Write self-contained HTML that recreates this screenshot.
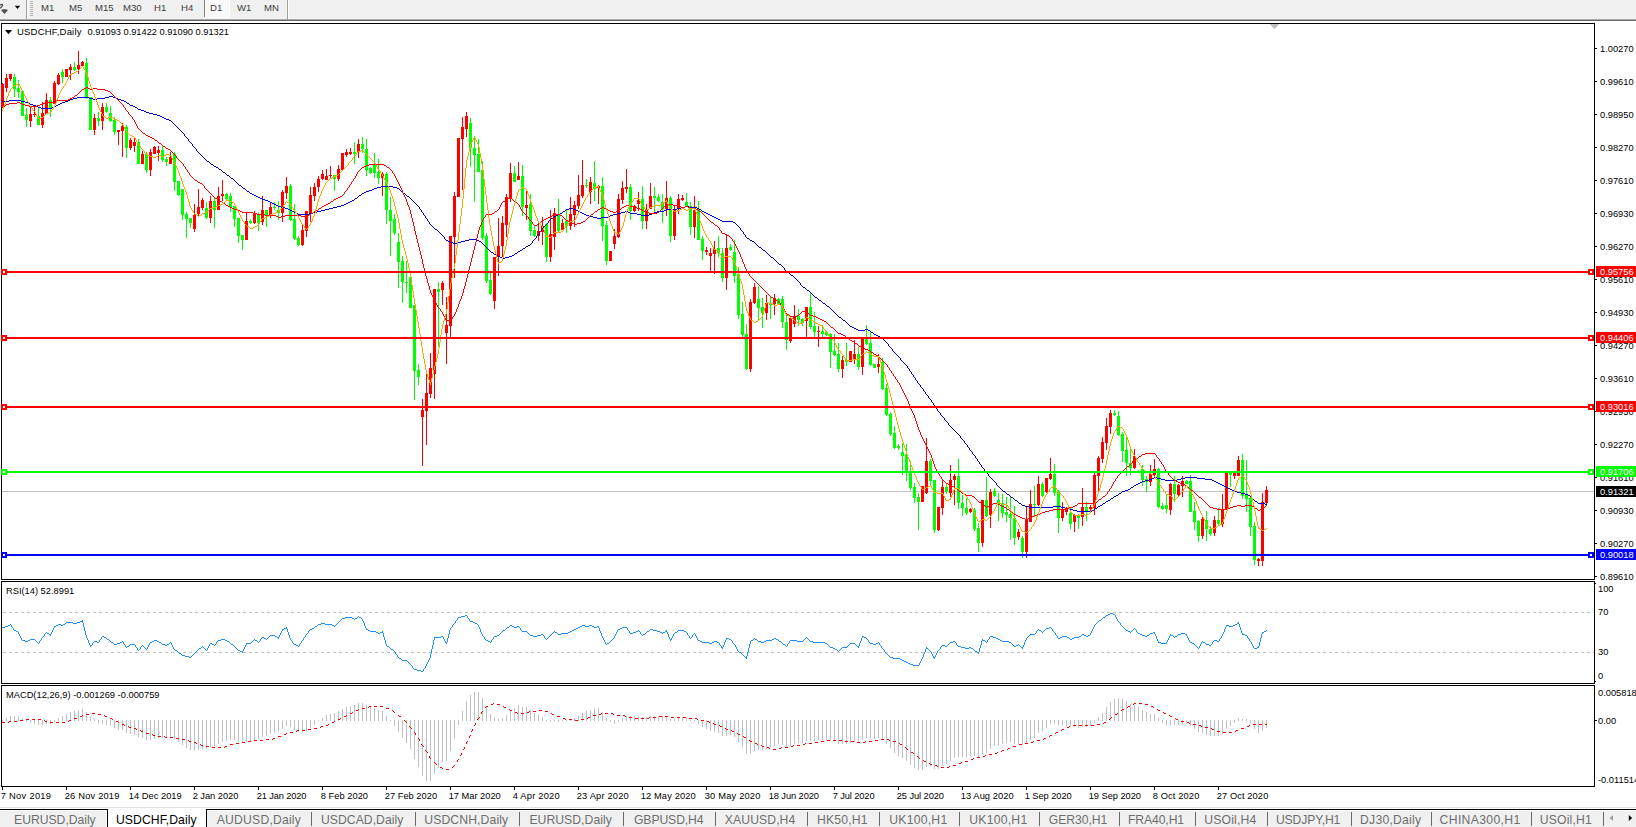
<!DOCTYPE html>
<html><head><meta charset="utf-8"><title>USDCHF,Daily</title>
<style>html,body{margin:0;padding:0;background:#fff;overflow:hidden}body{width:1636px;height:827px;font-family:"Liberation Sans", sans-serif}svg text{font-family:"Liberation Sans", sans-serif;white-space:pre}</style>
</head><body>
<svg width="1636" height="827" viewBox="0 0 1636 827" style="display:block;font-family:'Liberation Sans', sans-serif"><rect x="0" y="0" width="1636" height="18" fill="#f0f0f0" />
<rect x="0" y="18" width="1636" height="1" fill="#f4f4f4" />
<rect x="0" y="19" width="1636" height="1" fill="#a8a8a8" />
<rect x="0" y="20" width="1636" height="1" fill="#6a6a6a" />
<rect x="205" y="0" width="24" height="17" fill="#f8f8f8" />
<rect x="204" y="0" width="1" height="17" fill="#808080" />
<rect x="204" y="17" width="26" height="1" fill="#ffffff" />
<rect x="229" y="0" width="1" height="17" fill="#ffffff" />
<rect x="26" y="0" width="1" height="19" fill="#a0a0a0" />
<rect x="27" y="0" width="1" height="19" fill="#ffffff" />
<rect x="287" y="0" width="1" height="19" fill="#a0a0a0" />
<rect x="288" y="0" width="1" height="19" fill="#ffffff" />
<rect x="30" y="1" width="3" height="1" fill="#b4b4b4" />
<rect x="30" y="3" width="3" height="1" fill="#b4b4b4" />
<rect x="30" y="5" width="3" height="1" fill="#b4b4b4" />
<rect x="30" y="7" width="3" height="1" fill="#b4b4b4" />
<rect x="30" y="9" width="3" height="1" fill="#b4b4b4" />
<rect x="30" y="11" width="3" height="1" fill="#b4b4b4" />
<rect x="30" y="13" width="3" height="1" fill="#b4b4b4" />
<rect x="30" y="15" width="3" height="1" fill="#b4b4b4" />
<path d="M14.8 5.8 h5.4 l-2.7 3.3 z" fill="#000"/>
<path d="M0 5.2 q2 -1.4 2.6 -0.2 q0.3 1 -2.6 3.2" stroke="#4a4a4a" stroke-width="1.3" fill="none"/>
<path d="M1 10 l2.2 -0.8 h2.6 l2.2 0.8 l-3.5 3.9 z" fill="#505050"/>
<text x="41" y="10.8" font-size="9.6" fill="#3c3c3c" text-anchor="start" >M1</text>
<text x="69" y="10.8" font-size="9.6" fill="#3c3c3c" text-anchor="start" >M5</text>
<text x="95" y="10.8" font-size="9.6" fill="#3c3c3c" text-anchor="start" >M15</text>
<text x="123" y="10.8" font-size="9.6" fill="#3c3c3c" text-anchor="start" >M30</text>
<text x="154" y="10.8" font-size="9.6" fill="#3c3c3c" text-anchor="start" >H1</text>
<text x="181" y="10.8" font-size="9.6" fill="#3c3c3c" text-anchor="start" >H4</text>
<text x="210" y="10.8" font-size="9.6" fill="#3c3c3c" text-anchor="start" >D1</text>
<text x="237" y="10.8" font-size="9.6" fill="#3c3c3c" text-anchor="start" >W1</text>
<text x="264" y="10.8" font-size="9.6" fill="#3c3c3c" text-anchor="start" >MN</text>
<rect x="1" y="23" width="1594" height="1" fill="#000" />
<rect x="1" y="579" width="1594" height="1" fill="#000" />
<rect x="1" y="23" width="1" height="557" fill="#000" />
<rect x="1594" y="23" width="1" height="557" fill="#000" />
<rect x="1" y="581" width="1594" height="1" fill="#000" />
<rect x="1" y="683" width="1594" height="1" fill="#000" />
<rect x="1" y="581" width="1" height="103" fill="#000" />
<rect x="1594" y="581" width="1" height="103" fill="#000" />
<rect x="1" y="685" width="1594" height="1" fill="#000" />
<rect x="1" y="786" width="1594" height="1" fill="#000" />
<rect x="1" y="685" width="1" height="102" fill="#000" />
<rect x="1594" y="685" width="1" height="102" fill="#000" />
<path d="M1269.7 24 h9.6 l-4.8 5.2 z" fill="#c0c0c0"/>
<g shape-rendering="crispEdges">
<rect x="2" y="491" width="1592" height="1" fill="#c0c0c0" />
<rect x="2" y="83" width="1" height="24" fill="#ff0000" />
<rect x="1" y="84" width="3" height="23" fill="#ff0000" />
<rect x="6" y="74" width="1" height="18" fill="#ff0000" />
<rect x="5" y="78" width="3" height="10" fill="#ff0000" />
<rect x="10" y="74" width="1" height="7" fill="#ff0000" />
<rect x="9" y="74" width="3" height="5" fill="#ff0000" />
<rect x="14" y="74" width="1" height="23" fill="#00ff00" />
<rect x="13" y="77" width="3" height="12" fill="#00ff00" />
<rect x="18" y="80" width="1" height="18" fill="#00ff00" />
<rect x="17" y="88" width="3" height="4" fill="#00ff00" />
<rect x="22" y="91" width="1" height="25" fill="#00ff00" />
<rect x="21" y="91" width="3" height="25" fill="#00ff00" />
<rect x="26" y="108" width="1" height="19" fill="#00ff00" />
<rect x="25" y="115" width="3" height="5" fill="#00ff00" />
<rect x="30" y="107" width="1" height="20" fill="#ff0000" />
<rect x="29" y="114" width="3" height="7" fill="#ff0000" />
<rect x="34" y="106" width="1" height="11" fill="#ff0000" />
<rect x="33" y="114" width="3" height="1" fill="#ff0000" />
<rect x="38" y="107" width="1" height="18" fill="#00ff00" />
<rect x="37" y="116" width="3" height="9" fill="#00ff00" />
<rect x="42" y="102" width="1" height="26" fill="#ff0000" />
<rect x="41" y="113" width="3" height="12" fill="#ff0000" />
<rect x="46" y="93" width="1" height="21" fill="#ff0000" />
<rect x="45" y="100" width="3" height="14" fill="#ff0000" />
<rect x="50" y="97" width="1" height="20" fill="#00ff00" />
<rect x="49" y="100" width="3" height="8" fill="#00ff00" />
<rect x="54" y="81" width="1" height="23" fill="#ff0000" />
<rect x="53" y="83" width="3" height="21" fill="#ff0000" />
<rect x="58" y="73" width="1" height="12" fill="#ff0000" />
<rect x="57" y="75" width="3" height="9" fill="#ff0000" />
<rect x="62" y="69" width="1" height="14" fill="#00ff00" />
<rect x="61" y="72" width="3" height="5" fill="#00ff00" />
<rect x="66" y="69" width="1" height="8" fill="#ff0000" />
<rect x="65" y="69" width="3" height="8" fill="#ff0000" />
<rect x="70" y="64" width="1" height="16" fill="#ff0000" />
<rect x="69" y="67" width="3" height="3" fill="#ff0000" />
<rect x="74" y="62" width="1" height="9" fill="#00ff00" />
<rect x="73" y="67" width="3" height="3" fill="#00ff00" />
<rect x="78" y="51" width="1" height="23" fill="#ff0000" />
<rect x="77" y="65" width="3" height="4" fill="#ff0000" />
<rect x="82" y="61" width="1" height="5" fill="#ff0000" />
<rect x="81" y="62" width="3" height="4" fill="#ff0000" />
<rect x="86" y="58" width="1" height="41" fill="#00ff00" />
<rect x="85" y="63" width="3" height="35" fill="#00ff00" />
<rect x="90" y="97" width="1" height="33" fill="#00ff00" />
<rect x="89" y="97" width="3" height="33" fill="#00ff00" />
<rect x="94" y="114" width="1" height="21" fill="#ff0000" />
<rect x="93" y="118" width="3" height="12" fill="#ff0000" />
<rect x="98" y="112" width="1" height="14" fill="#00ff00" />
<rect x="97" y="118" width="3" height="3" fill="#00ff00" />
<rect x="102" y="103" width="1" height="27" fill="#ff0000" />
<rect x="101" y="107" width="3" height="14" fill="#ff0000" />
<rect x="106" y="103" width="1" height="10" fill="#00ff00" />
<rect x="105" y="107" width="3" height="5" fill="#00ff00" />
<rect x="110" y="106" width="1" height="16" fill="#00ff00" />
<rect x="109" y="113" width="3" height="8" fill="#00ff00" />
<rect x="114" y="117" width="1" height="18" fill="#00ff00" />
<rect x="113" y="120" width="3" height="12" fill="#00ff00" />
<rect x="118" y="130" width="1" height="15" fill="#ff0000" />
<rect x="117" y="130" width="3" height="2" fill="#ff0000" />
<rect x="122" y="123" width="1" height="34" fill="#ff0000" />
<rect x="121" y="126" width="3" height="5" fill="#ff0000" />
<rect x="126" y="125" width="1" height="33" fill="#00ff00" />
<rect x="125" y="127" width="3" height="21" fill="#00ff00" />
<rect x="130" y="138" width="1" height="12" fill="#ff0000" />
<rect x="129" y="140" width="3" height="8" fill="#ff0000" />
<rect x="134" y="138" width="1" height="14" fill="#ff0000" />
<rect x="133" y="142" width="3" height="4" fill="#ff0000" />
<rect x="138" y="139" width="1" height="25" fill="#00ff00" />
<rect x="137" y="142" width="3" height="22" fill="#00ff00" />
<rect x="142" y="151" width="1" height="13" fill="#ff0000" />
<rect x="141" y="154" width="3" height="10" fill="#ff0000" />
<rect x="146" y="152" width="1" height="21" fill="#00ff00" />
<rect x="145" y="154" width="3" height="16" fill="#00ff00" />
<rect x="150" y="149" width="1" height="27" fill="#ff0000" />
<rect x="149" y="152" width="3" height="18" fill="#ff0000" />
<rect x="154" y="146" width="1" height="8" fill="#ff0000" />
<rect x="153" y="147" width="3" height="7" fill="#ff0000" />
<rect x="158" y="146" width="1" height="15" fill="#ff0000" />
<rect x="157" y="150" width="3" height="3" fill="#ff0000" />
<rect x="162" y="146" width="1" height="16" fill="#00ff00" />
<rect x="161" y="150" width="3" height="10" fill="#00ff00" />
<rect x="166" y="157" width="1" height="9" fill="#00ff00" />
<rect x="165" y="159" width="3" height="3" fill="#00ff00" />
<rect x="170" y="152" width="1" height="12" fill="#ff0000" />
<rect x="169" y="157" width="3" height="7" fill="#ff0000" />
<rect x="174" y="152" width="1" height="39" fill="#00ff00" />
<rect x="173" y="154" width="3" height="28" fill="#00ff00" />
<rect x="178" y="181" width="1" height="15" fill="#00ff00" />
<rect x="177" y="181" width="3" height="14" fill="#00ff00" />
<rect x="182" y="189" width="1" height="31" fill="#00ff00" />
<rect x="181" y="189" width="3" height="26" fill="#00ff00" />
<rect x="186" y="212" width="1" height="26" fill="#00ff00" />
<rect x="185" y="214" width="3" height="5" fill="#00ff00" />
<rect x="190" y="218" width="1" height="10" fill="#00ff00" />
<rect x="189" y="218" width="3" height="5" fill="#00ff00" />
<rect x="194" y="204" width="1" height="28" fill="#ff0000" />
<rect x="193" y="215" width="3" height="14" fill="#ff0000" />
<rect x="198" y="189" width="1" height="28" fill="#ff0000" />
<rect x="197" y="207" width="3" height="7" fill="#ff0000" />
<rect x="202" y="198" width="1" height="12" fill="#ff0000" />
<rect x="201" y="200" width="3" height="8" fill="#ff0000" />
<rect x="206" y="202" width="1" height="17" fill="#00ff00" />
<rect x="205" y="208" width="3" height="10" fill="#00ff00" />
<rect x="210" y="196" width="1" height="27" fill="#ff0000" />
<rect x="209" y="201" width="3" height="17" fill="#ff0000" />
<rect x="214" y="198" width="1" height="30" fill="#00ff00" />
<rect x="213" y="201" width="3" height="9" fill="#00ff00" />
<rect x="218" y="187" width="1" height="23" fill="#ff0000" />
<rect x="217" y="196" width="3" height="14" fill="#ff0000" />
<rect x="222" y="180" width="1" height="21" fill="#ff0000" />
<rect x="221" y="194" width="3" height="2" fill="#ff0000" />
<rect x="226" y="193" width="1" height="8" fill="#00ff00" />
<rect x="225" y="194" width="3" height="5" fill="#00ff00" />
<rect x="230" y="193" width="1" height="19" fill="#00ff00" />
<rect x="229" y="196" width="3" height="11" fill="#00ff00" />
<rect x="234" y="206" width="1" height="21" fill="#00ff00" />
<rect x="233" y="206" width="3" height="13" fill="#00ff00" />
<rect x="238" y="218" width="1" height="25" fill="#00ff00" />
<rect x="237" y="218" width="3" height="18" fill="#00ff00" />
<rect x="242" y="235" width="1" height="15" fill="#00ff00" />
<rect x="241" y="235" width="3" height="5" fill="#00ff00" />
<rect x="246" y="213" width="1" height="27" fill="#ff0000" />
<rect x="245" y="221" width="3" height="19" fill="#ff0000" />
<rect x="250" y="219" width="1" height="5" fill="#00ff00" />
<rect x="249" y="221" width="3" height="2" fill="#00ff00" />
<rect x="254" y="211" width="1" height="13" fill="#ff0000" />
<rect x="253" y="214" width="3" height="9" fill="#ff0000" />
<rect x="258" y="212" width="1" height="19" fill="#00ff00" />
<rect x="257" y="214" width="3" height="9" fill="#00ff00" />
<rect x="262" y="196" width="1" height="29" fill="#ff0000" />
<rect x="261" y="210" width="3" height="12" fill="#ff0000" />
<rect x="266" y="210" width="1" height="17" fill="#00ff00" />
<rect x="265" y="210" width="3" height="5" fill="#00ff00" />
<rect x="270" y="203" width="1" height="15" fill="#ff0000" />
<rect x="269" y="207" width="3" height="8" fill="#ff0000" />
<rect x="274" y="202" width="1" height="8" fill="#00ff00" />
<rect x="273" y="207" width="3" height="1" fill="#00ff00" />
<rect x="278" y="201" width="1" height="19" fill="#00ff00" />
<rect x="277" y="210" width="3" height="3" fill="#00ff00" />
<rect x="282" y="190" width="1" height="32" fill="#ff0000" />
<rect x="281" y="192" width="3" height="21" fill="#ff0000" />
<rect x="286" y="177" width="1" height="22" fill="#ff0000" />
<rect x="285" y="186" width="3" height="7" fill="#ff0000" />
<rect x="290" y="184" width="1" height="37" fill="#00ff00" />
<rect x="289" y="186" width="3" height="34" fill="#00ff00" />
<rect x="294" y="204" width="1" height="36" fill="#00ff00" />
<rect x="293" y="219" width="3" height="20" fill="#00ff00" />
<rect x="298" y="236" width="1" height="10" fill="#00ff00" />
<rect x="297" y="238" width="3" height="7" fill="#00ff00" />
<rect x="302" y="225" width="1" height="21" fill="#ff0000" />
<rect x="301" y="230" width="3" height="15" fill="#ff0000" />
<rect x="306" y="211" width="1" height="26" fill="#ff0000" />
<rect x="305" y="211" width="3" height="20" fill="#ff0000" />
<rect x="310" y="187" width="1" height="35" fill="#ff0000" />
<rect x="309" y="195" width="3" height="18" fill="#ff0000" />
<rect x="314" y="183" width="1" height="18" fill="#ff0000" />
<rect x="313" y="187" width="3" height="9" fill="#ff0000" />
<rect x="318" y="176" width="1" height="16" fill="#ff0000" />
<rect x="317" y="179" width="3" height="8" fill="#ff0000" />
<rect x="322" y="170" width="1" height="10" fill="#ff0000" />
<rect x="321" y="174" width="3" height="5" fill="#ff0000" />
<rect x="326" y="169" width="1" height="11" fill="#ff0000" />
<rect x="325" y="176" width="3" height="4" fill="#ff0000" />
<rect x="330" y="166" width="1" height="12" fill="#ff0000" />
<rect x="329" y="175" width="3" height="1" fill="#ff0000" />
<rect x="334" y="175" width="1" height="16" fill="#00ff00" />
<rect x="333" y="175" width="3" height="4" fill="#00ff00" />
<rect x="338" y="165" width="1" height="16" fill="#ff0000" />
<rect x="337" y="169" width="3" height="10" fill="#ff0000" />
<rect x="342" y="153" width="1" height="17" fill="#ff0000" />
<rect x="341" y="153" width="3" height="17" fill="#ff0000" />
<rect x="346" y="149" width="1" height="8" fill="#ff0000" />
<rect x="345" y="152" width="3" height="3" fill="#ff0000" />
<rect x="350" y="148" width="1" height="7" fill="#ff0000" />
<rect x="349" y="152" width="3" height="2" fill="#ff0000" />
<rect x="354" y="142" width="1" height="22" fill="#00ff00" />
<rect x="353" y="152" width="3" height="2" fill="#00ff00" />
<rect x="358" y="139" width="1" height="19" fill="#ff0000" />
<rect x="357" y="144" width="3" height="8" fill="#ff0000" />
<rect x="362" y="137" width="1" height="16" fill="#00ff00" />
<rect x="361" y="144" width="3" height="5" fill="#00ff00" />
<rect x="366" y="139" width="1" height="37" fill="#00ff00" />
<rect x="365" y="149" width="3" height="21" fill="#00ff00" />
<rect x="370" y="167" width="1" height="7" fill="#00ff00" />
<rect x="369" y="168" width="3" height="5" fill="#00ff00" />
<rect x="374" y="153" width="1" height="25" fill="#00ff00" />
<rect x="373" y="165" width="3" height="8" fill="#00ff00" />
<rect x="378" y="159" width="1" height="25" fill="#00ff00" />
<rect x="377" y="172" width="3" height="6" fill="#00ff00" />
<rect x="382" y="172" width="1" height="24" fill="#ff0000" />
<rect x="381" y="174" width="3" height="4" fill="#ff0000" />
<rect x="386" y="172" width="1" height="52" fill="#00ff00" />
<rect x="385" y="174" width="3" height="36" fill="#00ff00" />
<rect x="390" y="197" width="1" height="59" fill="#00ff00" />
<rect x="389" y="210" width="3" height="11" fill="#00ff00" />
<rect x="394" y="214" width="1" height="21" fill="#00ff00" />
<rect x="393" y="219" width="3" height="14" fill="#00ff00" />
<rect x="398" y="233" width="1" height="55" fill="#00ff00" />
<rect x="397" y="242" width="3" height="20" fill="#00ff00" />
<rect x="402" y="256" width="1" height="47" fill="#00ff00" />
<rect x="401" y="261" width="3" height="21" fill="#00ff00" />
<rect x="406" y="261" width="1" height="32" fill="#00ff00" />
<rect x="405" y="282" width="3" height="1" fill="#00ff00" />
<rect x="410" y="277" width="1" height="31" fill="#00ff00" />
<rect x="409" y="277" width="3" height="31" fill="#00ff00" />
<rect x="414" y="305" width="1" height="95" fill="#00ff00" />
<rect x="413" y="305" width="3" height="66" fill="#00ff00" />
<rect x="418" y="364" width="1" height="21" fill="#00ff00" />
<rect x="417" y="370" width="3" height="7" fill="#00ff00" />
<rect x="422" y="399" width="1" height="67" fill="#ff0000" />
<rect x="421" y="410" width="3" height="7" fill="#ff0000" />
<rect x="426" y="373" width="1" height="72" fill="#ff0000" />
<rect x="425" y="393" width="3" height="18" fill="#ff0000" />
<rect x="430" y="353" width="1" height="45" fill="#ff0000" />
<rect x="429" y="368" width="3" height="26" fill="#ff0000" />
<rect x="434" y="289" width="1" height="110" fill="#ff0000" />
<rect x="433" y="289" width="3" height="85" fill="#ff0000" />
<rect x="438" y="282" width="1" height="65" fill="#00ff00" />
<rect x="437" y="289" width="3" height="3" fill="#00ff00" />
<rect x="442" y="281" width="1" height="24" fill="#ff0000" />
<rect x="441" y="283" width="3" height="7" fill="#ff0000" />
<rect x="446" y="297" width="1" height="67" fill="#ff0000" />
<rect x="445" y="325" width="3" height="8" fill="#ff0000" />
<rect x="450" y="236" width="1" height="101" fill="#ff0000" />
<rect x="449" y="236" width="3" height="90" fill="#ff0000" />
<rect x="454" y="192" width="1" height="86" fill="#ff0000" />
<rect x="453" y="196" width="3" height="41" fill="#ff0000" />
<rect x="458" y="138" width="1" height="59" fill="#ff0000" />
<rect x="457" y="138" width="3" height="59" fill="#ff0000" />
<rect x="462" y="117" width="1" height="73" fill="#ff0000" />
<rect x="461" y="127" width="3" height="12" fill="#ff0000" />
<rect x="466" y="112" width="1" height="25" fill="#ff0000" />
<rect x="465" y="116" width="3" height="13" fill="#ff0000" />
<rect x="470" y="118" width="1" height="49" fill="#00ff00" />
<rect x="469" y="123" width="3" height="25" fill="#00ff00" />
<rect x="474" y="136" width="1" height="66" fill="#00ff00" />
<rect x="473" y="148" width="3" height="7" fill="#00ff00" />
<rect x="478" y="139" width="1" height="33" fill="#00ff00" />
<rect x="477" y="154" width="3" height="18" fill="#00ff00" />
<rect x="482" y="161" width="1" height="79" fill="#00ff00" />
<rect x="481" y="170" width="3" height="68" fill="#00ff00" />
<rect x="486" y="233" width="1" height="50" fill="#00ff00" />
<rect x="485" y="236" width="3" height="45" fill="#00ff00" />
<rect x="490" y="273" width="1" height="22" fill="#00ff00" />
<rect x="489" y="280" width="3" height="14" fill="#00ff00" />
<rect x="494" y="257" width="1" height="52" fill="#ff0000" />
<rect x="493" y="257" width="3" height="44" fill="#ff0000" />
<rect x="498" y="218" width="1" height="58" fill="#ff0000" />
<rect x="497" y="246" width="3" height="11" fill="#ff0000" />
<rect x="502" y="216" width="1" height="41" fill="#ff0000" />
<rect x="501" y="223" width="3" height="23" fill="#ff0000" />
<rect x="506" y="194" width="1" height="43" fill="#ff0000" />
<rect x="505" y="197" width="3" height="28" fill="#ff0000" />
<rect x="510" y="163" width="1" height="39" fill="#ff0000" />
<rect x="509" y="173" width="3" height="25" fill="#ff0000" />
<rect x="514" y="166" width="1" height="16" fill="#00ff00" />
<rect x="513" y="173" width="3" height="9" fill="#00ff00" />
<rect x="518" y="162" width="1" height="18" fill="#ff0000" />
<rect x="517" y="176" width="3" height="4" fill="#ff0000" />
<rect x="522" y="165" width="1" height="51" fill="#00ff00" />
<rect x="521" y="176" width="3" height="31" fill="#00ff00" />
<rect x="526" y="191" width="1" height="29" fill="#ff0000" />
<rect x="525" y="205" width="3" height="3" fill="#ff0000" />
<rect x="530" y="194" width="1" height="42" fill="#00ff00" />
<rect x="529" y="204" width="3" height="27" fill="#00ff00" />
<rect x="534" y="226" width="1" height="11" fill="#00ff00" />
<rect x="533" y="230" width="3" height="6" fill="#00ff00" />
<rect x="538" y="223" width="1" height="18" fill="#ff0000" />
<rect x="537" y="231" width="3" height="5" fill="#ff0000" />
<rect x="542" y="217" width="1" height="28" fill="#ff0000" />
<rect x="541" y="226" width="3" height="6" fill="#ff0000" />
<rect x="546" y="223" width="1" height="39" fill="#00ff00" />
<rect x="545" y="224" width="3" height="33" fill="#00ff00" />
<rect x="550" y="210" width="1" height="52" fill="#ff0000" />
<rect x="549" y="234" width="3" height="23" fill="#ff0000" />
<rect x="554" y="208" width="1" height="42" fill="#ff0000" />
<rect x="553" y="213" width="3" height="24" fill="#ff0000" />
<rect x="558" y="199" width="1" height="34" fill="#00ff00" />
<rect x="557" y="214" width="3" height="17" fill="#00ff00" />
<rect x="562" y="219" width="1" height="11" fill="#ff0000" />
<rect x="561" y="223" width="3" height="7" fill="#ff0000" />
<rect x="566" y="210" width="1" height="23" fill="#00ff00" />
<rect x="565" y="221" width="3" height="5" fill="#00ff00" />
<rect x="570" y="197" width="1" height="33" fill="#ff0000" />
<rect x="569" y="214" width="3" height="12" fill="#ff0000" />
<rect x="574" y="201" width="1" height="26" fill="#ff0000" />
<rect x="573" y="205" width="3" height="10" fill="#ff0000" />
<rect x="578" y="175" width="1" height="34" fill="#ff0000" />
<rect x="577" y="195" width="3" height="11" fill="#ff0000" />
<rect x="582" y="160" width="1" height="38" fill="#ff0000" />
<rect x="581" y="185" width="3" height="11" fill="#ff0000" />
<rect x="586" y="179" width="1" height="9" fill="#00ff00" />
<rect x="585" y="185" width="3" height="1" fill="#00ff00" />
<rect x="590" y="177" width="1" height="27" fill="#ff0000" />
<rect x="589" y="182" width="3" height="10" fill="#ff0000" />
<rect x="594" y="161" width="1" height="40" fill="#00ff00" />
<rect x="593" y="183" width="3" height="6" fill="#00ff00" />
<rect x="598" y="185" width="1" height="19" fill="#ff0000" />
<rect x="597" y="186" width="3" height="2" fill="#ff0000" />
<rect x="602" y="177" width="1" height="64" fill="#00ff00" />
<rect x="601" y="186" width="3" height="40" fill="#00ff00" />
<rect x="606" y="221" width="1" height="44" fill="#00ff00" />
<rect x="605" y="225" width="3" height="36" fill="#00ff00" />
<rect x="610" y="251" width="1" height="10" fill="#ff0000" />
<rect x="609" y="251" width="3" height="10" fill="#ff0000" />
<rect x="614" y="229" width="1" height="20" fill="#ff0000" />
<rect x="613" y="236" width="3" height="8" fill="#ff0000" />
<rect x="618" y="194" width="1" height="44" fill="#ff0000" />
<rect x="617" y="199" width="3" height="38" fill="#ff0000" />
<rect x="622" y="181" width="1" height="23" fill="#ff0000" />
<rect x="621" y="188" width="3" height="12" fill="#ff0000" />
<rect x="626" y="169" width="1" height="24" fill="#ff0000" />
<rect x="625" y="187" width="3" height="2" fill="#ff0000" />
<rect x="630" y="184" width="1" height="36" fill="#00ff00" />
<rect x="629" y="187" width="3" height="24" fill="#00ff00" />
<rect x="634" y="205" width="1" height="7" fill="#ff0000" />
<rect x="633" y="206" width="3" height="5" fill="#ff0000" />
<rect x="638" y="192" width="1" height="19" fill="#ff0000" />
<rect x="637" y="200" width="3" height="4" fill="#ff0000" />
<rect x="642" y="186" width="1" height="43" fill="#00ff00" />
<rect x="641" y="199" width="3" height="22" fill="#00ff00" />
<rect x="646" y="204" width="1" height="25" fill="#ff0000" />
<rect x="645" y="209" width="3" height="12" fill="#ff0000" />
<rect x="650" y="183" width="1" height="26" fill="#ff0000" />
<rect x="649" y="196" width="3" height="13" fill="#ff0000" />
<rect x="654" y="187" width="1" height="27" fill="#00ff00" />
<rect x="653" y="196" width="3" height="2" fill="#00ff00" />
<rect x="658" y="194" width="1" height="8" fill="#00ff00" />
<rect x="657" y="197" width="3" height="4" fill="#00ff00" />
<rect x="662" y="194" width="1" height="29" fill="#00ff00" />
<rect x="661" y="202" width="3" height="7" fill="#00ff00" />
<rect x="666" y="181" width="1" height="35" fill="#ff0000" />
<rect x="665" y="198" width="3" height="11" fill="#ff0000" />
<rect x="670" y="196" width="1" height="46" fill="#00ff00" />
<rect x="669" y="198" width="3" height="38" fill="#00ff00" />
<rect x="674" y="205" width="1" height="35" fill="#ff0000" />
<rect x="673" y="209" width="3" height="27" fill="#ff0000" />
<rect x="678" y="194" width="1" height="20" fill="#ff0000" />
<rect x="677" y="199" width="3" height="10" fill="#ff0000" />
<rect x="682" y="195" width="1" height="6" fill="#ff0000" />
<rect x="681" y="198" width="3" height="2" fill="#ff0000" />
<rect x="686" y="193" width="1" height="14" fill="#00ff00" />
<rect x="685" y="202" width="3" height="4" fill="#00ff00" />
<rect x="690" y="202" width="1" height="33" fill="#00ff00" />
<rect x="689" y="206" width="3" height="21" fill="#00ff00" />
<rect x="694" y="196" width="1" height="42" fill="#ff0000" />
<rect x="693" y="210" width="3" height="17" fill="#ff0000" />
<rect x="698" y="201" width="1" height="39" fill="#00ff00" />
<rect x="697" y="209" width="3" height="31" fill="#00ff00" />
<rect x="702" y="236" width="1" height="24" fill="#00ff00" />
<rect x="701" y="239" width="3" height="12" fill="#00ff00" />
<rect x="706" y="247" width="1" height="8" fill="#ff0000" />
<rect x="705" y="250" width="3" height="2" fill="#ff0000" />
<rect x="710" y="248" width="1" height="24" fill="#ff0000" />
<rect x="709" y="253" width="3" height="3" fill="#ff0000" />
<rect x="714" y="241" width="1" height="33" fill="#ff0000" />
<rect x="713" y="249" width="3" height="5" fill="#ff0000" />
<rect x="718" y="236" width="1" height="21" fill="#00ff00" />
<rect x="717" y="248" width="3" height="5" fill="#00ff00" />
<rect x="722" y="248" width="1" height="34" fill="#00ff00" />
<rect x="721" y="253" width="3" height="25" fill="#00ff00" />
<rect x="726" y="234" width="1" height="56" fill="#ff0000" />
<rect x="725" y="248" width="3" height="30" fill="#ff0000" />
<rect x="730" y="244" width="1" height="7" fill="#00ff00" />
<rect x="729" y="247" width="3" height="3" fill="#00ff00" />
<rect x="734" y="240" width="1" height="43" fill="#00ff00" />
<rect x="733" y="252" width="3" height="24" fill="#00ff00" />
<rect x="738" y="267" width="1" height="52" fill="#00ff00" />
<rect x="737" y="274" width="3" height="41" fill="#00ff00" />
<rect x="742" y="302" width="1" height="35" fill="#00ff00" />
<rect x="741" y="314" width="3" height="21" fill="#00ff00" />
<rect x="746" y="324" width="1" height="46" fill="#00ff00" />
<rect x="745" y="334" width="3" height="35" fill="#00ff00" />
<rect x="750" y="299" width="1" height="73" fill="#ff0000" />
<rect x="749" y="302" width="3" height="67" fill="#ff0000" />
<rect x="754" y="283" width="1" height="21" fill="#ff0000" />
<rect x="753" y="287" width="3" height="16" fill="#ff0000" />
<rect x="758" y="286" width="1" height="34" fill="#00ff00" />
<rect x="757" y="299" width="3" height="9" fill="#00ff00" />
<rect x="762" y="298" width="1" height="30" fill="#00ff00" />
<rect x="761" y="307" width="3" height="6" fill="#00ff00" />
<rect x="766" y="295" width="1" height="25" fill="#ff0000" />
<rect x="765" y="303" width="3" height="10" fill="#ff0000" />
<rect x="770" y="296" width="1" height="23" fill="#00ff00" />
<rect x="769" y="303" width="3" height="2" fill="#00ff00" />
<rect x="774" y="294" width="1" height="21" fill="#ff0000" />
<rect x="773" y="298" width="3" height="6" fill="#ff0000" />
<rect x="778" y="298" width="1" height="7" fill="#00ff00" />
<rect x="777" y="299" width="3" height="5" fill="#00ff00" />
<rect x="782" y="296" width="1" height="32" fill="#00ff00" />
<rect x="781" y="299" width="3" height="23" fill="#00ff00" />
<rect x="786" y="315" width="1" height="35" fill="#00ff00" />
<rect x="785" y="322" width="3" height="18" fill="#00ff00" />
<rect x="790" y="317" width="1" height="26" fill="#ff0000" />
<rect x="789" y="318" width="3" height="23" fill="#ff0000" />
<rect x="794" y="305" width="1" height="22" fill="#ff0000" />
<rect x="793" y="316" width="3" height="8" fill="#ff0000" />
<rect x="798" y="309" width="1" height="17" fill="#00ff00" />
<rect x="797" y="316" width="3" height="4" fill="#00ff00" />
<rect x="802" y="318" width="1" height="8" fill="#00ff00" />
<rect x="801" y="319" width="3" height="4" fill="#00ff00" />
<rect x="806" y="307" width="1" height="31" fill="#ff0000" />
<rect x="805" y="307" width="3" height="14" fill="#ff0000" />
<rect x="810" y="292" width="1" height="37" fill="#00ff00" />
<rect x="809" y="307" width="3" height="20" fill="#00ff00" />
<rect x="814" y="312" width="1" height="25" fill="#00ff00" />
<rect x="813" y="326" width="3" height="6" fill="#00ff00" />
<rect x="818" y="326" width="1" height="21" fill="#ff0000" />
<rect x="817" y="331" width="3" height="1" fill="#ff0000" />
<rect x="822" y="325" width="1" height="12" fill="#00ff00" />
<rect x="821" y="331" width="3" height="3" fill="#00ff00" />
<rect x="826" y="331" width="1" height="5" fill="#00ff00" />
<rect x="825" y="332" width="3" height="3" fill="#00ff00" />
<rect x="830" y="333" width="1" height="35" fill="#00ff00" />
<rect x="829" y="334" width="3" height="18" fill="#00ff00" />
<rect x="834" y="334" width="1" height="22" fill="#00ff00" />
<rect x="833" y="351" width="3" height="4" fill="#00ff00" />
<rect x="838" y="343" width="1" height="29" fill="#00ff00" />
<rect x="837" y="354" width="3" height="15" fill="#00ff00" />
<rect x="842" y="356" width="1" height="22" fill="#ff0000" />
<rect x="841" y="360" width="3" height="9" fill="#ff0000" />
<rect x="846" y="343" width="1" height="23" fill="#00ff00" />
<rect x="845" y="360" width="3" height="2" fill="#00ff00" />
<rect x="850" y="351" width="1" height="11" fill="#ff0000" />
<rect x="849" y="351" width="3" height="11" fill="#ff0000" />
<rect x="854" y="340" width="1" height="24" fill="#ff0000" />
<rect x="853" y="354" width="3" height="5" fill="#ff0000" />
<rect x="858" y="347" width="1" height="23" fill="#00ff00" />
<rect x="857" y="354" width="3" height="13" fill="#00ff00" />
<rect x="862" y="337" width="1" height="38" fill="#ff0000" />
<rect x="861" y="338" width="3" height="29" fill="#ff0000" />
<rect x="866" y="325" width="1" height="20" fill="#00ff00" />
<rect x="865" y="339" width="3" height="5" fill="#00ff00" />
<rect x="870" y="332" width="1" height="34" fill="#00ff00" />
<rect x="869" y="343" width="3" height="22" fill="#00ff00" />
<rect x="874" y="364" width="1" height="4" fill="#00ff00" />
<rect x="873" y="364" width="3" height="4" fill="#00ff00" />
<rect x="878" y="354" width="1" height="19" fill="#ff0000" />
<rect x="877" y="364" width="3" height="3" fill="#ff0000" />
<rect x="882" y="358" width="1" height="32" fill="#00ff00" />
<rect x="881" y="362" width="3" height="27" fill="#00ff00" />
<rect x="886" y="384" width="1" height="32" fill="#00ff00" />
<rect x="885" y="388" width="3" height="27" fill="#00ff00" />
<rect x="890" y="412" width="1" height="24" fill="#00ff00" />
<rect x="889" y="414" width="3" height="20" fill="#00ff00" />
<rect x="894" y="426" width="1" height="23" fill="#00ff00" />
<rect x="893" y="433" width="3" height="15" fill="#00ff00" />
<rect x="898" y="444" width="1" height="6" fill="#00ff00" />
<rect x="897" y="446" width="3" height="2" fill="#00ff00" />
<rect x="902" y="443" width="1" height="32" fill="#00ff00" />
<rect x="901" y="452" width="3" height="4" fill="#00ff00" />
<rect x="906" y="444" width="1" height="37" fill="#00ff00" />
<rect x="905" y="454" width="3" height="19" fill="#00ff00" />
<rect x="910" y="461" width="1" height="29" fill="#00ff00" />
<rect x="909" y="472" width="3" height="16" fill="#00ff00" />
<rect x="914" y="483" width="1" height="20" fill="#00ff00" />
<rect x="913" y="487" width="3" height="11" fill="#00ff00" />
<rect x="918" y="493" width="1" height="37" fill="#00ff00" />
<rect x="917" y="497" width="3" height="5" fill="#00ff00" />
<rect x="922" y="486" width="1" height="16" fill="#ff0000" />
<rect x="921" y="486" width="3" height="16" fill="#ff0000" />
<rect x="926" y="438" width="1" height="56" fill="#ff0000" />
<rect x="925" y="461" width="3" height="32" fill="#ff0000" />
<rect x="930" y="459" width="1" height="26" fill="#00ff00" />
<rect x="929" y="461" width="3" height="20" fill="#00ff00" />
<rect x="934" y="480" width="1" height="53" fill="#00ff00" />
<rect x="933" y="480" width="3" height="50" fill="#00ff00" />
<rect x="938" y="507" width="1" height="24" fill="#ff0000" />
<rect x="937" y="507" width="3" height="23" fill="#ff0000" />
<rect x="942" y="479" width="1" height="36" fill="#ff0000" />
<rect x="941" y="487" width="3" height="21" fill="#ff0000" />
<rect x="946" y="483" width="1" height="11" fill="#00ff00" />
<rect x="945" y="487" width="3" height="5" fill="#00ff00" />
<rect x="950" y="465" width="1" height="32" fill="#ff0000" />
<rect x="949" y="480" width="3" height="13" fill="#ff0000" />
<rect x="954" y="474" width="1" height="31" fill="#ff0000" />
<rect x="953" y="476" width="3" height="4" fill="#ff0000" />
<rect x="958" y="459" width="1" height="50" fill="#00ff00" />
<rect x="957" y="476" width="3" height="27" fill="#00ff00" />
<rect x="962" y="495" width="1" height="21" fill="#00ff00" />
<rect x="961" y="503" width="3" height="5" fill="#00ff00" />
<rect x="966" y="498" width="1" height="17" fill="#00ff00" />
<rect x="965" y="508" width="3" height="5" fill="#00ff00" />
<rect x="970" y="508" width="1" height="5" fill="#ff0000" />
<rect x="969" y="509" width="3" height="3" fill="#ff0000" />
<rect x="974" y="508" width="1" height="23" fill="#00ff00" />
<rect x="973" y="510" width="3" height="19" fill="#00ff00" />
<rect x="978" y="523" width="1" height="29" fill="#00ff00" />
<rect x="977" y="528" width="3" height="15" fill="#00ff00" />
<rect x="982" y="500" width="1" height="47" fill="#ff0000" />
<rect x="981" y="500" width="3" height="43" fill="#ff0000" />
<rect x="986" y="477" width="1" height="40" fill="#00ff00" />
<rect x="985" y="500" width="3" height="16" fill="#00ff00" />
<rect x="990" y="489" width="1" height="39" fill="#ff0000" />
<rect x="989" y="492" width="3" height="23" fill="#ff0000" />
<rect x="994" y="488" width="1" height="9" fill="#00ff00" />
<rect x="993" y="491" width="3" height="5" fill="#00ff00" />
<rect x="998" y="493" width="1" height="28" fill="#00ff00" />
<rect x="997" y="500" width="3" height="4" fill="#00ff00" />
<rect x="1002" y="494" width="1" height="24" fill="#00ff00" />
<rect x="1001" y="503" width="3" height="10" fill="#00ff00" />
<rect x="1006" y="497" width="1" height="25" fill="#00ff00" />
<rect x="1005" y="512" width="3" height="3" fill="#00ff00" />
<rect x="1010" y="496" width="1" height="44" fill="#00ff00" />
<rect x="1009" y="514" width="3" height="4" fill="#00ff00" />
<rect x="1014" y="506" width="1" height="39" fill="#00ff00" />
<rect x="1013" y="518" width="3" height="20" fill="#00ff00" />
<rect x="1018" y="529" width="1" height="11" fill="#ff0000" />
<rect x="1017" y="532" width="3" height="5" fill="#ff0000" />
<rect x="1022" y="536" width="1" height="22" fill="#00ff00" />
<rect x="1021" y="538" width="3" height="14" fill="#00ff00" />
<rect x="1026" y="506" width="1" height="52" fill="#ff0000" />
<rect x="1025" y="520" width="3" height="32" fill="#ff0000" />
<rect x="1030" y="490" width="1" height="32" fill="#ff0000" />
<rect x="1029" y="504" width="3" height="18" fill="#ff0000" />
<rect x="1034" y="486" width="1" height="31" fill="#00ff00" />
<rect x="1033" y="504" width="3" height="1" fill="#00ff00" />
<rect x="1038" y="476" width="1" height="30" fill="#ff0000" />
<rect x="1037" y="484" width="3" height="21" fill="#ff0000" />
<rect x="1042" y="482" width="1" height="15" fill="#00ff00" />
<rect x="1041" y="484" width="3" height="12" fill="#00ff00" />
<rect x="1046" y="478" width="1" height="15" fill="#ff0000" />
<rect x="1045" y="478" width="3" height="14" fill="#ff0000" />
<rect x="1050" y="458" width="1" height="22" fill="#ff0000" />
<rect x="1049" y="474" width="3" height="5" fill="#ff0000" />
<rect x="1054" y="464" width="1" height="32" fill="#00ff00" />
<rect x="1053" y="474" width="3" height="19" fill="#00ff00" />
<rect x="1058" y="490" width="1" height="43" fill="#00ff00" />
<rect x="1057" y="491" width="3" height="27" fill="#00ff00" />
<rect x="1062" y="502" width="1" height="19" fill="#ff0000" />
<rect x="1061" y="510" width="3" height="8" fill="#ff0000" />
<rect x="1066" y="507" width="1" height="8" fill="#ff0000" />
<rect x="1065" y="508" width="3" height="4" fill="#ff0000" />
<rect x="1070" y="508" width="1" height="21" fill="#00ff00" />
<rect x="1069" y="513" width="3" height="11" fill="#00ff00" />
<rect x="1074" y="514" width="1" height="18" fill="#ff0000" />
<rect x="1073" y="515" width="3" height="7" fill="#ff0000" />
<rect x="1078" y="514" width="1" height="15" fill="#00ff00" />
<rect x="1077" y="515" width="3" height="3" fill="#00ff00" />
<rect x="1082" y="488" width="1" height="38" fill="#ff0000" />
<rect x="1081" y="507" width="3" height="10" fill="#ff0000" />
<rect x="1086" y="502" width="1" height="19" fill="#00ff00" />
<rect x="1085" y="507" width="3" height="5" fill="#00ff00" />
<rect x="1090" y="505" width="1" height="8" fill="#ff0000" />
<rect x="1089" y="507" width="3" height="2" fill="#ff0000" />
<rect x="1094" y="473" width="1" height="42" fill="#ff0000" />
<rect x="1093" y="475" width="3" height="33" fill="#ff0000" />
<rect x="1098" y="456" width="1" height="35" fill="#ff0000" />
<rect x="1097" y="458" width="3" height="18" fill="#ff0000" />
<rect x="1102" y="437" width="1" height="26" fill="#ff0000" />
<rect x="1101" y="442" width="3" height="17" fill="#ff0000" />
<rect x="1106" y="418" width="1" height="32" fill="#ff0000" />
<rect x="1105" y="426" width="3" height="17" fill="#ff0000" />
<rect x="1110" y="410" width="1" height="24" fill="#ff0000" />
<rect x="1109" y="413" width="3" height="14" fill="#ff0000" />
<rect x="1114" y="410" width="1" height="6" fill="#00ff00" />
<rect x="1113" y="413" width="3" height="2" fill="#00ff00" />
<rect x="1118" y="411" width="1" height="25" fill="#00ff00" />
<rect x="1117" y="416" width="3" height="19" fill="#00ff00" />
<rect x="1122" y="432" width="1" height="30" fill="#00ff00" />
<rect x="1121" y="434" width="3" height="17" fill="#00ff00" />
<rect x="1126" y="436" width="1" height="40" fill="#00ff00" />
<rect x="1125" y="450" width="3" height="13" fill="#00ff00" />
<rect x="1130" y="449" width="1" height="26" fill="#00ff00" />
<rect x="1129" y="463" width="3" height="5" fill="#00ff00" />
<rect x="1134" y="449" width="1" height="20" fill="#ff0000" />
<rect x="1133" y="456" width="3" height="12" fill="#ff0000" />
<rect x="1138" y="470" width="1" height="3" fill="#00ff00" />
<rect x="1137" y="471" width="3" height="1" fill="#00ff00" />
<rect x="1142" y="465" width="1" height="21" fill="#00ff00" />
<rect x="1141" y="469" width="3" height="11" fill="#00ff00" />
<rect x="1146" y="476" width="1" height="16" fill="#00ff00" />
<rect x="1145" y="479" width="3" height="3" fill="#00ff00" />
<rect x="1150" y="465" width="1" height="21" fill="#ff0000" />
<rect x="1149" y="474" width="3" height="8" fill="#ff0000" />
<rect x="1154" y="459" width="1" height="19" fill="#ff0000" />
<rect x="1153" y="469" width="3" height="6" fill="#ff0000" />
<rect x="1158" y="468" width="1" height="40" fill="#00ff00" />
<rect x="1157" y="469" width="3" height="38" fill="#00ff00" />
<rect x="1162" y="503" width="1" height="7" fill="#00ff00" />
<rect x="1161" y="506" width="3" height="3" fill="#00ff00" />
<rect x="1166" y="495" width="1" height="18" fill="#00ff00" />
<rect x="1165" y="505" width="3" height="4" fill="#00ff00" />
<rect x="1170" y="483" width="1" height="32" fill="#ff0000" />
<rect x="1169" y="484" width="3" height="26" fill="#ff0000" />
<rect x="1174" y="476" width="1" height="26" fill="#00ff00" />
<rect x="1173" y="484" width="3" height="10" fill="#00ff00" />
<rect x="1178" y="484" width="1" height="12" fill="#ff0000" />
<rect x="1177" y="485" width="3" height="10" fill="#ff0000" />
<rect x="1182" y="476" width="1" height="21" fill="#ff0000" />
<rect x="1181" y="481" width="3" height="5" fill="#ff0000" />
<rect x="1186" y="480" width="1" height="4" fill="#00ff00" />
<rect x="1185" y="481" width="3" height="3" fill="#00ff00" />
<rect x="1190" y="475" width="1" height="37" fill="#00ff00" />
<rect x="1189" y="481" width="3" height="31" fill="#00ff00" />
<rect x="1194" y="502" width="1" height="28" fill="#00ff00" />
<rect x="1193" y="511" width="3" height="11" fill="#00ff00" />
<rect x="1198" y="520" width="1" height="22" fill="#00ff00" />
<rect x="1197" y="521" width="3" height="15" fill="#00ff00" />
<rect x="1202" y="517" width="1" height="22" fill="#ff0000" />
<rect x="1201" y="519" width="3" height="17" fill="#ff0000" />
<rect x="1206" y="511" width="1" height="30" fill="#00ff00" />
<rect x="1205" y="520" width="3" height="9" fill="#00ff00" />
<rect x="1210" y="526" width="1" height="10" fill="#00ff00" />
<rect x="1209" y="529" width="3" height="5" fill="#00ff00" />
<rect x="1214" y="516" width="1" height="20" fill="#ff0000" />
<rect x="1213" y="520" width="3" height="13" fill="#ff0000" />
<rect x="1218" y="508" width="1" height="17" fill="#00ff00" />
<rect x="1217" y="520" width="3" height="4" fill="#00ff00" />
<rect x="1222" y="494" width="1" height="33" fill="#ff0000" />
<rect x="1221" y="509" width="3" height="15" fill="#ff0000" />
<rect x="1226" y="472" width="1" height="38" fill="#ff0000" />
<rect x="1225" y="472" width="3" height="37" fill="#ff0000" />
<rect x="1230" y="472" width="1" height="15" fill="#00ff00" />
<rect x="1229" y="472" width="3" height="3" fill="#00ff00" />
<rect x="1234" y="472" width="1" height="7" fill="#ff0000" />
<rect x="1233" y="472" width="3" height="4" fill="#ff0000" />
<rect x="1238" y="456" width="1" height="20" fill="#ff0000" />
<rect x="1237" y="460" width="3" height="16" fill="#ff0000" />
<rect x="1242" y="454" width="1" height="45" fill="#00ff00" />
<rect x="1241" y="460" width="3" height="36" fill="#00ff00" />
<rect x="1246" y="460" width="1" height="52" fill="#00ff00" />
<rect x="1245" y="494" width="3" height="5" fill="#00ff00" />
<rect x="1250" y="497" width="1" height="39" fill="#00ff00" />
<rect x="1249" y="498" width="3" height="29" fill="#00ff00" />
<rect x="1254" y="522" width="1" height="43" fill="#00ff00" />
<rect x="1253" y="526" width="3" height="34" fill="#00ff00" />
<rect x="1258" y="558" width="1" height="8" fill="#ff0000" />
<rect x="1257" y="559" width="3" height="2" fill="#ff0000" />
<rect x="1262" y="493" width="1" height="73" fill="#ff0000" />
<rect x="1261" y="502" width="3" height="59" fill="#ff0000" />
<rect x="1266" y="486" width="1" height="18" fill="#ff0000" />
<rect x="1265" y="490" width="3" height="13" fill="#ff0000" />
</g>
<path d="M109 96h4v1h-4zM77 97h12v1h-12zM105 97h4v1h-4zM113 97h3v1h-3zM73 98h4v1h-4zM89 98h4v1h-4zM97 98h8v1h-8zM116 98h2v1h-2zM70 99h3v1h-3zM93 99h4v1h-4zM118 99h3v1h-3zM9 100h12v1h-12zM68 100h2v1h-2zM121 100h3v1h-3zM2 101h7v1h-7zM21 101h4v1h-4zM65 101h3v1h-3zM124 101h2v1h-2zM25 102h3v1h-3zM62 102h3v1h-3zM126 102h1v1h-1zM28 103h2v1h-2zM60 103h2v1h-2zM127 103h2v1h-2zM30 104h3v1h-3zM58 104h2v1h-2zM129 104h1v1h-1zM33 105h3v1h-3zM56 105h2v1h-2zM130 105h3v1h-3zM36 106h2v1h-2zM54 106h2v1h-2zM133 106h2v1h-2zM38 107h3v1h-3zM52 107h2v1h-2zM135 107h2v1h-2zM41 108h11v1h-11zM137 108h1v1h-1zM138 109h3v1h-3zM141 110h3v1h-3zM144 111h2v1h-2zM146 112h3v1h-3zM149 113h4v1h-4zM153 114h4v1h-4zM157 115h3v1h-3zM160 116h2v1h-2zM162 117h2v1h-2zM164 118h2v1h-2zM166 119h3v1h-3zM169 120h2v1h-2zM171 121h1v1h-1zM172 122h1v1h-1zM173 123h1v1h-1zM174 124h1v1h-1zM175 125h1v1h-1zM176 126h1v1h-1zM177 127h1v1h-1zM178 128h1v1h-1zM179 129h1v1h-1zM180 130h1v1h-1zM181 131h1v1h-1zM182 132h1v1h-1zM183 133h1v1h-1zM184 134h1v1h-1zM184 135h1v1h-1zM185 136h1v1h-1zM186 137h1v1h-1zM187 138h1v1h-1zM188 139h1v1h-1zM188 140h1v1h-1zM189 141h1v1h-1zM190 142h1v1h-1zM191 143h1v1h-1zM192 144h1v1h-1zM192 145h1v1h-1zM193 146h1v1h-1zM194 147h1v1h-1zM195 148h1v1h-1zM196 149h1v1h-1zM196 150h1v1h-1zM197 151h1v1h-1zM198 152h1v1h-1zM199 153h1v1h-1zM200 154h1v1h-1zM201 155h1v1h-1zM202 156h1v1h-1zM203 157h1v1h-1zM204 158h1v1h-1zM205 159h1v1h-1zM206 160h1v1h-1zM207 161h2v1h-2zM209 162h1v1h-1zM210 163h1v1h-1zM211 164h2v1h-2zM213 165h1v1h-1zM214 166h2v1h-2zM216 167h2v1h-2zM218 168h1v1h-1zM219 169h2v1h-2zM221 170h1v1h-1zM222 171h1v1h-1zM223 172h2v1h-2zM225 173h1v1h-1zM226 174h1v1h-1zM227 175h2v1h-2zM229 176h1v1h-1zM230 177h1v1h-1zM231 178h2v1h-2zM233 179h1v1h-1zM234 180h1v1h-1zM235 181h1v1h-1zM236 182h1v1h-1zM237 183h1v1h-1zM238 184h1v1h-1zM239 185h2v1h-2zM241 186h1v1h-1zM381 186h12v1h-12zM242 187h1v1h-1zM377 187h4v1h-4zM393 187h4v1h-4zM243 188h2v1h-2zM374 188h3v1h-3zM397 188h2v1h-2zM245 189h1v1h-1zM372 189h2v1h-2zM399 189h1v1h-1zM246 190h1v1h-1zM369 190h3v1h-3zM400 190h1v1h-1zM247 191h2v1h-2zM366 191h3v1h-3zM401 191h1v1h-1zM249 192h1v1h-1zM364 192h2v1h-2zM402 192h1v1h-1zM250 193h2v1h-2zM362 193h2v1h-2zM403 193h2v1h-2zM252 194h2v1h-2zM361 194h1v1h-1zM405 194h1v1h-1zM254 195h2v1h-2zM359 195h2v1h-2zM406 195h1v1h-1zM256 196h2v1h-2zM358 196h1v1h-1zM407 196h2v1h-2zM258 197h2v1h-2zM357 197h1v1h-1zM409 197h1v1h-1zM260 198h2v1h-2zM355 198h2v1h-2zM410 198h1v1h-1zM262 199h3v1h-3zM354 199h1v1h-1zM411 199h1v1h-1zM265 200h3v1h-3zM352 200h2v1h-2zM412 200h1v1h-1zM268 201h2v1h-2zM350 201h2v1h-2zM413 201h1v1h-1zM270 202h2v1h-2zM348 202h2v1h-2zM414 202h1v1h-1zM272 203h2v1h-2zM346 203h2v1h-2zM415 203h1v1h-1zM274 204h2v1h-2zM344 204h2v1h-2zM416 204h1v1h-1zM276 205h2v1h-2zM341 205h3v1h-3zM417 205h1v1h-1zM278 206h3v1h-3zM337 206h4v1h-4zM418 206h1v1h-1zM685 206h4v1h-4zM281 207h4v1h-4zM333 207h4v1h-4zM419 207h1v1h-1zM681 207h4v1h-4zM689 207h8v1h-8zM285 208h3v1h-3zM329 208h4v1h-4zM419 208h1v1h-1zM569 208h4v1h-4zM677 208h4v1h-4zM697 208h2v1h-2zM288 209h2v1h-2zM325 209h4v1h-4zM420 209h1v1h-1zM566 209h3v1h-3zM573 209h3v1h-3zM666 209h11v1h-11zM699 209h2v1h-2zM290 210h2v1h-2zM321 210h4v1h-4zM421 210h1v1h-1zM565 210h1v1h-1zM576 210h2v1h-2zM664 210h2v1h-2zM701 210h1v1h-1zM292 211h2v1h-2zM317 211h4v1h-4zM421 211h1v1h-1zM563 211h2v1h-2zM578 211h2v1h-2zM625 211h3v1h-3zM657 211h7v1h-7zM702 211h2v1h-2zM294 212h2v1h-2zM313 212h4v1h-4zM422 212h1v1h-1zM562 212h1v1h-1zM580 212h2v1h-2zM621 212h4v1h-4zM628 212h2v1h-2zM654 212h3v1h-3zM704 212h2v1h-2zM296 213h2v1h-2zM309 213h4v1h-4zM423 213h1v1h-1zM560 213h2v1h-2zM582 213h2v1h-2zM617 213h4v1h-4zM630 213h7v1h-7zM652 213h2v1h-2zM706 213h2v1h-2zM298 214h11v1h-11zM423 214h1v1h-1zM558 214h2v1h-2zM584 214h2v1h-2zM613 214h4v1h-4zM637 214h4v1h-4zM649 214h3v1h-3zM708 214h2v1h-2zM424 215h1v1h-1zM556 215h2v1h-2zM586 215h3v1h-3zM610 215h3v1h-3zM641 215h8v1h-8zM710 215h2v1h-2zM425 216h1v1h-1zM554 216h2v1h-2zM589 216h4v1h-4zM608 216h2v1h-2zM712 216h2v1h-2zM425 217h1v1h-1zM553 217h1v1h-1zM593 217h4v1h-4zM601 217h7v1h-7zM714 217h2v1h-2zM426 218h1v1h-1zM551 218h2v1h-2zM597 218h4v1h-4zM716 218h2v1h-2zM427 219h1v1h-1zM550 219h1v1h-1zM718 219h2v1h-2zM427 220h1v1h-1zM549 220h1v1h-1zM720 220h2v1h-2zM428 221h1v1h-1zM548 221h1v1h-1zM722 221h11v1h-11zM429 222h1v1h-1zM548 222h1v1h-1zM733 222h2v1h-2zM429 223h1v1h-1zM547 223h1v1h-1zM735 223h1v1h-1zM430 224h1v1h-1zM546 224h1v1h-1zM736 224h1v1h-1zM431 225h1v1h-1zM545 225h1v1h-1zM737 225h1v1h-1zM432 226h1v1h-1zM544 226h1v1h-1zM738 226h1v1h-1zM433 227h1v1h-1zM543 227h1v1h-1zM739 227h1v1h-1zM434 228h1v1h-1zM542 228h1v1h-1zM740 228h1v1h-1zM435 229h2v1h-2zM541 229h1v1h-1zM740 229h1v1h-1zM437 230h1v1h-1zM541 230h1v1h-1zM741 230h1v1h-1zM438 231h1v1h-1zM540 231h1v1h-1zM742 231h1v1h-1zM439 232h1v1h-1zM539 232h1v1h-1zM743 232h1v1h-1zM440 233h1v1h-1zM539 233h1v1h-1zM743 233h1v1h-1zM441 234h1v1h-1zM538 234h1v1h-1zM744 234h1v1h-1zM442 235h1v1h-1zM537 235h1v1h-1zM745 235h1v1h-1zM443 236h1v1h-1zM536 236h1v1h-1zM745 236h1v1h-1zM444 237h1v1h-1zM536 237h1v1h-1zM746 237h1v1h-1zM444 238h1v1h-1zM535 238h1v1h-1zM747 238h2v1h-2zM445 239h1v1h-1zM469 239h8v1h-8zM534 239h1v1h-1zM749 239h1v1h-1zM446 240h2v1h-2zM465 240h4v1h-4zM477 240h2v1h-2zM533 240h1v1h-1zM750 240h2v1h-2zM448 241h2v1h-2zM461 241h4v1h-4zM479 241h2v1h-2zM532 241h1v1h-1zM752 241h2v1h-2zM450 242h3v1h-3zM457 242h4v1h-4zM481 242h1v1h-1zM532 242h1v1h-1zM754 242h1v1h-1zM453 243h4v1h-4zM482 243h1v1h-1zM531 243h1v1h-1zM755 243h1v1h-1zM483 244h1v1h-1zM530 244h1v1h-1zM756 244h1v1h-1zM484 245h1v1h-1zM528 245h2v1h-2zM757 245h1v1h-1zM485 246h1v1h-1zM526 246h2v1h-2zM758 246h1v1h-1zM486 247h1v1h-1zM525 247h1v1h-1zM759 247h2v1h-2zM487 248h1v1h-1zM523 248h2v1h-2zM761 248h1v1h-1zM488 249h1v1h-1zM522 249h1v1h-1zM762 249h1v1h-1zM489 250h1v1h-1zM520 250h2v1h-2zM763 250h2v1h-2zM490 251h1v1h-1zM518 251h2v1h-2zM765 251h1v1h-1zM491 252h2v1h-2zM517 252h1v1h-1zM766 252h1v1h-1zM493 253h1v1h-1zM515 253h2v1h-2zM767 253h1v1h-1zM494 254h2v1h-2zM514 254h1v1h-1zM768 254h1v1h-1zM496 255h2v1h-2zM512 255h2v1h-2zM769 255h1v1h-1zM498 256h2v1h-2zM509 256h3v1h-3zM770 256h1v1h-1zM500 257h2v1h-2zM505 257h4v1h-4zM771 257h2v1h-2zM502 258h3v1h-3zM773 258h1v1h-1zM774 259h1v1h-1zM775 260h1v1h-1zM776 261h1v1h-1zM777 262h1v1h-1zM778 263h1v1h-1zM779 264h2v1h-2zM781 265h1v1h-1zM782 266h1v1h-1zM783 267h1v1h-1zM784 268h1v1h-1zM784 269h1v1h-1zM785 270h1v1h-1zM786 271h1v1h-1zM787 272h2v1h-2zM789 273h1v1h-1zM790 274h1v1h-1zM791 275h2v1h-2zM793 276h1v1h-1zM794 277h1v1h-1zM795 278h1v1h-1zM796 279h1v1h-1zM797 280h1v1h-1zM798 281h1v1h-1zM799 282h1v1h-1zM800 283h1v1h-1zM800 284h1v1h-1zM801 285h1v1h-1zM802 286h1v1h-1zM803 287h2v1h-2zM805 288h1v1h-1zM806 289h1v1h-1zM807 290h2v1h-2zM809 291h1v1h-1zM810 292h1v1h-1zM811 293h1v1h-1zM812 294h1v1h-1zM813 295h1v1h-1zM814 296h1v1h-1zM815 297h2v1h-2zM817 298h1v1h-1zM818 299h1v1h-1zM819 300h2v1h-2zM821 301h1v1h-1zM822 302h1v1h-1zM823 303h2v1h-2zM825 304h1v1h-1zM826 305h1v1h-1zM827 306h2v1h-2zM829 307h1v1h-1zM830 308h1v1h-1zM831 309h1v1h-1zM832 310h1v1h-1zM833 311h1v1h-1zM834 312h1v1h-1zM835 313h1v1h-1zM836 314h1v1h-1zM837 315h1v1h-1zM838 316h1v1h-1zM839 317h2v1h-2zM841 318h1v1h-1zM842 319h1v1h-1zM843 320h2v1h-2zM845 321h1v1h-1zM846 322h1v1h-1zM847 323h1v1h-1zM848 324h1v1h-1zM849 325h1v1h-1zM850 326h2v1h-2zM852 327h2v1h-2zM854 328h2v1h-2zM856 329h2v1h-2zM865 329h3v1h-3zM858 330h7v1h-7zM868 330h2v1h-2zM870 331h1v1h-1zM871 332h2v1h-2zM873 333h1v1h-1zM874 334h2v1h-2zM876 335h2v1h-2zM878 336h2v1h-2zM880 337h2v1h-2zM882 338h1v1h-1zM883 339h1v1h-1zM884 340h1v1h-1zM885 341h1v1h-1zM886 342h1v1h-1zM887 343h1v1h-1zM888 344h1v1h-1zM888 345h1v1h-1zM889 346h1v1h-1zM890 347h1v1h-1zM891 348h1v1h-1zM892 349h1v1h-1zM892 350h1v1h-1zM893 351h1v1h-1zM894 352h1v1h-1zM895 353h1v1h-1zM896 354h1v1h-1zM897 355h1v1h-1zM898 356h1v1h-1zM899 357h1v1h-1zM900 358h1v1h-1zM900 359h1v1h-1zM901 360h1v1h-1zM902 361h1v1h-1zM903 362h1v1h-1zM904 363h1v1h-1zM905 364h1v1h-1zM906 365h1v1h-1zM907 366h1v1h-1zM907 367h1v1h-1zM908 368h1v1h-1zM909 369h1v1h-1zM909 370h1v1h-1zM910 371h1v1h-1zM911 372h1v1h-1zM911 373h1v1h-1zM912 374h1v1h-1zM913 375h1v1h-1zM913 376h1v1h-1zM914 377h1v1h-1zM915 378h1v1h-1zM915 379h1v1h-1zM916 380h1v1h-1zM917 381h1v1h-1zM917 382h1v1h-1zM918 383h1v1h-1zM919 384h1v1h-1zM920 385h1v1h-1zM920 386h1v1h-1zM921 387h1v1h-1zM922 388h1v1h-1zM923 389h1v1h-1zM923 390h1v1h-1zM924 391h1v1h-1zM925 392h1v1h-1zM925 393h1v1h-1zM926 394h1v1h-1zM927 395h1v1h-1zM928 396h1v1h-1zM928 397h1v1h-1zM929 398h1v1h-1zM930 399h1v1h-1zM931 400h1v1h-1zM931 401h1v1h-1zM932 402h1v1h-1zM933 403h1v1h-1zM933 404h1v1h-1zM934 405h1v1h-1zM935 406h1v1h-1zM935 407h1v1h-1zM936 408h1v1h-1zM937 409h1v1h-1zM937 410h1v1h-1zM938 411h1v1h-1zM939 412h1v1h-1zM940 413h1v1h-1zM940 414h1v1h-1zM941 415h1v1h-1zM942 416h1v1h-1zM943 417h1v1h-1zM944 418h1v1h-1zM944 419h1v1h-1zM945 420h1v1h-1zM946 421h1v1h-1zM947 422h1v1h-1zM948 423h1v1h-1zM948 424h1v1h-1zM949 425h1v1h-1zM950 426h1v1h-1zM951 427h1v1h-1zM952 428h1v1h-1zM953 429h1v1h-1zM954 430h1v1h-1zM955 431h1v1h-1zM956 432h1v1h-1zM957 433h1v1h-1zM958 434h1v1h-1zM959 435h1v1h-1zM960 436h1v1h-1zM960 437h1v1h-1zM961 438h1v1h-1zM962 439h1v1h-1zM963 440h1v1h-1zM964 441h1v1h-1zM964 442h1v1h-1zM965 443h1v1h-1zM966 444h1v1h-1zM967 445h1v1h-1zM967 446h1v1h-1zM968 447h1v1h-1zM969 448h1v1h-1zM969 449h1v1h-1zM970 450h1v1h-1zM971 451h1v1h-1zM972 452h1v1h-1zM972 453h1v1h-1zM973 454h1v1h-1zM974 455h1v1h-1zM975 456h1v1h-1zM975 457h1v1h-1zM976 458h1v1h-1zM977 459h1v1h-1zM977 460h1v1h-1zM978 461h1v1h-1zM979 462h1v1h-1zM979 463h1v1h-1zM980 464h1v1h-1zM981 465h1v1h-1zM981 466h1v1h-1zM982 467h1v1h-1zM983 468h1v1h-1zM984 469h1v1h-1zM984 470h1v1h-1zM985 471h1v1h-1zM986 472h1v1h-1zM987 473h1v1h-1zM988 474h1v1h-1zM988 475h1v1h-1zM989 476h1v1h-1zM990 477h1v1h-1zM1154 477h3v1h-3zM1185 477h12v1h-12zM991 478h1v1h-1zM1152 478h2v1h-2zM1157 478h4v1h-4zM1181 478h4v1h-4zM1197 478h8v1h-8zM992 479h1v1h-1zM1149 479h3v1h-3zM1161 479h4v1h-4zM1177 479h4v1h-4zM1205 479h7v1h-7zM993 480h1v1h-1zM1145 480h4v1h-4zM1165 480h12v1h-12zM1212 480h2v1h-2zM994 481h1v1h-1zM1142 481h3v1h-3zM1214 481h2v1h-2zM995 482h1v1h-1zM1140 482h2v1h-2zM1216 482h2v1h-2zM996 483h1v1h-1zM1138 483h2v1h-2zM1218 483h2v1h-2zM996 484h1v1h-1zM1136 484h2v1h-2zM1220 484h2v1h-2zM997 485h1v1h-1zM1134 485h2v1h-2zM1222 485h2v1h-2zM998 486h1v1h-1zM1133 486h1v1h-1zM1224 486h2v1h-2zM999 487h1v1h-1zM1131 487h2v1h-2zM1226 487h2v1h-2zM1000 488h1v1h-1zM1130 488h1v1h-1zM1228 488h2v1h-2zM1001 489h1v1h-1zM1128 489h2v1h-2zM1230 489h2v1h-2zM1002 490h1v1h-1zM1125 490h3v1h-3zM1232 490h2v1h-2zM1003 491h2v1h-2zM1122 491h3v1h-3zM1234 491h3v1h-3zM1005 492h1v1h-1zM1121 492h1v1h-1zM1237 492h4v1h-4zM1006 493h1v1h-1zM1119 493h2v1h-2zM1241 493h4v1h-4zM1007 494h2v1h-2zM1118 494h1v1h-1zM1245 494h3v1h-3zM1009 495h1v1h-1zM1116 495h2v1h-2zM1248 495h2v1h-2zM1010 496h1v1h-1zM1114 496h2v1h-2zM1250 496h1v1h-1zM1011 497h2v1h-2zM1113 497h1v1h-1zM1251 497h1v1h-1zM1013 498h1v1h-1zM1111 498h2v1h-2zM1252 498h1v1h-1zM1014 499h1v1h-1zM1110 499h1v1h-1zM1253 499h1v1h-1zM1015 500h2v1h-2zM1108 500h2v1h-2zM1254 500h1v1h-1zM1017 501h1v1h-1zM1106 501h2v1h-2zM1255 501h2v1h-2zM1018 502h1v1h-1zM1105 502h1v1h-1zM1257 502h1v1h-1zM1019 503h2v1h-2zM1103 503h2v1h-2zM1258 503h7v1h-7zM1021 504h1v1h-1zM1102 504h1v1h-1zM1265 504h2v1h-2zM1022 505h3v1h-3zM1100 505h2v1h-2zM1025 506h4v1h-4zM1053 506h8v1h-8zM1098 506h2v1h-2zM1029 507h24v1h-24zM1061 507h4v1h-4zM1097 507h1v1h-1zM1065 508h4v1h-4zM1095 508h2v1h-2zM1069 509h4v1h-4zM1094 509h1v1h-1zM1073 510h4v1h-4zM1092 510h2v1h-2zM1077 511h15v1h-15z" fill="#0000cd" shape-rendering="crispEdges"/>
<path d="M86 87h2v1h-2zM84 88h2v1h-2zM88 88h2v1h-2zM93 88h4v1h-4zM82 89h2v1h-2zM90 89h3v1h-3zM97 89h8v1h-8zM81 90h1v1h-1zM105 90h3v1h-3zM80 91h1v1h-1zM108 91h2v1h-2zM79 92h1v1h-1zM110 92h1v1h-1zM78 93h1v1h-1zM111 93h1v1h-1zM77 94h1v1h-1zM112 94h1v1h-1zM75 95h2v1h-2zM113 95h1v1h-1zM74 96h1v1h-1zM114 96h1v1h-1zM72 97h2v1h-2zM115 97h1v1h-1zM70 98h2v1h-2zM116 98h1v1h-1zM68 99h2v1h-2zM117 99h1v1h-1zM57 100h11v1h-11zM118 100h1v1h-1zM53 101h4v1h-4zM119 101h1v1h-1zM17 102h3v1h-3zM45 102h8v1h-8zM120 102h1v1h-1zM9 103h8v1h-8zM20 103h2v1h-2zM42 103h3v1h-3zM121 103h1v1h-1zM6 104h3v1h-3zM22 104h3v1h-3zM40 104h2v1h-2zM122 104h1v1h-1zM5 105h1v1h-1zM25 105h4v1h-4zM37 105h3v1h-3zM123 105h1v1h-1zM3 106h2v1h-2zM29 106h8v1h-8zM123 106h1v1h-1zM2 107h1v1h-1zM124 107h1v1h-1zM125 108h1v1h-1zM125 109h1v1h-1zM126 110h1v1h-1zM127 111h1v1h-1zM128 112h1v1h-1zM128 113h1v1h-1zM129 114h1v1h-1zM130 115h1v1h-1zM131 116h1v1h-1zM132 117h1v1h-1zM132 118h1v1h-1zM133 119h1v1h-1zM134 120h1v1h-1zM134 121h1v1h-1zM135 122h1v1h-1zM135 123h1v1h-1zM136 124h1v1h-1zM136 125h1v1h-1zM137 126h1v1h-1zM137 127h1v1h-1zM138 128h1v1h-1zM139 129h1v1h-1zM140 130h1v1h-1zM141 131h1v1h-1zM142 132h1v1h-1zM143 133h2v1h-2zM145 134h1v1h-1zM146 135h2v1h-2zM148 136h2v1h-2zM150 137h2v1h-2zM152 138h2v1h-2zM154 139h1v1h-1zM155 140h2v1h-2zM157 141h1v1h-1zM158 142h1v1h-1zM159 143h2v1h-2zM161 144h1v1h-1zM162 145h1v1h-1zM163 146h2v1h-2zM165 147h1v1h-1zM166 148h2v1h-2zM168 149h2v1h-2zM170 150h1v1h-1zM171 151h1v1h-1zM172 152h1v1h-1zM173 153h1v1h-1zM174 154h1v1h-1zM175 155h1v1h-1zM176 156h1v1h-1zM176 157h1v1h-1zM177 158h1v1h-1zM178 159h1v1h-1zM179 160h1v1h-1zM180 161h1v1h-1zM181 162h1v1h-1zM182 163h1v1h-1zM183 164h1v1h-1zM369 164h15v1h-15zM183 165h1v1h-1zM366 165h3v1h-3zM384 165h2v1h-2zM184 166h1v1h-1zM364 166h2v1h-2zM386 166h1v1h-1zM185 167h1v1h-1zM362 167h2v1h-2zM387 167h2v1h-2zM185 168h1v1h-1zM361 168h1v1h-1zM389 168h1v1h-1zM186 169h1v1h-1zM360 169h1v1h-1zM390 169h1v1h-1zM187 170h1v1h-1zM359 170h1v1h-1zM391 170h1v1h-1zM187 171h1v1h-1zM358 171h1v1h-1zM392 171h1v1h-1zM188 172h1v1h-1zM357 172h1v1h-1zM392 172h1v1h-1zM189 173h1v1h-1zM357 173h1v1h-1zM393 173h1v1h-1zM189 174h1v1h-1zM356 174h1v1h-1zM394 174h1v1h-1zM190 175h1v1h-1zM356 175h1v1h-1zM394 175h1v1h-1zM191 176h1v1h-1zM355 176h1v1h-1zM395 176h1v1h-1zM192 177h1v1h-1zM355 177h1v1h-1zM395 177h1v1h-1zM193 178h1v1h-1zM354 178h1v1h-1zM396 178h1v1h-1zM194 179h1v1h-1zM353 179h1v1h-1zM396 179h1v1h-1zM195 180h2v1h-2zM353 180h1v1h-1zM397 180h1v1h-1zM197 181h1v1h-1zM352 181h1v1h-1zM397 181h1v1h-1zM198 182h2v1h-2zM351 182h1v1h-1zM398 182h1v1h-1zM200 183h2v1h-2zM351 183h1v1h-1zM398 183h1v1h-1zM202 184h1v1h-1zM350 184h1v1h-1zM399 184h1v1h-1zM203 185h1v1h-1zM349 185h1v1h-1zM399 185h1v1h-1zM204 186h1v1h-1zM349 186h1v1h-1zM400 186h1v1h-1zM204 187h1v1h-1zM348 187h1v1h-1zM400 187h1v1h-1zM205 188h1v1h-1zM347 188h1v1h-1zM401 188h1v1h-1zM206 189h1v1h-1zM347 189h1v1h-1zM401 189h1v1h-1zM207 190h1v1h-1zM346 190h1v1h-1zM402 190h1v1h-1zM208 191h1v1h-1zM345 191h1v1h-1zM402 191h1v1h-1zM209 192h1v1h-1zM344 192h1v1h-1zM402 192h1v1h-1zM210 193h1v1h-1zM344 193h1v1h-1zM403 193h1v1h-1zM211 194h1v1h-1zM343 194h1v1h-1zM403 194h1v1h-1zM212 195h1v1h-1zM342 195h1v1h-1zM404 195h1v1h-1zM213 196h1v1h-1zM340 196h2v1h-2zM404 196h1v1h-1zM214 197h1v1h-1zM338 197h2v1h-2zM405 197h1v1h-1zM510 197h1v1h-1zM215 198h2v1h-2zM336 198h2v1h-2zM405 198h1v1h-1zM508 198h2v1h-2zM511 198h1v1h-1zM217 199h1v1h-1zM334 199h2v1h-2zM406 199h1v1h-1zM506 199h2v1h-2zM512 199h1v1h-1zM218 200h2v1h-2zM333 200h1v1h-1zM406 200h1v1h-1zM505 200h1v1h-1zM513 200h1v1h-1zM220 201h2v1h-2zM331 201h2v1h-2zM406 201h1v1h-1zM503 201h2v1h-2zM514 201h1v1h-1zM222 202h1v1h-1zM330 202h1v1h-1zM407 202h1v1h-1zM502 202h1v1h-1zM515 202h2v1h-2zM223 203h2v1h-2zM328 203h2v1h-2zM407 203h1v1h-1zM501 203h1v1h-1zM517 203h1v1h-1zM225 204h1v1h-1zM326 204h2v1h-2zM407 204h1v1h-1zM501 204h1v1h-1zM518 204h1v1h-1zM666 204h7v1h-7zM226 205h2v1h-2zM324 205h2v1h-2zM408 205h1v1h-1zM500 205h1v1h-1zM519 205h1v1h-1zM626 205h3v1h-3zM665 205h1v1h-1zM673 205h4v1h-4zM228 206h2v1h-2zM322 206h2v1h-2zM408 206h1v1h-1zM500 206h1v1h-1zM519 206h1v1h-1zM624 206h2v1h-2zM629 206h4v1h-4zM664 206h1v1h-1zM677 206h4v1h-4zM685 206h3v1h-3zM230 207h2v1h-2zM321 207h1v1h-1zM409 207h1v1h-1zM499 207h1v1h-1zM520 207h1v1h-1zM602 207h2v1h-2zM622 207h2v1h-2zM633 207h4v1h-4zM663 207h1v1h-1zM681 207h4v1h-4zM688 207h2v1h-2zM232 208h2v1h-2zM319 208h2v1h-2zM409 208h1v1h-1zM499 208h1v1h-1zM520 208h1v1h-1zM600 208h2v1h-2zM604 208h2v1h-2zM621 208h1v1h-1zM637 208h3v1h-3zM662 208h1v1h-1zM690 208h6v1h-6zM234 209h3v1h-3zM318 209h1v1h-1zM409 209h1v1h-1zM498 209h1v1h-1zM521 209h1v1h-1zM598 209h2v1h-2zM606 209h2v1h-2zM619 209h2v1h-2zM640 209h2v1h-2zM661 209h1v1h-1zM696 209h2v1h-2zM237 210h3v1h-3zM316 210h2v1h-2zM410 210h1v1h-1zM497 210h1v1h-1zM521 210h1v1h-1zM597 210h1v1h-1zM608 210h2v1h-2zM618 210h1v1h-1zM642 210h2v1h-2zM660 210h1v1h-1zM698 210h1v1h-1zM240 211h2v1h-2zM314 211h2v1h-2zM410 211h1v1h-1zM495 211h2v1h-2zM522 211h1v1h-1zM595 211h2v1h-2zM610 211h3v1h-3zM616 211h2v1h-2zM644 211h2v1h-2zM659 211h1v1h-1zM699 211h2v1h-2zM242 212h11v1h-11zM313 212h1v1h-1zM410 212h1v1h-1zM494 212h1v1h-1zM523 212h1v1h-1zM594 212h1v1h-1zM613 212h3v1h-3zM646 212h3v1h-3zM657 212h2v1h-2zM701 212h1v1h-1zM253 213h4v1h-4zM311 213h2v1h-2zM410 213h1v1h-1zM492 213h2v1h-2zM524 213h1v1h-1zM593 213h1v1h-1zM649 213h8v1h-8zM702 213h1v1h-1zM257 214h8v1h-8zM309 214h2v1h-2zM411 214h1v1h-1zM486 214h6v1h-6zM525 214h1v1h-1zM554 214h6v1h-6zM591 214h2v1h-2zM703 214h1v1h-1zM265 215h11v1h-11zM285 215h16v1h-16zM305 215h4v1h-4zM411 215h1v1h-1zM485 215h1v1h-1zM526 215h1v1h-1zM552 215h2v1h-2zM560 215h2v1h-2zM590 215h1v1h-1zM704 215h1v1h-1zM276 216h2v1h-2zM281 216h4v1h-4zM301 216h4v1h-4zM411 216h1v1h-1zM485 216h1v1h-1zM527 216h1v1h-1zM550 216h2v1h-2zM562 216h1v1h-1zM589 216h1v1h-1zM705 216h1v1h-1zM278 217h3v1h-3zM411 217h1v1h-1zM484 217h1v1h-1zM528 217h1v1h-1zM548 217h2v1h-2zM563 217h1v1h-1zM588 217h1v1h-1zM706 217h1v1h-1zM412 218h1v1h-1zM483 218h1v1h-1zM528 218h1v1h-1zM546 218h2v1h-2zM564 218h1v1h-1zM587 218h1v1h-1zM707 218h1v1h-1zM412 219h1v1h-1zM483 219h1v1h-1zM529 219h1v1h-1zM544 219h2v1h-2zM565 219h1v1h-1zM586 219h1v1h-1zM708 219h1v1h-1zM412 220h1v1h-1zM482 220h1v1h-1zM530 220h1v1h-1zM542 220h2v1h-2zM566 220h2v1h-2zM585 220h1v1h-1zM709 220h1v1h-1zM412 221h1v1h-1zM482 221h1v1h-1zM531 221h1v1h-1zM541 221h1v1h-1zM568 221h2v1h-2zM583 221h2v1h-2zM710 221h1v1h-1zM413 222h1v1h-1zM481 222h1v1h-1zM532 222h1v1h-1zM540 222h1v1h-1zM570 222h2v1h-2zM581 222h2v1h-2zM711 222h2v1h-2zM413 223h1v1h-1zM481 223h1v1h-1zM532 223h1v1h-1zM539 223h1v1h-1zM572 223h2v1h-2zM577 223h4v1h-4zM713 223h1v1h-1zM413 224h1v1h-1zM481 224h1v1h-1zM533 224h1v1h-1zM537 224h2v1h-2zM574 224h3v1h-3zM714 224h1v1h-1zM413 225h1v1h-1zM480 225h1v1h-1zM534 225h3v1h-3zM715 225h2v1h-2zM414 226h1v1h-1zM480 226h1v1h-1zM717 226h1v1h-1zM414 227h1v1h-1zM479 227h1v1h-1zM718 227h1v1h-1zM414 228h1v1h-1zM479 228h1v1h-1zM719 228h1v1h-1zM414 229h1v1h-1zM479 229h1v1h-1zM719 229h1v1h-1zM414 230h1v1h-1zM478 230h1v1h-1zM720 230h1v1h-1zM415 231h1v1h-1zM478 231h1v1h-1zM721 231h1v1h-1zM415 232h1v1h-1zM478 232h1v1h-1zM721 232h1v1h-1zM415 233h1v1h-1zM478 233h1v1h-1zM722 233h3v1h-3zM415 234h1v1h-1zM477 234h1v1h-1zM725 234h2v1h-2zM416 235h1v1h-1zM477 235h1v1h-1zM727 235h2v1h-2zM416 236h1v1h-1zM477 236h1v1h-1zM729 236h1v1h-1zM416 237h1v1h-1zM477 237h1v1h-1zM730 237h1v1h-1zM416 238h1v1h-1zM476 238h1v1h-1zM731 238h1v1h-1zM417 239h1v1h-1zM476 239h1v1h-1zM732 239h1v1h-1zM417 240h1v1h-1zM476 240h1v1h-1zM732 240h1v1h-1zM417 241h1v1h-1zM476 241h1v1h-1zM733 241h1v1h-1zM417 242h1v1h-1zM475 242h1v1h-1zM734 242h1v1h-1zM418 243h1v1h-1zM475 243h1v1h-1zM734 243h1v1h-1zM418 244h1v1h-1zM475 244h1v1h-1zM735 244h1v1h-1zM418 245h1v1h-1zM475 245h1v1h-1zM735 245h1v1h-1zM418 246h1v1h-1zM474 246h1v1h-1zM736 246h1v1h-1zM419 247h1v1h-1zM474 247h1v1h-1zM736 247h1v1h-1zM419 248h1v1h-1zM474 248h1v1h-1zM737 248h1v1h-1zM419 249h1v1h-1zM474 249h1v1h-1zM737 249h1v1h-1zM419 250h1v1h-1zM473 250h1v1h-1zM738 250h1v1h-1zM420 251h1v1h-1zM473 251h1v1h-1zM738 251h1v1h-1zM420 252h1v1h-1zM473 252h1v1h-1zM739 252h1v1h-1zM420 253h1v1h-1zM473 253h1v1h-1zM739 253h1v1h-1zM420 254h1v1h-1zM472 254h1v1h-1zM740 254h1v1h-1zM421 255h1v1h-1zM472 255h1v1h-1zM740 255h1v1h-1zM421 256h1v1h-1zM472 256h1v1h-1zM740 256h1v1h-1zM421 257h1v1h-1zM472 257h1v1h-1zM741 257h1v1h-1zM421 258h1v1h-1zM471 258h1v1h-1zM741 258h1v1h-1zM422 259h1v1h-1zM471 259h1v1h-1zM742 259h1v1h-1zM422 260h1v1h-1zM471 260h1v1h-1zM742 260h1v1h-1zM422 261h1v1h-1zM471 261h1v1h-1zM742 261h1v1h-1zM422 262h1v1h-1zM470 262h1v1h-1zM743 262h1v1h-1zM422 263h1v1h-1zM470 263h1v1h-1zM743 263h1v1h-1zM423 264h1v1h-1zM470 264h1v1h-1zM744 264h1v1h-1zM423 265h1v1h-1zM470 265h1v1h-1zM744 265h1v1h-1zM423 266h1v1h-1zM469 266h1v1h-1zM744 266h1v1h-1zM423 267h1v1h-1zM469 267h1v1h-1zM745 267h1v1h-1zM424 268h1v1h-1zM469 268h1v1h-1zM745 268h1v1h-1zM424 269h1v1h-1zM469 269h1v1h-1zM746 269h1v1h-1zM424 270h1v1h-1zM468 270h1v1h-1zM746 270h1v1h-1zM424 271h1v1h-1zM468 271h1v1h-1zM747 271h1v1h-1zM425 272h1v1h-1zM468 272h1v1h-1zM747 272h1v1h-1zM425 273h1v1h-1zM468 273h1v1h-1zM748 273h1v1h-1zM425 274h1v1h-1zM467 274h1v1h-1zM749 274h1v1h-1zM425 275h1v1h-1zM467 275h1v1h-1zM749 275h1v1h-1zM426 276h1v1h-1zM467 276h1v1h-1zM750 276h1v1h-1zM426 277h1v1h-1zM467 277h1v1h-1zM751 277h1v1h-1zM426 278h1v1h-1zM466 278h1v1h-1zM752 278h1v1h-1zM427 279h1v1h-1zM466 279h1v1h-1zM753 279h1v1h-1zM427 280h1v1h-1zM466 280h1v1h-1zM754 280h1v1h-1zM427 281h1v1h-1zM466 281h1v1h-1zM755 281h1v1h-1zM427 282h1v1h-1zM465 282h1v1h-1zM756 282h1v1h-1zM428 283h1v1h-1zM465 283h1v1h-1zM757 283h1v1h-1zM428 284h1v1h-1zM465 284h1v1h-1zM758 284h1v1h-1zM428 285h1v1h-1zM465 285h1v1h-1zM759 285h1v1h-1zM429 286h1v1h-1zM464 286h1v1h-1zM760 286h1v1h-1zM429 287h1v1h-1zM464 287h1v1h-1zM761 287h1v1h-1zM429 288h1v1h-1zM464 288h1v1h-1zM762 288h1v1h-1zM429 289h1v1h-1zM463 289h1v1h-1zM763 289h1v1h-1zM430 290h1v1h-1zM463 290h1v1h-1zM764 290h1v1h-1zM430 291h1v1h-1zM463 291h1v1h-1zM765 291h1v1h-1zM430 292h1v1h-1zM463 292h1v1h-1zM766 292h1v1h-1zM431 293h1v1h-1zM462 293h1v1h-1zM767 293h1v1h-1zM431 294h1v1h-1zM462 294h1v1h-1zM768 294h1v1h-1zM432 295h1v1h-1zM462 295h1v1h-1zM769 295h1v1h-1zM432 296h1v1h-1zM461 296h1v1h-1zM770 296h1v1h-1zM433 297h1v1h-1zM461 297h1v1h-1zM771 297h2v1h-2zM433 298h1v1h-1zM461 298h1v1h-1zM773 298h1v1h-1zM434 299h1v1h-1zM460 299h1v1h-1zM774 299h2v1h-2zM434 300h1v1h-1zM460 300h1v1h-1zM776 300h2v1h-2zM435 301h1v1h-1zM459 301h1v1h-1zM778 301h1v1h-1zM435 302h1v1h-1zM459 302h1v1h-1zM779 302h1v1h-1zM436 303h1v1h-1zM459 303h1v1h-1zM780 303h1v1h-1zM436 304h1v1h-1zM458 304h1v1h-1zM780 304h1v1h-1zM437 305h1v1h-1zM458 305h1v1h-1zM781 305h1v1h-1zM437 306h1v1h-1zM458 306h1v1h-1zM782 306h1v1h-1zM438 307h1v1h-1zM457 307h1v1h-1zM783 307h1v1h-1zM439 308h1v1h-1zM457 308h1v1h-1zM783 308h1v1h-1zM440 309h1v1h-1zM456 309h1v1h-1zM784 309h1v1h-1zM440 310h1v1h-1zM456 310h1v1h-1zM784 310h1v1h-1zM441 311h1v1h-1zM456 311h1v1h-1zM785 311h1v1h-1zM802 311h3v1h-3zM442 312h1v1h-1zM455 312h1v1h-1zM785 312h1v1h-1zM801 312h1v1h-1zM805 312h2v1h-2zM442 313h1v1h-1zM455 313h1v1h-1zM786 313h1v1h-1zM800 313h1v1h-1zM807 313h2v1h-2zM443 314h1v1h-1zM454 314h1v1h-1zM787 314h2v1h-2zM799 314h1v1h-1zM809 314h1v1h-1zM443 315h1v1h-1zM454 315h1v1h-1zM789 315h1v1h-1zM797 315h2v1h-2zM810 315h3v1h-3zM444 316h1v1h-1zM453 316h1v1h-1zM790 316h7v1h-7zM813 316h3v1h-3zM444 317h1v1h-1zM452 317h1v1h-1zM816 317h2v1h-2zM445 318h1v1h-1zM452 318h1v1h-1zM818 318h2v1h-2zM445 319h1v1h-1zM451 319h1v1h-1zM820 319h2v1h-2zM446 320h5v1h-5zM822 320h2v1h-2zM824 321h2v1h-2zM826 322h1v1h-1zM827 323h1v1h-1zM828 324h1v1h-1zM829 325h1v1h-1zM830 326h1v1h-1zM831 327h2v1h-2zM833 328h1v1h-1zM834 329h1v1h-1zM835 330h1v1h-1zM836 331h1v1h-1zM837 332h1v1h-1zM838 333h3v1h-3zM841 334h2v1h-2zM843 335h2v1h-2zM845 336h1v1h-1zM846 337h1v1h-1zM847 338h2v1h-2zM849 339h1v1h-1zM850 340h2v1h-2zM852 341h2v1h-2zM854 342h1v1h-1zM855 343h2v1h-2zM857 344h1v1h-1zM858 345h1v1h-1zM859 346h2v1h-2zM861 347h1v1h-1zM862 348h3v1h-3zM865 349h3v1h-3zM868 350h2v1h-2zM870 351h1v1h-1zM871 352h2v1h-2zM873 353h1v1h-1zM874 354h2v1h-2zM876 355h2v1h-2zM878 356h1v1h-1zM879 357h1v1h-1zM880 358h1v1h-1zM881 359h1v1h-1zM882 360h1v1h-1zM883 361h1v1h-1zM884 362h1v1h-1zM885 363h1v1h-1zM886 364h1v1h-1zM887 365h1v1h-1zM887 366h1v1h-1zM888 367h1v1h-1zM889 368h1v1h-1zM889 369h1v1h-1zM890 370h1v1h-1zM891 371h1v1h-1zM891 372h1v1h-1zM892 373h1v1h-1zM893 374h1v1h-1zM893 375h1v1h-1zM894 376h1v1h-1zM895 377h1v1h-1zM895 378h1v1h-1zM896 379h1v1h-1zM897 380h1v1h-1zM897 381h1v1h-1zM898 382h1v1h-1zM899 383h1v1h-1zM899 384h1v1h-1zM900 385h1v1h-1zM900 386h1v1h-1zM901 387h1v1h-1zM901 388h1v1h-1zM902 389h1v1h-1zM902 390h1v1h-1zM903 391h1v1h-1zM903 392h1v1h-1zM904 393h1v1h-1zM904 394h1v1h-1zM905 395h1v1h-1zM905 396h1v1h-1zM906 397h1v1h-1zM906 398h1v1h-1zM907 399h1v1h-1zM907 400h1v1h-1zM908 401h1v1h-1zM908 402h1v1h-1zM908 403h1v1h-1zM909 404h1v1h-1zM909 405h1v1h-1zM910 406h1v1h-1zM910 407h1v1h-1zM910 408h1v1h-1zM911 409h1v1h-1zM911 410h1v1h-1zM912 411h1v1h-1zM912 412h1v1h-1zM913 413h1v1h-1zM913 414h1v1h-1zM914 415h1v1h-1zM914 416h1v1h-1zM914 417h1v1h-1zM915 418h1v1h-1zM915 419h1v1h-1zM915 420h1v1h-1zM916 421h1v1h-1zM916 422h1v1h-1zM916 423h1v1h-1zM917 424h1v1h-1zM917 425h1v1h-1zM917 426h1v1h-1zM918 427h1v1h-1zM918 428h1v1h-1zM918 429h1v1h-1zM919 430h1v1h-1zM919 431h1v1h-1zM920 432h1v1h-1zM920 433h1v1h-1zM920 434h1v1h-1zM921 435h1v1h-1zM921 436h1v1h-1zM922 437h1v1h-1zM922 438h1v1h-1zM923 439h1v1h-1zM923 440h1v1h-1zM924 441h1v1h-1zM924 442h1v1h-1zM925 443h1v1h-1zM925 444h1v1h-1zM926 445h1v1h-1zM926 446h1v1h-1zM927 447h1v1h-1zM927 448h1v1h-1zM928 449h1v1h-1zM928 450h1v1h-1zM929 451h1v1h-1zM929 452h1v1h-1zM930 453h1v1h-1zM1145 453h10v1h-10zM930 454h1v1h-1zM1142 454h3v1h-3zM1155 454h1v1h-1zM931 455h1v1h-1zM1141 455h1v1h-1zM1156 455h1v1h-1zM931 456h1v1h-1zM1139 456h2v1h-2zM1156 456h1v1h-1zM931 457h1v1h-1zM1138 457h1v1h-1zM1157 457h1v1h-1zM932 458h1v1h-1zM1136 458h2v1h-2zM1158 458h1v1h-1zM932 459h1v1h-1zM1134 459h2v1h-2zM1159 459h1v1h-1zM932 460h1v1h-1zM1133 460h1v1h-1zM1159 460h1v1h-1zM933 461h1v1h-1zM1132 461h1v1h-1zM1160 461h1v1h-1zM933 462h1v1h-1zM1132 462h1v1h-1zM1161 462h1v1h-1zM933 463h1v1h-1zM1131 463h1v1h-1zM1161 463h1v1h-1zM934 464h1v1h-1zM1130 464h1v1h-1zM1162 464h1v1h-1zM934 465h1v1h-1zM1129 465h1v1h-1zM1163 465h1v1h-1zM934 466h1v1h-1zM1127 466h2v1h-2zM1163 466h1v1h-1zM935 467h1v1h-1zM1126 467h1v1h-1zM1164 467h1v1h-1zM935 468h1v1h-1zM1125 468h1v1h-1zM1164 468h1v1h-1zM936 469h1v1h-1zM1124 469h1v1h-1zM1165 469h1v1h-1zM936 470h1v1h-1zM1123 470h1v1h-1zM1165 470h1v1h-1zM937 471h1v1h-1zM1122 471h1v1h-1zM1166 471h1v1h-1zM937 472h1v1h-1zM1121 472h1v1h-1zM1167 472h1v1h-1zM938 473h1v1h-1zM1120 473h1v1h-1zM1168 473h1v1h-1zM939 474h1v1h-1zM1119 474h1v1h-1zM1168 474h1v1h-1zM939 475h1v1h-1zM1118 475h1v1h-1zM1169 475h1v1h-1zM940 476h1v1h-1zM1117 476h1v1h-1zM1170 476h1v1h-1zM941 477h1v1h-1zM1117 477h1v1h-1zM1171 477h1v1h-1zM941 478h1v1h-1zM1116 478h1v1h-1zM1172 478h1v1h-1zM942 479h1v1h-1zM1115 479h1v1h-1zM1173 479h1v1h-1zM943 480h1v1h-1zM1115 480h1v1h-1zM1174 480h2v1h-2zM944 481h1v1h-1zM1114 481h1v1h-1zM1176 481h2v1h-2zM945 482h1v1h-1zM1113 482h1v1h-1zM1178 482h2v1h-2zM946 483h2v1h-2zM1113 483h1v1h-1zM1180 483h2v1h-2zM948 484h2v1h-2zM1112 484h1v1h-1zM1182 484h3v1h-3zM950 485h2v1h-2zM1112 485h1v1h-1zM1185 485h2v1h-2zM952 486h2v1h-2zM1111 486h1v1h-1zM1187 486h1v1h-1zM954 487h1v1h-1zM1111 487h1v1h-1zM1188 487h1v1h-1zM955 488h2v1h-2zM1110 488h1v1h-1zM1189 488h1v1h-1zM957 489h1v1h-1zM1109 489h1v1h-1zM1190 489h1v1h-1zM958 490h1v1h-1zM1109 490h1v1h-1zM1191 490h2v1h-2zM959 491h2v1h-2zM1108 491h1v1h-1zM1193 491h1v1h-1zM961 492h1v1h-1zM1107 492h1v1h-1zM1194 492h1v1h-1zM962 493h2v1h-2zM1107 493h1v1h-1zM1195 493h1v1h-1zM964 494h2v1h-2zM1106 494h1v1h-1zM1196 494h1v1h-1zM966 495h6v1h-6zM1105 495h1v1h-1zM1197 495h1v1h-1zM972 496h2v1h-2zM1103 496h2v1h-2zM1198 496h1v1h-1zM974 497h1v1h-1zM1102 497h1v1h-1zM1199 497h2v1h-2zM975 498h1v1h-1zM1101 498h1v1h-1zM1201 498h1v1h-1zM976 499h1v1h-1zM1099 499h2v1h-2zM1202 499h1v1h-1zM977 500h1v1h-1zM1098 500h1v1h-1zM1203 500h1v1h-1zM978 501h1v1h-1zM1097 501h1v1h-1zM1204 501h1v1h-1zM979 502h2v1h-2zM1095 502h2v1h-2zM1205 502h1v1h-1zM981 503h1v1h-1zM993 503h4v1h-4zM1078 503h17v1h-17zM1206 503h1v1h-1zM982 504h1v1h-1zM990 504h3v1h-3zM997 504h3v1h-3zM1077 504h1v1h-1zM1207 504h1v1h-1zM983 505h2v1h-2zM989 505h1v1h-1zM1000 505h2v1h-2zM1075 505h2v1h-2zM1208 505h1v1h-1zM1237 505h4v1h-4zM1245 505h7v1h-7zM1266 505h1v1h-1zM985 506h1v1h-1zM987 506h2v1h-2zM1002 506h2v1h-2zM1073 506h2v1h-2zM1209 506h1v1h-1zM1233 506h4v1h-4zM1241 506h4v1h-4zM1252 506h2v1h-2zM1265 506h1v1h-1zM986 507h1v1h-1zM1004 507h2v1h-2zM1069 507h4v1h-4zM1210 507h3v1h-3zM1230 507h3v1h-3zM1254 507h1v1h-1zM1263 507h2v1h-2zM1006 508h1v1h-1zM1065 508h4v1h-4zM1213 508h4v1h-4zM1228 508h2v1h-2zM1255 508h2v1h-2zM1262 508h1v1h-1zM1007 509h2v1h-2zM1053 509h12v1h-12zM1217 509h11v1h-11zM1257 509h1v1h-1zM1260 509h2v1h-2zM1009 510h1v1h-1zM1049 510h4v1h-4zM1258 510h2v1h-2zM1010 511h1v1h-1zM1045 511h4v1h-4zM1011 512h2v1h-2zM1042 512h3v1h-3zM1013 513h1v1h-1zM1040 513h2v1h-2zM1014 514h2v1h-2zM1037 514h3v1h-3zM1016 515h2v1h-2zM1034 515h3v1h-3zM1018 516h2v1h-2zM1032 516h2v1h-2zM1020 517h2v1h-2zM1030 517h2v1h-2zM1022 518h3v1h-3zM1028 518h2v1h-2zM1025 519h3v1h-3z" fill="#ff0000" shape-rendering="crispEdges"/>
<path d="M82 66h1v1h-1zM81 67h1v1h-1zM83 67h1v1h-1zM80 68h1v1h-1zM83 68h1v1h-1zM79 69h1v1h-1zM84 69h1v1h-1zM78 70h1v1h-1zM85 70h1v1h-1zM76 71h2v1h-2zM85 71h1v1h-1zM74 72h2v1h-2zM86 72h1v1h-1zM72 73h2v1h-2zM86 73h1v1h-1zM70 74h2v1h-2zM87 74h1v1h-1zM69 75h1v1h-1zM87 75h1v1h-1zM69 76h1v1h-1zM87 76h1v1h-1zM68 77h1v1h-1zM88 77h1v1h-1zM68 78h1v1h-1zM88 78h1v1h-1zM67 79h1v1h-1zM88 79h1v1h-1zM67 80h1v1h-1zM88 80h1v1h-1zM66 81h1v1h-1zM89 81h1v1h-1zM66 82h1v1h-1zM89 82h1v1h-1zM18 83h1v1h-1zM65 83h1v1h-1zM89 83h1v1h-1zM16 84h2v1h-2zM19 84h1v1h-1zM65 84h1v1h-1zM90 84h1v1h-1zM14 85h2v1h-2zM19 85h1v1h-1zM64 85h1v1h-1zM90 85h1v1h-1zM13 86h1v1h-1zM20 86h1v1h-1zM63 86h1v1h-1zM90 86h1v1h-1zM12 87h1v1h-1zM20 87h1v1h-1zM63 87h1v1h-1zM91 87h1v1h-1zM11 88h1v1h-1zM21 88h1v1h-1zM62 88h1v1h-1zM91 88h1v1h-1zM10 89h1v1h-1zM21 89h1v1h-1zM61 89h1v1h-1zM92 89h1v1h-1zM10 90h1v1h-1zM22 90h1v1h-1zM61 90h1v1h-1zM92 90h1v1h-1zM9 91h1v1h-1zM22 91h1v1h-1zM60 91h1v1h-1zM92 91h1v1h-1zM9 92h1v1h-1zM23 92h1v1h-1zM60 92h1v1h-1zM93 92h1v1h-1zM8 93h1v1h-1zM23 93h1v1h-1zM59 93h1v1h-1zM93 93h1v1h-1zM8 94h1v1h-1zM24 94h1v1h-1zM59 94h1v1h-1zM94 94h1v1h-1zM8 95h1v1h-1zM24 95h1v1h-1zM58 95h1v1h-1zM94 95h1v1h-1zM7 96h1v1h-1zM25 96h1v1h-1zM58 96h1v1h-1zM94 96h1v1h-1zM7 97h1v1h-1zM25 97h1v1h-1zM58 97h1v1h-1zM95 97h1v1h-1zM6 98h1v1h-1zM26 98h1v1h-1zM57 98h1v1h-1zM95 98h1v1h-1zM6 99h1v1h-1zM26 99h1v1h-1zM57 99h1v1h-1zM95 99h1v1h-1zM6 100h1v1h-1zM27 100h1v1h-1zM56 100h1v1h-1zM96 100h1v1h-1zM5 101h1v1h-1zM27 101h1v1h-1zM56 101h1v1h-1zM96 101h1v1h-1zM5 102h1v1h-1zM28 102h1v1h-1zM56 102h1v1h-1zM97 102h1v1h-1zM5 103h1v1h-1zM28 103h1v1h-1zM55 103h1v1h-1zM97 103h1v1h-1zM4 104h1v1h-1zM29 104h1v1h-1zM55 104h1v1h-1zM97 104h1v1h-1zM4 105h1v1h-1zM29 105h1v1h-1zM54 105h1v1h-1zM98 105h1v1h-1zM3 106h1v1h-1zM30 106h1v1h-1zM54 106h1v1h-1zM98 106h1v1h-1zM3 107h1v1h-1zM31 107h1v1h-1zM53 107h1v1h-1zM98 107h1v1h-1zM3 108h1v1h-1zM32 108h1v1h-1zM53 108h1v1h-1zM99 108h1v1h-1zM2 109h1v1h-1zM32 109h1v1h-1zM52 109h1v1h-1zM99 109h1v1h-1zM2 110h1v1h-1zM33 110h1v1h-1zM51 110h1v1h-1zM100 110h1v1h-1zM34 111h1v1h-1zM51 111h1v1h-1zM100 111h1v1h-1zM35 112h1v1h-1zM49 112h2v1h-2zM101 112h1v1h-1zM35 113h1v1h-1zM46 113h3v1h-3zM101 113h1v1h-1zM36 114h1v1h-1zM45 114h1v1h-1zM102 114h1v1h-1zM36 115h1v1h-1zM44 115h1v1h-1zM102 115h1v1h-1zM37 116h1v1h-1zM43 116h1v1h-1zM103 116h2v1h-2zM110 116h1v1h-1zM37 117h1v1h-1zM41 117h2v1h-2zM105 117h1v1h-1zM108 117h2v1h-2zM111 117h2v1h-2zM38 118h3v1h-3zM106 118h2v1h-2zM113 118h1v1h-1zM114 119h3v1h-3zM117 120h2v1h-2zM119 121h1v1h-1zM120 122h1v1h-1zM121 123h1v1h-1zM122 124h1v1h-1zM123 125h1v1h-1zM123 126h1v1h-1zM124 127h1v1h-1zM124 128h1v1h-1zM125 129h1v1h-1zM125 130h1v1h-1zM126 131h1v1h-1zM127 132h1v1h-1zM128 133h1v1h-1zM129 134h1v1h-1zM130 135h2v1h-2zM132 136h2v1h-2zM134 137h1v1h-1zM474 137h1v1h-1zM135 138h1v1h-1zM473 138h1v1h-1zM475 138h1v1h-1zM135 139h1v1h-1zM473 139h1v1h-1zM475 139h1v1h-1zM136 140h1v1h-1zM472 140h1v1h-1zM476 140h1v1h-1zM136 141h1v1h-1zM472 141h1v1h-1zM476 141h1v1h-1zM137 142h1v1h-1zM471 142h1v1h-1zM477 142h1v1h-1zM137 143h1v1h-1zM471 143h1v1h-1zM477 143h1v1h-1zM138 144h1v1h-1zM470 144h1v1h-1zM478 144h1v1h-1zM139 145h1v1h-1zM470 145h1v1h-1zM478 145h1v1h-1zM140 146h1v1h-1zM470 146h1v1h-1zM478 146h1v1h-1zM140 147h1v1h-1zM470 147h1v1h-1zM479 147h1v1h-1zM141 148h1v1h-1zM469 148h1v1h-1zM479 148h1v1h-1zM142 149h1v1h-1zM469 149h1v1h-1zM479 149h1v1h-1zM143 150h1v1h-1zM361 150h2v1h-2zM469 150h1v1h-1zM479 150h1v1h-1zM144 151h1v1h-1zM358 151h3v1h-3zM363 151h1v1h-1zM469 151h1v1h-1zM479 151h1v1h-1zM144 152h1v1h-1zM357 152h1v1h-1zM364 152h1v1h-1zM468 152h1v1h-1zM479 152h1v1h-1zM145 153h1v1h-1zM356 153h1v1h-1zM365 153h1v1h-1zM468 153h1v1h-1zM480 153h1v1h-1zM146 154h2v1h-2zM166 154h3v1h-3zM356 154h1v1h-1zM366 154h1v1h-1zM468 154h1v1h-1zM480 154h1v1h-1zM148 155h2v1h-2zM158 155h3v1h-3zM164 155h2v1h-2zM169 155h2v1h-2zM355 155h1v1h-1zM367 155h1v1h-1zM468 155h1v1h-1zM480 155h1v1h-1zM150 156h3v1h-3zM156 156h2v1h-2zM161 156h3v1h-3zM171 156h1v1h-1zM354 156h1v1h-1zM368 156h1v1h-1zM467 156h1v1h-1zM480 156h1v1h-1zM153 157h3v1h-3zM171 157h1v1h-1zM353 157h1v1h-1zM369 157h1v1h-1zM467 157h1v1h-1zM480 157h1v1h-1zM172 158h1v1h-1zM352 158h1v1h-1zM370 158h1v1h-1zM467 158h1v1h-1zM481 158h1v1h-1zM172 159h1v1h-1zM352 159h1v1h-1zM371 159h1v1h-1zM467 159h1v1h-1zM481 159h1v1h-1zM173 160h1v1h-1zM351 160h1v1h-1zM372 160h1v1h-1zM466 160h1v1h-1zM481 160h1v1h-1zM173 161h1v1h-1zM350 161h1v1h-1zM373 161h1v1h-1zM466 161h1v1h-1zM481 161h1v1h-1zM174 162h1v1h-1zM349 162h1v1h-1zM374 162h1v1h-1zM466 162h1v1h-1zM481 162h1v1h-1zM174 163h1v1h-1zM348 163h1v1h-1zM375 163h1v1h-1zM466 163h1v1h-1zM481 163h1v1h-1zM175 164h1v1h-1zM348 164h1v1h-1zM375 164h1v1h-1zM466 164h1v1h-1zM482 164h1v1h-1zM175 165h1v1h-1zM347 165h1v1h-1zM376 165h1v1h-1zM466 165h1v1h-1zM482 165h1v1h-1zM176 166h1v1h-1zM346 166h1v1h-1zM376 166h1v1h-1zM466 166h1v1h-1zM482 166h1v1h-1zM176 167h1v1h-1zM345 167h1v1h-1zM377 167h1v1h-1zM466 167h1v1h-1zM482 167h1v1h-1zM177 168h1v1h-1zM344 168h1v1h-1zM377 168h1v1h-1zM465 168h1v1h-1zM482 168h1v1h-1zM177 169h1v1h-1zM343 169h1v1h-1zM378 169h1v1h-1zM465 169h1v1h-1zM482 169h1v1h-1zM178 170h1v1h-1zM342 170h1v1h-1zM379 170h1v1h-1zM465 170h1v1h-1zM482 170h1v1h-1zM178 171h1v1h-1zM341 171h1v1h-1zM380 171h1v1h-1zM465 171h1v1h-1zM483 171h1v1h-1zM178 172h1v1h-1zM340 172h1v1h-1zM380 172h1v1h-1zM465 172h1v1h-1zM483 172h1v1h-1zM179 173h1v1h-1zM339 173h1v1h-1zM381 173h1v1h-1zM465 173h1v1h-1zM483 173h1v1h-1zM179 174h1v1h-1zM338 174h1v1h-1zM382 174h1v1h-1zM465 174h1v1h-1zM483 174h1v1h-1zM179 175h1v1h-1zM336 175h2v1h-2zM382 175h1v1h-1zM465 175h1v1h-1zM483 175h1v1h-1zM180 176h1v1h-1zM334 176h2v1h-2zM383 176h1v1h-1zM465 176h1v1h-1zM483 176h1v1h-1zM180 177h1v1h-1zM332 177h2v1h-2zM383 177h1v1h-1zM465 177h1v1h-1zM483 177h1v1h-1zM181 178h1v1h-1zM330 178h2v1h-2zM384 178h1v1h-1zM464 178h1v1h-1zM483 178h1v1h-1zM181 179h1v1h-1zM329 179h1v1h-1zM384 179h1v1h-1zM464 179h1v1h-1zM484 179h1v1h-1zM181 180h1v1h-1zM328 180h1v1h-1zM385 180h1v1h-1zM464 180h1v1h-1zM484 180h1v1h-1zM182 181h1v1h-1zM327 181h1v1h-1zM385 181h1v1h-1zM464 181h1v1h-1zM484 181h1v1h-1zM182 182h1v1h-1zM326 182h1v1h-1zM386 182h1v1h-1zM464 182h1v1h-1zM484 182h1v1h-1zM182 183h1v1h-1zM325 183h1v1h-1zM386 183h1v1h-1zM464 183h1v1h-1zM484 183h1v1h-1zM183 184h1v1h-1zM325 184h1v1h-1zM387 184h1v1h-1zM464 184h1v1h-1zM484 184h1v1h-1zM183 185h1v1h-1zM324 185h1v1h-1zM387 185h1v1h-1zM464 185h1v1h-1zM484 185h1v1h-1zM183 186h1v1h-1zM324 186h1v1h-1zM388 186h1v1h-1zM464 186h1v1h-1zM484 186h1v1h-1zM597 186h2v1h-2zM184 187h1v1h-1zM323 187h1v1h-1zM388 187h1v1h-1zM464 187h1v1h-1zM485 187h1v1h-1zM522 187h2v1h-2zM594 187h3v1h-3zM598 187h1v1h-1zM184 188h1v1h-1zM323 188h1v1h-1zM389 188h1v1h-1zM464 188h1v1h-1zM485 188h1v1h-1zM521 188h1v1h-1zM524 188h2v1h-2zM593 188h1v1h-1zM599 188h1v1h-1zM185 189h1v1h-1zM322 189h1v1h-1zM389 189h1v1h-1zM463 189h1v1h-1zM485 189h1v1h-1zM519 189h2v1h-2zM526 189h1v1h-1zM592 189h1v1h-1zM599 189h1v1h-1zM185 190h1v1h-1zM322 190h1v1h-1zM390 190h1v1h-1zM463 190h1v1h-1zM485 190h1v1h-1zM518 190h1v1h-1zM526 190h1v1h-1zM591 190h1v1h-1zM600 190h1v1h-1zM185 191h1v1h-1zM321 191h1v1h-1zM390 191h1v1h-1zM463 191h1v1h-1zM485 191h1v1h-1zM518 191h1v1h-1zM527 191h1v1h-1zM590 191h1v1h-1zM600 191h1v1h-1zM186 192h1v1h-1zM321 192h1v1h-1zM390 192h1v1h-1zM463 192h1v1h-1zM485 192h1v1h-1zM517 192h1v1h-1zM527 192h1v1h-1zM589 192h1v1h-1zM601 192h1v1h-1zM186 193h1v1h-1zM321 193h1v1h-1zM391 193h1v1h-1zM463 193h1v1h-1zM485 193h1v1h-1zM517 193h1v1h-1zM527 193h1v1h-1zM589 193h1v1h-1zM601 193h1v1h-1zM186 194h1v1h-1zM320 194h1v1h-1zM391 194h1v1h-1zM463 194h1v1h-1zM485 194h1v1h-1zM517 194h1v1h-1zM528 194h1v1h-1zM588 194h1v1h-1zM602 194h1v1h-1zM187 195h1v1h-1zM320 195h1v1h-1zM391 195h1v1h-1zM463 195h1v1h-1zM486 195h1v1h-1zM517 195h1v1h-1zM528 195h1v1h-1zM587 195h1v1h-1zM602 195h1v1h-1zM187 196h1v1h-1zM319 196h1v1h-1zM392 196h1v1h-1zM463 196h1v1h-1zM486 196h1v1h-1zM516 196h1v1h-1zM529 196h1v1h-1zM587 196h1v1h-1zM603 196h1v1h-1zM187 197h1v1h-1zM319 197h1v1h-1zM392 197h1v1h-1zM463 197h1v1h-1zM486 197h1v1h-1zM516 197h1v1h-1zM529 197h1v1h-1zM586 197h1v1h-1zM603 197h1v1h-1zM187 198h1v1h-1zM319 198h1v1h-1zM392 198h1v1h-1zM463 198h1v1h-1zM486 198h1v1h-1zM516 198h1v1h-1zM529 198h1v1h-1zM585 198h1v1h-1zM603 198h1v1h-1zM634 198h5v1h-5zM188 199h1v1h-1zM318 199h1v1h-1zM393 199h1v1h-1zM462 199h1v1h-1zM486 199h1v1h-1zM515 199h1v1h-1zM530 199h1v1h-1zM585 199h1v1h-1zM603 199h1v1h-1zM633 199h1v1h-1zM639 199h1v1h-1zM188 200h1v1h-1zM226 200h3v1h-3zM318 200h1v1h-1zM393 200h1v1h-1zM462 200h1v1h-1zM486 200h1v1h-1zM515 200h1v1h-1zM530 200h1v1h-1zM584 200h1v1h-1zM604 200h1v1h-1zM633 200h1v1h-1zM639 200h1v1h-1zM666 200h1v1h-1zM188 201h1v1h-1zM225 201h1v1h-1zM229 201h3v1h-3zM286 201h1v1h-1zM318 201h1v1h-1zM393 201h1v1h-1zM462 201h1v1h-1zM486 201h1v1h-1zM515 201h1v1h-1zM530 201h1v1h-1zM584 201h1v1h-1zM604 201h1v1h-1zM632 201h1v1h-1zM640 201h1v1h-1zM665 201h2v1h-2zM189 202h1v1h-1zM224 202h1v1h-1zM232 202h2v1h-2zM285 202h1v1h-1zM287 202h2v1h-2zM317 202h1v1h-1zM394 202h1v1h-1zM462 202h1v1h-1zM486 202h1v1h-1zM515 202h1v1h-1zM531 202h1v1h-1zM583 202h1v1h-1zM604 202h1v1h-1zM631 202h1v1h-1zM640 202h1v1h-1zM663 202h2v1h-2zM667 202h1v1h-1zM189 203h1v1h-1zM223 203h1v1h-1zM234 203h1v1h-1zM285 203h1v1h-1zM289 203h1v1h-1zM317 203h1v1h-1zM394 203h1v1h-1zM462 203h1v1h-1zM487 203h1v1h-1zM514 203h1v1h-1zM531 203h1v1h-1zM583 203h1v1h-1zM604 203h1v1h-1zM631 203h1v1h-1zM641 203h1v1h-1zM662 203h1v1h-1zM667 203h1v1h-1zM189 204h1v1h-1zM221 204h2v1h-2zM234 204h1v1h-1zM284 204h1v1h-1zM290 204h1v1h-1zM317 204h1v1h-1zM394 204h1v1h-1zM462 204h1v1h-1zM487 204h1v1h-1zM514 204h1v1h-1zM531 204h1v1h-1zM582 204h1v1h-1zM605 204h1v1h-1zM630 204h1v1h-1zM641 204h1v1h-1zM660 204h2v1h-2zM668 204h1v1h-1zM189 205h1v1h-1zM218 205h3v1h-3zM235 205h1v1h-1zM283 205h1v1h-1zM291 205h1v1h-1zM317 205h1v1h-1zM394 205h1v1h-1zM462 205h1v1h-1zM487 205h1v1h-1zM514 205h1v1h-1zM532 205h1v1h-1zM582 205h1v1h-1zM605 205h1v1h-1zM629 205h1v1h-1zM642 205h1v1h-1zM654 205h6v1h-6zM668 205h1v1h-1zM190 206h1v1h-1zM216 206h2v1h-2zM235 206h1v1h-1zM283 206h1v1h-1zM291 206h1v1h-1zM316 206h1v1h-1zM395 206h1v1h-1zM462 206h1v1h-1zM487 206h1v1h-1zM513 206h1v1h-1zM532 206h1v1h-1zM581 206h1v1h-1zM605 206h1v1h-1zM629 206h1v1h-1zM643 206h1v1h-1zM652 206h2v1h-2zM669 206h1v1h-1zM190 207h1v1h-1zM213 207h3v1h-3zM236 207h1v1h-1zM282 207h1v1h-1zM292 207h1v1h-1zM316 207h1v1h-1zM395 207h1v1h-1zM462 207h1v1h-1zM487 207h1v1h-1zM513 207h1v1h-1zM533 207h1v1h-1zM581 207h1v1h-1zM605 207h1v1h-1zM628 207h1v1h-1zM644 207h1v1h-1zM650 207h2v1h-2zM669 207h1v1h-1zM191 208h1v1h-1zM210 208h3v1h-3zM236 208h1v1h-1zM281 208h1v1h-1zM293 208h1v1h-1zM316 208h1v1h-1zM395 208h1v1h-1zM461 208h1v1h-1zM487 208h1v1h-1zM513 208h1v1h-1zM533 208h1v1h-1zM580 208h1v1h-1zM606 208h1v1h-1zM628 208h1v1h-1zM644 208h1v1h-1zM649 208h1v1h-1zM670 208h1v1h-1zM682 208h2v1h-2zM690 208h5v1h-5zM191 209h1v1h-1zM209 209h1v1h-1zM237 209h1v1h-1zM280 209h1v1h-1zM293 209h1v1h-1zM315 209h1v1h-1zM395 209h1v1h-1zM461 209h1v1h-1zM487 209h1v1h-1zM513 209h1v1h-1zM533 209h1v1h-1zM580 209h1v1h-1zM606 209h1v1h-1zM627 209h1v1h-1zM645 209h1v1h-1zM647 209h2v1h-2zM671 209h2v1h-2zM680 209h2v1h-2zM684 209h2v1h-2zM688 209h2v1h-2zM694 209h1v1h-1zM192 210h1v1h-1zM208 210h1v1h-1zM237 210h1v1h-1zM279 210h1v1h-1zM294 210h1v1h-1zM315 210h1v1h-1zM396 210h1v1h-1zM461 210h1v1h-1zM488 210h1v1h-1zM512 210h1v1h-1zM534 210h1v1h-1zM579 210h1v1h-1zM606 210h1v1h-1zM627 210h1v1h-1zM646 210h1v1h-1zM673 210h1v1h-1zM677 210h3v1h-3zM686 210h2v1h-2zM695 210h1v1h-1zM193 211h1v1h-1zM207 211h1v1h-1zM238 211h1v1h-1zM278 211h1v1h-1zM295 211h1v1h-1zM315 211h1v1h-1zM396 211h1v1h-1zM461 211h1v1h-1zM488 211h1v1h-1zM512 211h1v1h-1zM534 211h1v1h-1zM579 211h1v1h-1zM607 211h1v1h-1zM626 211h1v1h-1zM674 211h3v1h-3zM695 211h1v1h-1zM193 212h1v1h-1zM205 212h2v1h-2zM238 212h1v1h-1zM276 212h2v1h-2zM295 212h1v1h-1zM315 212h1v1h-1zM396 212h1v1h-1zM461 212h1v1h-1zM488 212h1v1h-1zM512 212h1v1h-1zM534 212h1v1h-1zM578 212h1v1h-1zM607 212h1v1h-1zM626 212h1v1h-1zM696 212h1v1h-1zM194 213h1v1h-1zM202 213h3v1h-3zM239 213h1v1h-1zM273 213h3v1h-3zM296 213h1v1h-1zM314 213h1v1h-1zM396 213h1v1h-1zM461 213h1v1h-1zM488 213h1v1h-1zM512 213h1v1h-1zM535 213h1v1h-1zM578 213h1v1h-1zM607 213h1v1h-1zM626 213h1v1h-1zM696 213h1v1h-1zM195 214h2v1h-2zM201 214h1v1h-1zM239 214h1v1h-1zM270 214h3v1h-3zM297 214h1v1h-1zM314 214h1v1h-1zM397 214h1v1h-1zM461 214h1v1h-1zM488 214h1v1h-1zM511 214h1v1h-1zM535 214h1v1h-1zM577 214h1v1h-1zM608 214h1v1h-1zM625 214h1v1h-1zM697 214h1v1h-1zM197 215h1v1h-1zM199 215h2v1h-2zM240 215h1v1h-1zM269 215h1v1h-1zM297 215h1v1h-1zM314 215h1v1h-1zM397 215h1v1h-1zM461 215h1v1h-1zM488 215h1v1h-1zM511 215h1v1h-1zM535 215h1v1h-1zM577 215h1v1h-1zM608 215h1v1h-1zM625 215h1v1h-1zM697 215h1v1h-1zM198 216h1v1h-1zM240 216h1v1h-1zM267 216h2v1h-2zM298 216h1v1h-1zM313 216h1v1h-1zM397 216h1v1h-1zM460 216h1v1h-1zM488 216h1v1h-1zM511 216h1v1h-1zM536 216h1v1h-1zM576 216h1v1h-1zM608 216h1v1h-1zM625 216h1v1h-1zM698 216h1v1h-1zM241 217h1v1h-1zM265 217h2v1h-2zM298 217h1v1h-1zM313 217h1v1h-1zM397 217h1v1h-1zM460 217h1v1h-1zM488 217h1v1h-1zM511 217h1v1h-1zM536 217h1v1h-1zM576 217h1v1h-1zM608 217h1v1h-1zM625 217h1v1h-1zM698 217h1v1h-1zM241 218h1v1h-1zM262 218h3v1h-3zM299 218h1v1h-1zM312 218h1v1h-1zM398 218h1v1h-1zM460 218h1v1h-1zM489 218h1v1h-1zM510 218h1v1h-1zM537 218h1v1h-1zM575 218h1v1h-1zM609 218h1v1h-1zM624 218h1v1h-1zM699 218h1v1h-1zM242 219h1v1h-1zM261 219h1v1h-1zM299 219h1v1h-1zM312 219h1v1h-1zM398 219h1v1h-1zM460 219h1v1h-1zM489 219h1v1h-1zM510 219h1v1h-1zM537 219h1v1h-1zM575 219h1v1h-1zM609 219h1v1h-1zM624 219h1v1h-1zM699 219h1v1h-1zM242 220h1v1h-1zM261 220h1v1h-1zM300 220h1v1h-1zM312 220h1v1h-1zM398 220h1v1h-1zM460 220h1v1h-1zM489 220h1v1h-1zM510 220h1v1h-1zM537 220h1v1h-1zM573 220h2v1h-2zM609 220h1v1h-1zM624 220h1v1h-1zM699 220h1v1h-1zM243 221h1v1h-1zM260 221h1v1h-1zM300 221h1v1h-1zM311 221h1v1h-1zM398 221h1v1h-1zM460 221h1v1h-1zM489 221h1v1h-1zM510 221h1v1h-1zM538 221h1v1h-1zM570 221h3v1h-3zM610 221h1v1h-1zM624 221h1v1h-1zM700 221h1v1h-1zM244 222h1v1h-1zM259 222h1v1h-1zM301 222h1v1h-1zM311 222h1v1h-1zM398 222h1v1h-1zM460 222h1v1h-1zM489 222h1v1h-1zM509 222h1v1h-1zM538 222h1v1h-1zM569 222h1v1h-1zM610 222h1v1h-1zM623 222h1v1h-1zM700 222h1v1h-1zM244 223h1v1h-1zM259 223h1v1h-1zM301 223h1v1h-1zM310 223h1v1h-1zM399 223h1v1h-1zM460 223h1v1h-1zM489 223h1v1h-1zM509 223h1v1h-1zM539 223h1v1h-1zM568 223h1v1h-1zM610 223h1v1h-1zM623 223h1v1h-1zM701 223h1v1h-1zM245 224h1v1h-1zM258 224h1v1h-1zM302 224h1v1h-1zM310 224h1v1h-1zM399 224h1v1h-1zM459 224h1v1h-1zM489 224h1v1h-1zM509 224h1v1h-1zM540 224h1v1h-1zM567 224h1v1h-1zM611 224h1v1h-1zM623 224h1v1h-1zM701 224h1v1h-1zM246 225h1v1h-1zM257 225h1v1h-1zM303 225h1v1h-1zM309 225h1v1h-1zM399 225h1v1h-1zM459 225h1v1h-1zM490 225h1v1h-1zM509 225h1v1h-1zM541 225h1v1h-1zM566 225h1v1h-1zM611 225h1v1h-1zM623 225h1v1h-1zM701 225h1v1h-1zM247 226h2v1h-2zM255 226h2v1h-2zM304 226h1v1h-1zM308 226h1v1h-1zM399 226h1v1h-1zM459 226h1v1h-1zM490 226h1v1h-1zM509 226h1v1h-1zM542 226h1v1h-1zM565 226h1v1h-1zM612 226h1v1h-1zM622 226h1v1h-1zM702 226h1v1h-1zM249 227h1v1h-1zM253 227h2v1h-2zM304 227h1v1h-1zM308 227h1v1h-1zM399 227h1v1h-1zM459 227h1v1h-1zM490 227h1v1h-1zM509 227h1v1h-1zM542 227h1v1h-1zM565 227h1v1h-1zM612 227h1v1h-1zM622 227h1v1h-1zM702 227h1v1h-1zM250 228h3v1h-3zM305 228h1v1h-1zM307 228h1v1h-1zM399 228h1v1h-1zM459 228h1v1h-1zM490 228h1v1h-1zM508 228h1v1h-1zM543 228h1v1h-1zM564 228h1v1h-1zM612 228h1v1h-1zM621 228h1v1h-1zM702 228h1v1h-1zM306 229h1v1h-1zM400 229h1v1h-1zM459 229h1v1h-1zM490 229h1v1h-1zM508 229h1v1h-1zM543 229h1v1h-1zM563 229h1v1h-1zM613 229h1v1h-1zM621 229h1v1h-1zM703 229h1v1h-1zM400 230h1v1h-1zM459 230h1v1h-1zM490 230h1v1h-1zM508 230h1v1h-1zM544 230h1v1h-1zM563 230h1v1h-1zM613 230h1v1h-1zM620 230h1v1h-1zM703 230h1v1h-1zM400 231h1v1h-1zM459 231h1v1h-1zM491 231h1v1h-1zM508 231h1v1h-1zM544 231h1v1h-1zM561 231h2v1h-2zM614 231h1v1h-1zM620 231h1v1h-1zM704 231h1v1h-1zM400 232h1v1h-1zM458 232h1v1h-1zM491 232h1v1h-1zM508 232h1v1h-1zM544 232h1v1h-1zM554 232h7v1h-7zM614 232h2v1h-2zM619 232h1v1h-1zM704 232h1v1h-1zM400 233h1v1h-1zM458 233h1v1h-1zM491 233h1v1h-1zM508 233h1v1h-1zM545 233h1v1h-1zM553 233h1v1h-1zM616 233h2v1h-2zM619 233h1v1h-1zM705 233h1v1h-1zM401 234h1v1h-1zM458 234h1v1h-1zM491 234h1v1h-1zM507 234h1v1h-1zM545 234h1v1h-1zM552 234h1v1h-1zM618 234h1v1h-1zM705 234h1v1h-1zM401 235h1v1h-1zM458 235h1v1h-1zM491 235h1v1h-1zM507 235h1v1h-1zM546 235h1v1h-1zM552 235h1v1h-1zM706 235h1v1h-1zM401 236h1v1h-1zM458 236h1v1h-1zM492 236h1v1h-1zM507 236h1v1h-1zM546 236h3v1h-3zM551 236h1v1h-1zM706 236h1v1h-1zM401 237h1v1h-1zM458 237h1v1h-1zM492 237h1v1h-1zM507 237h1v1h-1zM549 237h2v1h-2zM707 237h1v1h-1zM401 238h1v1h-1zM458 238h1v1h-1zM492 238h1v1h-1zM507 238h1v1h-1zM708 238h1v1h-1zM401 239h1v1h-1zM458 239h1v1h-1zM492 239h1v1h-1zM507 239h1v1h-1zM708 239h1v1h-1zM402 240h1v1h-1zM457 240h1v1h-1zM492 240h1v1h-1zM506 240h1v1h-1zM709 240h1v1h-1zM402 241h1v1h-1zM457 241h1v1h-1zM493 241h1v1h-1zM506 241h1v1h-1zM710 241h1v1h-1zM402 242h1v1h-1zM457 242h1v1h-1zM493 242h1v1h-1zM506 242h1v1h-1zM710 242h1v1h-1zM402 243h1v1h-1zM457 243h1v1h-1zM493 243h1v1h-1zM506 243h1v1h-1zM711 243h1v1h-1zM403 244h1v1h-1zM457 244h1v1h-1zM493 244h1v1h-1zM506 244h1v1h-1zM711 244h1v1h-1zM403 245h1v1h-1zM457 245h1v1h-1zM493 245h1v1h-1zM506 245h1v1h-1zM712 245h1v1h-1zM403 246h1v1h-1zM457 246h1v1h-1zM494 246h1v1h-1zM505 246h1v1h-1zM712 246h1v1h-1zM403 247h1v1h-1zM457 247h1v1h-1zM494 247h1v1h-1zM505 247h1v1h-1zM713 247h1v1h-1zM404 248h1v1h-1zM456 248h1v1h-1zM494 248h1v1h-1zM505 248h1v1h-1zM713 248h1v1h-1zM404 249h1v1h-1zM456 249h1v1h-1zM494 249h1v1h-1zM505 249h1v1h-1zM714 249h2v1h-2zM404 250h1v1h-1zM456 250h1v1h-1zM495 250h1v1h-1zM504 250h1v1h-1zM716 250h2v1h-2zM405 251h1v1h-1zM456 251h1v1h-1zM495 251h1v1h-1zM504 251h1v1h-1zM718 251h1v1h-1zM405 252h1v1h-1zM456 252h1v1h-1zM495 252h1v1h-1zM504 252h1v1h-1zM719 252h1v1h-1zM405 253h1v1h-1zM456 253h1v1h-1zM495 253h1v1h-1zM504 253h1v1h-1zM719 253h1v1h-1zM405 254h1v1h-1zM456 254h1v1h-1zM496 254h1v1h-1zM503 254h1v1h-1zM720 254h1v1h-1zM406 255h1v1h-1zM455 255h1v1h-1zM496 255h1v1h-1zM503 255h1v1h-1zM721 255h1v1h-1zM406 256h1v1h-1zM455 256h1v1h-1zM496 256h1v1h-1zM503 256h1v1h-1zM721 256h1v1h-1zM725 256h6v1h-6zM406 257h1v1h-1zM455 257h1v1h-1zM496 257h1v1h-1zM503 257h1v1h-1zM722 257h3v1h-3zM731 257h1v1h-1zM406 258h1v1h-1zM455 258h1v1h-1zM497 258h1v1h-1zM502 258h1v1h-1zM732 258h1v1h-1zM407 259h1v1h-1zM455 259h1v1h-1zM497 259h1v1h-1zM502 259h1v1h-1zM732 259h1v1h-1zM407 260h1v1h-1zM455 260h1v1h-1zM497 260h1v1h-1zM502 260h1v1h-1zM733 260h1v1h-1zM407 261h1v1h-1zM455 261h1v1h-1zM497 261h1v1h-1zM501 261h1v1h-1zM734 261h1v1h-1zM407 262h1v1h-1zM455 262h1v1h-1zM498 262h3v1h-3zM734 262h1v1h-1zM408 263h1v1h-1zM454 263h1v1h-1zM498 263h1v1h-1zM735 263h1v1h-1zM408 264h1v1h-1zM454 264h1v1h-1zM735 264h1v1h-1zM408 265h1v1h-1zM454 265h1v1h-1zM735 265h1v1h-1zM408 266h1v1h-1zM454 266h1v1h-1zM736 266h1v1h-1zM408 267h1v1h-1zM454 267h1v1h-1zM736 267h1v1h-1zM409 268h1v1h-1zM454 268h1v1h-1zM736 268h1v1h-1zM409 269h1v1h-1zM453 269h1v1h-1zM736 269h1v1h-1zM409 270h1v1h-1zM453 270h1v1h-1zM737 270h1v1h-1zM409 271h1v1h-1zM453 271h1v1h-1zM737 271h1v1h-1zM410 272h1v1h-1zM453 272h1v1h-1zM737 272h1v1h-1zM410 273h1v1h-1zM453 273h1v1h-1zM738 273h1v1h-1zM410 274h1v1h-1zM452 274h1v1h-1zM738 274h1v1h-1zM410 275h1v1h-1zM452 275h1v1h-1zM738 275h1v1h-1zM410 276h1v1h-1zM452 276h1v1h-1zM739 276h1v1h-1zM410 277h1v1h-1zM452 277h1v1h-1zM739 277h1v1h-1zM411 278h1v1h-1zM451 278h1v1h-1zM739 278h1v1h-1zM411 279h1v1h-1zM451 279h1v1h-1zM740 279h1v1h-1zM411 280h1v1h-1zM451 280h1v1h-1zM740 280h1v1h-1zM411 281h1v1h-1zM451 281h1v1h-1zM741 281h1v1h-1zM411 282h1v1h-1zM451 282h1v1h-1zM741 282h1v1h-1zM411 283h1v1h-1zM450 283h1v1h-1zM741 283h1v1h-1zM411 284h1v1h-1zM450 284h1v1h-1zM742 284h1v1h-1zM412 285h1v1h-1zM450 285h1v1h-1zM742 285h1v1h-1zM412 286h1v1h-1zM450 286h1v1h-1zM742 286h1v1h-1zM412 287h1v1h-1zM450 287h1v1h-1zM742 287h1v1h-1zM412 288h1v1h-1zM450 288h1v1h-1zM742 288h1v1h-1zM412 289h1v1h-1zM449 289h1v1h-1zM743 289h1v1h-1zM412 290h1v1h-1zM449 290h1v1h-1zM743 290h1v1h-1zM413 291h1v1h-1zM449 291h1v1h-1zM743 291h1v1h-1zM413 292h1v1h-1zM449 292h1v1h-1zM743 292h1v1h-1zM413 293h1v1h-1zM449 293h1v1h-1zM743 293h1v1h-1zM413 294h1v1h-1zM449 294h1v1h-1zM743 294h1v1h-1zM413 295h1v1h-1zM449 295h1v1h-1zM744 295h1v1h-1zM413 296h1v1h-1zM448 296h1v1h-1zM744 296h1v1h-1zM413 297h1v1h-1zM448 297h1v1h-1zM744 297h1v1h-1zM414 298h1v1h-1zM448 298h1v1h-1zM744 298h1v1h-1zM414 299h1v1h-1zM448 299h1v1h-1zM744 299h1v1h-1zM414 300h1v1h-1zM448 300h1v1h-1zM744 300h1v1h-1zM414 301h1v1h-1zM448 301h1v1h-1zM745 301h1v1h-1zM414 302h1v1h-1zM447 302h1v1h-1zM745 302h1v1h-1zM766 302h3v1h-3zM414 303h1v1h-1zM447 303h1v1h-1zM745 303h1v1h-1zM766 303h1v1h-1zM769 303h3v1h-3zM415 304h1v1h-1zM447 304h1v1h-1zM745 304h1v1h-1zM765 304h1v1h-1zM772 304h2v1h-2zM777 304h3v1h-3zM415 305h1v1h-1zM447 305h1v1h-1zM745 305h1v1h-1zM765 305h1v1h-1zM774 305h3v1h-3zM780 305h2v1h-2zM415 306h1v1h-1zM447 306h1v1h-1zM745 306h1v1h-1zM765 306h1v1h-1zM782 306h1v1h-1zM415 307h1v1h-1zM447 307h1v1h-1zM746 307h1v1h-1zM765 307h1v1h-1zM782 307h1v1h-1zM415 308h1v1h-1zM447 308h1v1h-1zM746 308h1v1h-1zM764 308h1v1h-1zM783 308h1v1h-1zM415 309h1v1h-1zM446 309h1v1h-1zM746 309h1v1h-1zM764 309h1v1h-1zM783 309h1v1h-1zM416 310h1v1h-1zM446 310h1v1h-1zM746 310h1v1h-1zM764 310h1v1h-1zM784 310h1v1h-1zM416 311h1v1h-1zM446 311h1v1h-1zM747 311h1v1h-1zM763 311h1v1h-1zM784 311h1v1h-1zM416 312h1v1h-1zM446 312h1v1h-1zM747 312h1v1h-1zM763 312h1v1h-1zM785 312h1v1h-1zM416 313h1v1h-1zM446 313h1v1h-1zM748 313h1v1h-1zM763 313h1v1h-1zM785 313h1v1h-1zM416 314h1v1h-1zM445 314h1v1h-1zM748 314h1v1h-1zM763 314h1v1h-1zM786 314h1v1h-1zM416 315h1v1h-1zM445 315h1v1h-1zM748 315h1v1h-1zM762 315h1v1h-1zM787 315h2v1h-2zM417 316h1v1h-1zM445 316h1v1h-1zM749 316h1v1h-1zM762 316h1v1h-1zM789 316h1v1h-1zM417 317h1v1h-1zM444 317h1v1h-1zM749 317h1v1h-1zM761 317h1v1h-1zM790 317h1v1h-1zM806 317h2v1h-2zM417 318h1v1h-1zM444 318h1v1h-1zM750 318h1v1h-1zM760 318h1v1h-1zM791 318h2v1h-2zM805 318h1v1h-1zM808 318h2v1h-2zM417 319h1v1h-1zM444 319h1v1h-1zM750 319h1v1h-1zM759 319h1v1h-1zM793 319h1v1h-1zM805 319h1v1h-1zM810 319h1v1h-1zM417 320h1v1h-1zM444 320h1v1h-1zM751 320h2v1h-2zM758 320h1v1h-1zM794 320h1v1h-1zM804 320h1v1h-1zM811 320h2v1h-2zM417 321h1v1h-1zM443 321h1v1h-1zM753 321h1v1h-1zM756 321h2v1h-2zM795 321h2v1h-2zM803 321h1v1h-1zM813 321h1v1h-1zM418 322h1v1h-1zM443 322h1v1h-1zM754 322h2v1h-2zM797 322h1v1h-1zM803 322h1v1h-1zM814 322h2v1h-2zM418 323h1v1h-1zM443 323h1v1h-1zM798 323h5v1h-5zM816 323h2v1h-2zM418 324h1v1h-1zM442 324h1v1h-1zM818 324h2v1h-2zM418 325h1v1h-1zM442 325h1v1h-1zM820 325h2v1h-2zM418 326h1v1h-1zM442 326h1v1h-1zM822 326h1v1h-1zM418 327h1v1h-1zM442 327h1v1h-1zM823 327h1v1h-1zM419 328h1v1h-1zM442 328h1v1h-1zM823 328h1v1h-1zM419 329h1v1h-1zM441 329h1v1h-1zM824 329h1v1h-1zM419 330h1v1h-1zM441 330h1v1h-1zM825 330h1v1h-1zM419 331h1v1h-1zM441 331h1v1h-1zM825 331h1v1h-1zM419 332h1v1h-1zM441 332h1v1h-1zM826 332h1v1h-1zM419 333h1v1h-1zM441 333h1v1h-1zM827 333h1v1h-1zM420 334h1v1h-1zM441 334h1v1h-1zM828 334h1v1h-1zM420 335h1v1h-1zM440 335h1v1h-1zM828 335h1v1h-1zM420 336h1v1h-1zM440 336h1v1h-1zM829 336h1v1h-1zM420 337h1v1h-1zM440 337h1v1h-1zM830 337h1v1h-1zM420 338h1v1h-1zM440 338h1v1h-1zM831 338h1v1h-1zM420 339h1v1h-1zM440 339h1v1h-1zM832 339h1v1h-1zM420 340h1v1h-1zM440 340h1v1h-1zM833 340h1v1h-1zM421 341h1v1h-1zM440 341h1v1h-1zM834 341h1v1h-1zM421 342h1v1h-1zM439 342h1v1h-1zM834 342h1v1h-1zM421 343h1v1h-1zM439 343h1v1h-1zM835 343h1v1h-1zM421 344h1v1h-1zM439 344h1v1h-1zM835 344h1v1h-1zM421 345h1v1h-1zM439 345h1v1h-1zM836 345h1v1h-1zM421 346h1v1h-1zM439 346h1v1h-1zM836 346h1v1h-1zM422 347h1v1h-1zM439 347h1v1h-1zM837 347h1v1h-1zM422 348h1v1h-1zM438 348h1v1h-1zM837 348h1v1h-1zM422 349h1v1h-1zM438 349h1v1h-1zM838 349h1v1h-1zM422 350h1v1h-1zM438 350h1v1h-1zM839 350h1v1h-1zM422 351h1v1h-1zM438 351h1v1h-1zM840 351h1v1h-1zM866 351h1v1h-1zM422 352h1v1h-1zM438 352h1v1h-1zM840 352h1v1h-1zM865 352h1v1h-1zM867 352h2v1h-2zM423 353h1v1h-1zM438 353h1v1h-1zM841 353h1v1h-1zM863 353h2v1h-2zM869 353h1v1h-1zM423 354h1v1h-1zM437 354h1v1h-1zM842 354h1v1h-1zM862 354h1v1h-1zM870 354h2v1h-2zM423 355h1v1h-1zM437 355h1v1h-1zM843 355h1v1h-1zM861 355h1v1h-1zM872 355h2v1h-2zM423 356h1v1h-1zM437 356h1v1h-1zM843 356h1v1h-1zM860 356h1v1h-1zM874 356h5v1h-5zM423 357h1v1h-1zM437 357h1v1h-1zM844 357h1v1h-1zM860 357h1v1h-1zM878 357h1v1h-1zM423 358h1v1h-1zM436 358h1v1h-1zM845 358h1v1h-1zM859 358h1v1h-1zM879 358h1v1h-1zM424 359h1v1h-1zM436 359h1v1h-1zM845 359h1v1h-1zM853 359h6v1h-6zM879 359h1v1h-1zM424 360h1v1h-1zM436 360h1v1h-1zM846 360h7v1h-7zM880 360h1v1h-1zM424 361h1v1h-1zM436 361h1v1h-1zM880 361h1v1h-1zM424 362h1v1h-1zM435 362h1v1h-1zM880 362h1v1h-1zM424 363h1v1h-1zM435 363h1v1h-1zM881 363h1v1h-1zM425 364h1v1h-1zM435 364h1v1h-1zM881 364h1v1h-1zM425 365h1v1h-1zM435 365h1v1h-1zM882 365h1v1h-1zM425 366h1v1h-1zM434 366h1v1h-1zM882 366h1v1h-1zM425 367h1v1h-1zM434 367h1v1h-1zM882 367h1v1h-1zM425 368h1v1h-1zM434 368h1v1h-1zM883 368h1v1h-1zM425 369h1v1h-1zM434 369h1v1h-1zM883 369h1v1h-1zM426 370h1v1h-1zM433 370h1v1h-1zM883 370h1v1h-1zM426 371h1v1h-1zM433 371h1v1h-1zM883 371h1v1h-1zM426 372h1v1h-1zM433 372h1v1h-1zM884 372h1v1h-1zM426 373h1v1h-1zM433 373h1v1h-1zM884 373h1v1h-1zM427 374h1v1h-1zM432 374h1v1h-1zM884 374h1v1h-1zM427 375h1v1h-1zM432 375h1v1h-1zM885 375h1v1h-1zM427 376h1v1h-1zM432 376h1v1h-1zM885 376h1v1h-1zM428 377h1v1h-1zM432 377h1v1h-1zM885 377h1v1h-1zM428 378h1v1h-1zM431 378h1v1h-1zM885 378h1v1h-1zM428 379h1v1h-1zM431 379h1v1h-1zM886 379h1v1h-1zM429 380h1v1h-1zM431 380h1v1h-1zM886 380h1v1h-1zM429 381h1v1h-1zM431 381h1v1h-1zM886 381h1v1h-1zM429 382h2v1h-2zM887 382h1v1h-1zM430 383h1v1h-1zM887 383h1v1h-1zM430 384h1v1h-1zM887 384h1v1h-1zM887 385h1v1h-1zM888 386h1v1h-1zM888 387h1v1h-1zM888 388h1v1h-1zM889 389h1v1h-1zM889 390h1v1h-1zM889 391h1v1h-1zM889 392h1v1h-1zM890 393h1v1h-1zM890 394h1v1h-1zM890 395h1v1h-1zM890 396h1v1h-1zM891 397h1v1h-1zM891 398h1v1h-1zM891 399h1v1h-1zM891 400h1v1h-1zM892 401h1v1h-1zM892 402h1v1h-1zM892 403h1v1h-1zM892 404h1v1h-1zM893 405h1v1h-1zM893 406h1v1h-1zM893 407h1v1h-1zM893 408h1v1h-1zM894 409h1v1h-1zM894 410h1v1h-1zM894 411h1v1h-1zM894 412h1v1h-1zM895 413h1v1h-1zM895 414h1v1h-1zM895 415h1v1h-1zM895 416h1v1h-1zM896 417h1v1h-1zM896 418h1v1h-1zM896 419h1v1h-1zM896 420h1v1h-1zM897 421h1v1h-1zM897 422h1v1h-1zM897 423h1v1h-1zM897 424h1v1h-1zM898 425h1v1h-1zM898 426h1v1h-1zM1118 426h2v1h-2zM898 427h1v1h-1zM1117 427h1v1h-1zM1120 427h2v1h-2zM898 428h1v1h-1zM1116 428h1v1h-1zM1122 428h1v1h-1zM899 429h1v1h-1zM1116 429h1v1h-1zM1123 429h1v1h-1zM899 430h1v1h-1zM1115 430h1v1h-1zM1123 430h1v1h-1zM899 431h1v1h-1zM1114 431h1v1h-1zM1124 431h1v1h-1zM900 432h1v1h-1zM1114 432h1v1h-1zM1124 432h1v1h-1zM900 433h1v1h-1zM1113 433h1v1h-1zM1125 433h1v1h-1zM900 434h1v1h-1zM1113 434h1v1h-1zM1125 434h1v1h-1zM900 435h1v1h-1zM1113 435h1v1h-1zM1126 435h1v1h-1zM901 436h1v1h-1zM1112 436h1v1h-1zM1126 436h1v1h-1zM901 437h1v1h-1zM1112 437h1v1h-1zM1127 437h1v1h-1zM901 438h1v1h-1zM1112 438h1v1h-1zM1127 438h1v1h-1zM902 439h1v1h-1zM1111 439h1v1h-1zM1127 439h1v1h-1zM902 440h1v1h-1zM1111 440h1v1h-1zM1128 440h1v1h-1zM902 441h1v1h-1zM1111 441h1v1h-1zM1128 441h1v1h-1zM903 442h1v1h-1zM1110 442h1v1h-1zM1128 442h1v1h-1zM903 443h1v1h-1zM1110 443h1v1h-1zM1129 443h1v1h-1zM903 444h1v1h-1zM1110 444h1v1h-1zM1129 444h1v1h-1zM904 445h1v1h-1zM1110 445h1v1h-1zM1129 445h1v1h-1zM904 446h1v1h-1zM1109 446h1v1h-1zM1130 446h1v1h-1zM904 447h1v1h-1zM1109 447h1v1h-1zM1130 447h1v1h-1zM905 448h1v1h-1zM1109 448h1v1h-1zM1130 448h1v1h-1zM905 449h1v1h-1zM1109 449h1v1h-1zM1131 449h1v1h-1zM905 450h1v1h-1zM1109 450h1v1h-1zM1131 450h1v1h-1zM906 451h1v1h-1zM1108 451h1v1h-1zM1132 451h1v1h-1zM906 452h1v1h-1zM1108 452h1v1h-1zM1132 452h1v1h-1zM906 453h1v1h-1zM1108 453h1v1h-1zM1133 453h1v1h-1zM907 454h1v1h-1zM1108 454h1v1h-1zM1133 454h1v1h-1zM907 455h1v1h-1zM1107 455h1v1h-1zM1134 455h1v1h-1zM907 456h1v1h-1zM1107 456h1v1h-1zM1135 456h1v1h-1zM908 457h1v1h-1zM1107 457h1v1h-1zM1135 457h1v1h-1zM908 458h1v1h-1zM1107 458h1v1h-1zM1136 458h1v1h-1zM909 459h1v1h-1zM1107 459h1v1h-1zM1136 459h1v1h-1zM909 460h1v1h-1zM1106 460h1v1h-1zM1137 460h1v1h-1zM909 461h1v1h-1zM1106 461h1v1h-1zM1137 461h1v1h-1zM910 462h1v1h-1zM1106 462h1v1h-1zM1138 462h1v1h-1zM910 463h1v1h-1zM1106 463h1v1h-1zM1139 463h1v1h-1zM910 464h1v1h-1zM1106 464h1v1h-1zM1139 464h1v1h-1zM911 465h1v1h-1zM1105 465h1v1h-1zM1140 465h1v1h-1zM911 466h1v1h-1zM1105 466h1v1h-1zM1141 466h1v1h-1zM912 467h1v1h-1zM1105 467h1v1h-1zM1141 467h1v1h-1zM912 468h1v1h-1zM1105 468h1v1h-1zM1142 468h1v1h-1zM912 469h1v1h-1zM1104 469h1v1h-1zM1143 469h1v1h-1zM913 470h1v1h-1zM1104 470h1v1h-1zM1144 470h1v1h-1zM913 471h1v1h-1zM1104 471h1v1h-1zM1145 471h1v1h-1zM914 472h1v1h-1zM1104 472h1v1h-1zM1146 472h3v1h-3zM914 473h1v1h-1zM1103 473h1v1h-1zM1149 473h2v1h-2zM914 474h1v1h-1zM1103 474h1v1h-1zM1151 474h2v1h-2zM915 475h1v1h-1zM1103 475h1v1h-1zM1153 475h1v1h-1zM1242 475h1v1h-1zM915 476h1v1h-1zM1103 476h1v1h-1zM1154 476h1v1h-1zM1241 476h1v1h-1zM1243 476h1v1h-1zM916 477h1v1h-1zM1102 477h1v1h-1zM1155 477h1v1h-1zM1239 477h2v1h-2zM1244 477h1v1h-1zM916 478h1v1h-1zM1102 478h1v1h-1zM1155 478h1v1h-1zM1238 478h1v1h-1zM1244 478h1v1h-1zM916 479h1v1h-1zM1102 479h1v1h-1zM1156 479h1v1h-1zM1238 479h1v1h-1zM1245 479h1v1h-1zM917 480h1v1h-1zM1102 480h1v1h-1zM1157 480h1v1h-1zM1237 480h1v1h-1zM1246 480h1v1h-1zM917 481h1v1h-1zM1101 481h1v1h-1zM1157 481h1v1h-1zM1237 481h1v1h-1zM1246 481h1v1h-1zM918 482h1v1h-1zM1101 482h1v1h-1zM1158 482h1v1h-1zM1237 482h1v1h-1zM1247 482h1v1h-1zM918 483h1v1h-1zM1101 483h1v1h-1zM1159 483h1v1h-1zM1236 483h1v1h-1zM1247 483h1v1h-1zM919 484h1v1h-1zM1100 484h1v1h-1zM1159 484h1v1h-1zM1236 484h1v1h-1zM1247 484h1v1h-1zM919 485h1v1h-1zM930 485h1v1h-1zM1054 485h1v1h-1zM1100 485h1v1h-1zM1160 485h1v1h-1zM1186 485h1v1h-1zM1236 485h1v1h-1zM1248 485h1v1h-1zM920 486h1v1h-1zM928 486h2v1h-2zM931 486h1v1h-1zM1053 486h1v1h-1zM1055 486h1v1h-1zM1100 486h1v1h-1zM1161 486h1v1h-1zM1185 486h1v1h-1zM1187 486h1v1h-1zM1235 486h1v1h-1zM1248 486h1v1h-1zM921 487h1v1h-1zM926 487h2v1h-2zM931 487h1v1h-1zM1051 487h2v1h-2zM1055 487h1v1h-1zM1100 487h1v1h-1zM1161 487h1v1h-1zM1185 487h1v1h-1zM1187 487h1v1h-1zM1235 487h1v1h-1zM1249 487h1v1h-1zM921 488h1v1h-1zM924 488h2v1h-2zM932 488h1v1h-1zM954 488h5v1h-5zM1050 488h1v1h-1zM1056 488h1v1h-1zM1099 488h1v1h-1zM1162 488h1v1h-1zM1184 488h1v1h-1zM1188 488h1v1h-1zM1235 488h1v1h-1zM1249 488h1v1h-1zM922 489h2v1h-2zM932 489h1v1h-1zM954 489h1v1h-1zM959 489h1v1h-1zM1049 489h1v1h-1zM1056 489h1v1h-1zM1099 489h1v1h-1zM1163 489h1v1h-1zM1183 489h1v1h-1zM1189 489h1v1h-1zM1234 489h1v1h-1zM1249 489h1v1h-1zM933 490h1v1h-1zM953 490h1v1h-1zM960 490h1v1h-1zM1049 490h1v1h-1zM1057 490h1v1h-1zM1099 490h1v1h-1zM1163 490h1v1h-1zM1183 490h1v1h-1zM1189 490h1v1h-1zM1234 490h1v1h-1zM1250 490h1v1h-1zM933 491h1v1h-1zM953 491h1v1h-1zM961 491h1v1h-1zM1048 491h1v1h-1zM1057 491h1v1h-1zM1098 491h1v1h-1zM1164 491h1v1h-1zM1182 491h1v1h-1zM1190 491h1v1h-1zM1234 491h1v1h-1zM1250 491h1v1h-1zM934 492h3v1h-3zM953 492h1v1h-1zM962 492h1v1h-1zM1047 492h1v1h-1zM1058 492h1v1h-1zM1098 492h1v1h-1zM1165 492h1v1h-1zM1181 492h1v1h-1zM1191 492h1v1h-1zM1233 492h1v1h-1zM1250 492h1v1h-1zM937 493h6v1h-6zM952 493h1v1h-1zM963 493h1v1h-1zM1047 493h1v1h-1zM1059 493h2v1h-2zM1098 493h1v1h-1zM1165 493h1v1h-1zM1180 493h1v1h-1zM1191 493h1v1h-1zM1233 493h1v1h-1zM1250 493h1v1h-1zM943 494h1v1h-1zM952 494h1v1h-1zM964 494h1v1h-1zM1046 494h1v1h-1zM1061 494h1v1h-1zM1097 494h1v1h-1zM1166 494h3v1h-3zM1180 494h1v1h-1zM1192 494h1v1h-1zM1232 494h1v1h-1zM1251 494h1v1h-1zM943 495h1v1h-1zM951 495h1v1h-1zM965 495h1v1h-1zM1045 495h1v1h-1zM1062 495h1v1h-1zM1097 495h1v1h-1zM1169 495h2v1h-2zM1179 495h1v1h-1zM1193 495h1v1h-1zM1232 495h1v1h-1zM1251 495h1v1h-1zM944 496h1v1h-1zM951 496h1v1h-1zM966 496h1v1h-1zM1045 496h1v1h-1zM1063 496h1v1h-1zM1097 496h1v1h-1zM1171 496h1v1h-1zM1178 496h1v1h-1zM1193 496h1v1h-1zM1232 496h1v1h-1zM1251 496h1v1h-1zM944 497h1v1h-1zM951 497h1v1h-1zM967 497h1v1h-1zM1044 497h1v1h-1zM1063 497h1v1h-1zM1096 497h1v1h-1zM1172 497h1v1h-1zM1177 497h1v1h-1zM1194 497h1v1h-1zM1231 497h1v1h-1zM1251 497h1v1h-1zM945 498h1v1h-1zM950 498h1v1h-1zM967 498h1v1h-1zM1044 498h1v1h-1zM1064 498h1v1h-1zM1096 498h1v1h-1zM1172 498h1v1h-1zM1176 498h1v1h-1zM1194 498h1v1h-1zM1231 498h1v1h-1zM1252 498h1v1h-1zM945 499h1v1h-1zM949 499h2v1h-2zM968 499h1v1h-1zM1043 499h1v1h-1zM1065 499h1v1h-1zM1096 499h1v1h-1zM1173 499h1v1h-1zM1175 499h1v1h-1zM1195 499h1v1h-1zM1230 499h1v1h-1zM1252 499h1v1h-1zM946 500h3v1h-3zM969 500h1v1h-1zM1043 500h1v1h-1zM1065 500h1v1h-1zM1095 500h1v1h-1zM1174 500h1v1h-1zM1195 500h1v1h-1zM1230 500h1v1h-1zM1252 500h1v1h-1zM969 501h1v1h-1zM1042 501h1v1h-1zM1066 501h1v1h-1zM1095 501h1v1h-1zM1196 501h1v1h-1zM1230 501h1v1h-1zM1252 501h1v1h-1zM970 502h1v1h-1zM998 502h2v1h-2zM1042 502h1v1h-1zM1066 502h1v1h-1zM1095 502h1v1h-1zM1196 502h1v1h-1zM1229 502h1v1h-1zM1253 502h1v1h-1zM970 503h1v1h-1zM997 503h1v1h-1zM1000 503h2v1h-2zM1042 503h1v1h-1zM1067 503h1v1h-1zM1094 503h1v1h-1zM1196 503h1v1h-1zM1229 503h1v1h-1zM1253 503h1v1h-1zM971 504h1v1h-1zM997 504h1v1h-1zM1002 504h5v1h-5zM1041 504h1v1h-1zM1067 504h1v1h-1zM1094 504h1v1h-1zM1197 504h1v1h-1zM1229 504h1v1h-1zM1253 504h1v1h-1zM971 505h1v1h-1zM996 505h1v1h-1zM1007 505h1v1h-1zM1041 505h1v1h-1zM1068 505h1v1h-1zM1093 505h1v1h-1zM1197 505h1v1h-1zM1228 505h1v1h-1zM1253 505h1v1h-1zM971 506h1v1h-1zM996 506h1v1h-1zM1008 506h1v1h-1zM1041 506h1v1h-1zM1068 506h1v1h-1zM1093 506h1v1h-1zM1198 506h1v1h-1zM1228 506h1v1h-1zM1254 506h1v1h-1zM972 507h1v1h-1zM995 507h1v1h-1zM1008 507h1v1h-1zM1040 507h1v1h-1zM1068 507h1v1h-1zM1092 507h1v1h-1zM1198 507h1v1h-1zM1228 507h1v1h-1zM1254 507h1v1h-1zM972 508h1v1h-1zM995 508h1v1h-1zM1009 508h1v1h-1zM1040 508h1v1h-1zM1069 508h1v1h-1zM1092 508h1v1h-1zM1198 508h1v1h-1zM1227 508h1v1h-1zM1254 508h1v1h-1zM973 509h1v1h-1zM994 509h1v1h-1zM1010 509h1v1h-1zM1039 509h1v1h-1zM1069 509h1v1h-1zM1091 509h1v1h-1zM1199 509h1v1h-1zM1227 509h1v1h-1zM1254 509h1v1h-1zM973 510h1v1h-1zM994 510h1v1h-1zM1010 510h1v1h-1zM1039 510h1v1h-1zM1070 510h1v1h-1zM1091 510h1v1h-1zM1199 510h1v1h-1zM1227 510h1v1h-1zM1254 510h1v1h-1zM973 511h1v1h-1zM993 511h1v1h-1zM1011 511h1v1h-1zM1039 511h1v1h-1zM1070 511h1v1h-1zM1090 511h1v1h-1zM1200 511h1v1h-1zM1226 511h1v1h-1zM1255 511h1v1h-1zM974 512h1v1h-1zM993 512h1v1h-1zM1011 512h1v1h-1zM1038 512h1v1h-1zM1071 512h1v1h-1zM1090 512h1v1h-1zM1200 512h1v1h-1zM1226 512h1v1h-1zM1255 512h1v1h-1zM974 513h1v1h-1zM992 513h1v1h-1zM1012 513h1v1h-1zM1038 513h1v1h-1zM1072 513h1v1h-1zM1089 513h1v1h-1zM1201 513h1v1h-1zM1226 513h1v1h-1zM1255 513h1v1h-1zM974 514h1v1h-1zM991 514h1v1h-1zM1012 514h1v1h-1zM1038 514h1v1h-1zM1073 514h1v1h-1zM1081 514h4v1h-4zM1087 514h2v1h-2zM1201 514h1v1h-1zM1225 514h1v1h-1zM1255 514h1v1h-1zM975 515h1v1h-1zM991 515h1v1h-1zM1013 515h1v1h-1zM1037 515h1v1h-1zM1074 515h7v1h-7zM1085 515h2v1h-2zM1202 515h1v1h-1zM1225 515h1v1h-1zM1255 515h1v1h-1zM975 516h1v1h-1zM990 516h1v1h-1zM1013 516h1v1h-1zM1037 516h1v1h-1zM1202 516h1v1h-1zM1225 516h1v1h-1zM1256 516h1v1h-1zM976 517h1v1h-1zM989 517h1v1h-1zM1014 517h1v1h-1zM1036 517h1v1h-1zM1203 517h1v1h-1zM1224 517h1v1h-1zM1256 517h1v1h-1zM976 518h1v1h-1zM988 518h1v1h-1zM1014 518h1v1h-1zM1036 518h1v1h-1zM1203 518h1v1h-1zM1224 518h1v1h-1zM1256 518h1v1h-1zM977 519h1v1h-1zM982 519h3v1h-3zM987 519h1v1h-1zM1015 519h1v1h-1zM1036 519h1v1h-1zM1204 519h1v1h-1zM1223 519h1v1h-1zM1256 519h1v1h-1zM977 520h1v1h-1zM980 520h2v1h-2zM985 520h2v1h-2zM1016 520h1v1h-1zM1035 520h1v1h-1zM1204 520h1v1h-1zM1223 520h1v1h-1zM1256 520h1v1h-1zM978 521h2v1h-2zM1016 521h1v1h-1zM1035 521h1v1h-1zM1205 521h1v1h-1zM1223 521h1v1h-1zM1257 521h1v1h-1zM1017 522h1v1h-1zM1034 522h1v1h-1zM1205 522h1v1h-1zM1222 522h1v1h-1zM1257 522h1v1h-1zM1018 523h1v1h-1zM1034 523h1v1h-1zM1206 523h1v1h-1zM1222 523h1v1h-1zM1257 523h1v1h-1zM1018 524h1v1h-1zM1033 524h1v1h-1zM1206 524h1v1h-1zM1220 524h2v1h-2zM1257 524h1v1h-1zM1019 525h1v1h-1zM1033 525h1v1h-1zM1207 525h1v1h-1zM1218 525h2v1h-2zM1257 525h1v1h-1zM1019 526h1v1h-1zM1032 526h1v1h-1zM1208 526h1v1h-1zM1217 526h1v1h-1zM1258 526h1v1h-1zM1020 527h1v1h-1zM1031 527h1v1h-1zM1209 527h1v1h-1zM1215 527h2v1h-2zM1258 527h1v1h-1zM1020 528h1v1h-1zM1031 528h1v1h-1zM1210 528h5v1h-5zM1258 528h2v1h-2zM1266 528h1v1h-1zM1021 529h1v1h-1zM1030 529h1v1h-1zM1260 529h2v1h-2zM1264 529h2v1h-2zM1021 530h1v1h-1zM1029 530h1v1h-1zM1262 530h2v1h-2zM1022 531h3v1h-3zM1027 531h2v1h-2zM1025 532h2v1h-2z" fill="#ffa500" shape-rendering="crispEdges"/>
<g shape-rendering="crispEdges">
<rect x="1595" y="48" width="2" height="1" fill="#000" />
<text x="1600" y="52" font-size="9.3" fill="#000" text-anchor="start" >1.00270</text>
<rect x="1595" y="81" width="2" height="1" fill="#000" />
<text x="1600" y="85" font-size="9.3" fill="#000" text-anchor="start" >0.99610</text>
<rect x="1595" y="114" width="2" height="1" fill="#000" />
<text x="1600" y="118" font-size="9.3" fill="#000" text-anchor="start" >0.98950</text>
<rect x="1595" y="147" width="2" height="1" fill="#000" />
<text x="1600" y="151" font-size="9.3" fill="#000" text-anchor="start" >0.98270</text>
<rect x="1595" y="180" width="2" height="1" fill="#000" />
<text x="1600" y="184" font-size="9.3" fill="#000" text-anchor="start" >0.97610</text>
<rect x="1595" y="213" width="2" height="1" fill="#000" />
<text x="1600" y="217" font-size="9.3" fill="#000" text-anchor="start" >0.96930</text>
<rect x="1595" y="246" width="2" height="1" fill="#000" />
<text x="1600" y="250" font-size="9.3" fill="#000" text-anchor="start" >0.96270</text>
<rect x="1595" y="279" width="2" height="1" fill="#000" />
<text x="1600" y="283" font-size="9.3" fill="#000" text-anchor="start" >0.95610</text>
<rect x="1595" y="312" width="2" height="1" fill="#000" />
<text x="1600" y="316" font-size="9.3" fill="#000" text-anchor="start" >0.94930</text>
<rect x="1595" y="345" width="2" height="1" fill="#000" />
<text x="1600" y="349" font-size="9.3" fill="#000" text-anchor="start" >0.94270</text>
<rect x="1595" y="378" width="2" height="1" fill="#000" />
<text x="1600" y="382" font-size="9.3" fill="#000" text-anchor="start" >0.93610</text>
<rect x="1595" y="411" width="2" height="1" fill="#000" />
<text x="1600" y="415" font-size="9.3" fill="#000" text-anchor="start" >0.92950</text>
<rect x="1595" y="444" width="2" height="1" fill="#000" />
<text x="1600" y="448" font-size="9.3" fill="#000" text-anchor="start" >0.92270</text>
<rect x="1595" y="477" width="2" height="1" fill="#000" />
<text x="1600" y="481" font-size="9.3" fill="#000" text-anchor="start" >0.91610</text>
<rect x="1595" y="510" width="2" height="1" fill="#000" />
<text x="1600" y="514" font-size="9.3" fill="#000" text-anchor="start" >0.90930</text>
<rect x="1595" y="543" width="2" height="1" fill="#000" />
<text x="1600" y="547" font-size="9.3" fill="#000" text-anchor="start" >0.90270</text>
<rect x="1595" y="576" width="2" height="1" fill="#000" />
<text x="1600" y="580" font-size="9.3" fill="#000" text-anchor="start" >0.89610</text>
<rect x="2" y="271" width="1592" height="2" fill="#ff0000" />
<rect x="1" y="269" width="6" height="6" fill="#ff0000" />
<rect x="3" y="271" width="2" height="2" fill="#fff" />
<rect x="1588" y="269" width="6" height="6" fill="#ff0000" />
<rect x="1590" y="271" width="2" height="2" fill="#fff" />
<rect x="1596" y="266" width="40" height="11" fill="#ff0000" />
<text x="1600" y="275" font-size="9.3" fill="#fff" text-anchor="start" >0.95756</text>
<rect x="2" y="337" width="1592" height="2" fill="#ff0000" />
<rect x="1" y="335" width="6" height="6" fill="#ff0000" />
<rect x="3" y="337" width="2" height="2" fill="#fff" />
<rect x="1588" y="335" width="6" height="6" fill="#ff0000" />
<rect x="1590" y="337" width="2" height="2" fill="#fff" />
<rect x="1596" y="332" width="40" height="11" fill="#ff0000" />
<text x="1600" y="341" font-size="9.3" fill="#fff" text-anchor="start" >0.94406</text>
<rect x="2" y="406" width="1592" height="2" fill="#ff0000" />
<rect x="1" y="404" width="6" height="6" fill="#ff0000" />
<rect x="3" y="406" width="2" height="2" fill="#fff" />
<rect x="1588" y="404" width="6" height="6" fill="#ff0000" />
<rect x="1590" y="406" width="2" height="2" fill="#fff" />
<rect x="1596" y="401" width="40" height="11" fill="#ff0000" />
<text x="1600" y="410" font-size="9.3" fill="#fff" text-anchor="start" >0.93016</text>
<rect x="2" y="471" width="1592" height="2" fill="#00ff00" />
<rect x="1" y="469" width="6" height="6" fill="#00ff00" />
<rect x="3" y="471" width="2" height="2" fill="#fff" />
<rect x="1588" y="469" width="6" height="6" fill="#00ff00" />
<rect x="1590" y="471" width="2" height="2" fill="#fff" />
<rect x="1596" y="466" width="40" height="11" fill="#00ff00" />
<text x="1600" y="475" font-size="9.3" fill="#fff" text-anchor="start" >0.91706</text>
<rect x="2" y="554" width="1592" height="2" fill="#0000ff" />
<rect x="1" y="552" width="6" height="6" fill="#0000ff" />
<rect x="3" y="554" width="2" height="2" fill="#fff" />
<rect x="1588" y="552" width="6" height="6" fill="#0000ff" />
<rect x="1590" y="554" width="2" height="2" fill="#fff" />
<rect x="1596" y="549" width="40" height="11" fill="#0000ff" />
<text x="1600" y="558" font-size="9.3" fill="#fff" text-anchor="start" >0.90018</text>
<rect x="1596" y="486" width="40" height="11" fill="#000" />
<text x="1600" y="495" font-size="9.3" fill="#fff" text-anchor="start" >0.91321</text>
</g>
<path d="M5 30 h7 l-3.5 4.2 z" fill="#000"/>
<text x="17" y="35" font-size="9.5" fill="#000" text-anchor="start" letter-spacing="0.2">USDCHF,Daily</text>
<text x="87.5" y="35" font-size="9.25" fill="#000" text-anchor="start" >0.91093 0.91422 0.91090 0.91321</text>
<g shape-rendering="crispEdges">
<line x1="3" y1="612.5" x2="1594" y2="612.5" stroke="#c0c0c0" stroke-width="1" stroke-dasharray="3,3"/>
<line x1="3" y1="652.5" x2="1594" y2="652.5" stroke="#c0c0c0" stroke-width="1" stroke-dasharray="3,3"/>
</g>
<path d="M1110 613h3v1h-3zM1108 614h2v1h-2zM1113 614h2v1h-2zM465 615h2v1h-2zM1106 615h2v1h-2zM1115 615h1v1h-1zM358 616h1v1h-1zM461 616h4v1h-4zM467 616h1v1h-1zM1105 616h1v1h-1zM1115 616h1v1h-1zM345 617h7v1h-7zM357 617h1v1h-1zM359 617h2v1h-2zM458 617h3v1h-3zM467 617h1v1h-1zM1103 617h2v1h-2zM1116 617h1v1h-1zM342 618h3v1h-3zM352 618h2v1h-2zM355 618h2v1h-2zM361 618h1v1h-1zM457 618h1v1h-1zM468 618h1v1h-1zM1102 618h1v1h-1zM1116 618h1v1h-1zM341 619h1v1h-1zM354 619h1v1h-1zM362 619h1v1h-1zM457 619h1v1h-1zM469 619h1v1h-1zM1101 619h1v1h-1zM1117 619h1v1h-1zM82 620h1v1h-1zM340 620h1v1h-1zM362 620h1v1h-1zM456 620h1v1h-1zM469 620h1v1h-1zM1099 620h2v1h-2zM1117 620h1v1h-1zM80 621h3v1h-3zM339 621h1v1h-1zM363 621h1v1h-1zM455 621h1v1h-1zM470 621h3v1h-3zM1098 621h1v1h-1zM1118 621h1v1h-1zM66 622h7v1h-7zM77 622h3v1h-3zM82 622h1v1h-1zM338 622h1v1h-1zM363 622h1v1h-1zM455 622h1v1h-1zM473 622h2v1h-2zM1097 622h1v1h-1zM1119 622h1v1h-1zM1238 622h1v1h-1zM65 623h1v1h-1zM73 623h4v1h-4zM83 623h1v1h-1zM321 623h4v1h-4zM337 623h1v1h-1zM364 623h1v1h-1zM454 623h1v1h-1zM475 623h2v1h-2zM1096 623h1v1h-1zM1120 623h1v1h-1zM1237 623h2v1h-2zM10 624h1v1h-1zM58 624h3v1h-3zM63 624h2v1h-2zM83 624h1v1h-1zM318 624h3v1h-3zM325 624h7v1h-7zM336 624h1v1h-1zM364 624h1v1h-1zM453 624h1v1h-1zM477 624h1v1h-1zM1095 624h1v1h-1zM1120 624h1v1h-1zM1235 624h2v1h-2zM1239 624h1v1h-1zM8 625h2v1h-2zM11 625h1v1h-1zM56 625h2v1h-2zM61 625h2v1h-2zM83 625h1v1h-1zM317 625h1v1h-1zM332 625h2v1h-2zM335 625h1v1h-1zM364 625h1v1h-1zM452 625h1v1h-1zM478 625h1v1h-1zM510 625h2v1h-2zM582 625h3v1h-3zM589 625h3v1h-3zM1094 625h1v1h-1zM1121 625h1v1h-1zM1226 625h3v1h-3zM1233 625h2v1h-2zM1239 625h1v1h-1zM5 626h3v1h-3zM11 626h1v1h-1zM54 626h2v1h-2zM83 626h1v1h-1zM315 626h2v1h-2zM334 626h1v1h-1zM365 626h1v1h-1zM452 626h1v1h-1zM478 626h1v1h-1zM509 626h1v1h-1zM512 626h2v1h-2zM517 626h2v1h-2zM580 626h2v1h-2zM585 626h4v1h-4zM592 626h2v1h-2zM597 626h2v1h-2zM1094 626h1v1h-1zM1122 626h1v1h-1zM1226 626h1v1h-1zM1229 626h4v1h-4zM1239 626h1v1h-1zM2 627h3v1h-3zM12 627h1v1h-1zM54 627h1v1h-1zM84 627h1v1h-1zM286 627h1v1h-1zM314 627h1v1h-1zM365 627h1v1h-1zM451 627h1v1h-1zM479 627h1v1h-1zM507 627h2v1h-2zM514 627h3v1h-3zM519 627h1v1h-1zM578 627h2v1h-2zM594 627h3v1h-3zM598 627h1v1h-1zM622 627h5v1h-5zM1049 627h2v1h-2zM1093 627h1v1h-1zM1123 627h1v1h-1zM1225 627h1v1h-1zM1240 627h1v1h-1zM13 628h1v1h-1zM53 628h1v1h-1zM84 628h1v1h-1zM284 628h3v1h-3zM312 628h2v1h-2zM366 628h1v1h-1zM450 628h1v1h-1zM479 628h1v1h-1zM506 628h1v1h-1zM520 628h1v1h-1zM576 628h2v1h-2zM599 628h1v1h-1zM620 628h2v1h-2zM627 628h1v1h-1zM1046 628h3v1h-3zM1051 628h1v1h-1zM1093 628h1v1h-1zM1124 628h1v1h-1zM1134 628h1v1h-1zM1225 628h1v1h-1zM1240 628h1v1h-1zM13 629h1v1h-1zM53 629h1v1h-1zM84 629h1v1h-1zM282 629h2v1h-2zM287 629h1v1h-1zM310 629h2v1h-2zM366 629h2v1h-2zM450 629h1v1h-1zM480 629h1v1h-1zM505 629h1v1h-1zM520 629h1v1h-1zM574 629h2v1h-2zM599 629h1v1h-1zM618 629h2v1h-2zM627 629h1v1h-1zM650 629h3v1h-3zM1038 629h1v1h-1zM1045 629h1v1h-1zM1052 629h1v1h-1zM1092 629h1v1h-1zM1125 629h1v1h-1zM1133 629h1v1h-1zM1135 629h1v1h-1zM1224 629h1v1h-1zM1240 629h1v1h-1zM14 630h2v1h-2zM52 630h1v1h-1zM84 630h1v1h-1zM282 630h1v1h-1zM287 630h1v1h-1zM309 630h1v1h-1zM368 630h2v1h-2zM449 630h1v1h-1zM480 630h1v1h-1zM503 630h2v1h-2zM521 630h1v1h-1zM572 630h2v1h-2zM599 630h1v1h-1zM617 630h1v1h-1zM628 630h1v1h-1zM638 630h1v1h-1zM649 630h1v1h-1zM653 630h4v1h-4zM666 630h1v1h-1zM678 630h6v1h-6zM1037 630h1v1h-1zM1039 630h2v1h-2zM1044 630h1v1h-1zM1052 630h1v1h-1zM1092 630h1v1h-1zM1126 630h2v1h-2zM1132 630h1v1h-1zM1136 630h1v1h-1zM1224 630h1v1h-1zM1241 630h1v1h-1zM1266 630h1v1h-1zM16 631h2v1h-2zM52 631h1v1h-1zM85 631h1v1h-1zM281 631h1v1h-1zM287 631h1v1h-1zM308 631h1v1h-1zM370 631h6v1h-6zM382 631h1v1h-1zM449 631h1v1h-1zM480 631h1v1h-1zM502 631h1v1h-1zM522 631h5v1h-5zM554 631h1v1h-1zM570 631h2v1h-2zM600 631h1v1h-1zM617 631h1v1h-1zM629 631h1v1h-1zM636 631h2v1h-2zM639 631h1v1h-1zM647 631h2v1h-2zM657 631h3v1h-3zM665 631h2v1h-2zM677 631h1v1h-1zM684 631h2v1h-2zM1036 631h1v1h-1zM1041 631h1v1h-1zM1043 631h1v1h-1zM1053 631h1v1h-1zM1091 631h1v1h-1zM1128 631h2v1h-2zM1131 631h1v1h-1zM1136 631h1v1h-1zM1224 631h1v1h-1zM1241 631h1v1h-1zM1264 631h2v1h-2zM18 632h1v1h-1zM46 632h1v1h-1zM51 632h1v1h-1zM85 632h1v1h-1zM281 632h1v1h-1zM288 632h1v1h-1zM308 632h1v1h-1zM376 632h2v1h-2zM380 632h3v1h-3zM449 632h1v1h-1zM481 632h1v1h-1zM501 632h1v1h-1zM527 632h1v1h-1zM553 632h1v1h-1zM555 632h2v1h-2zM568 632h2v1h-2zM600 632h1v1h-1zM616 632h1v1h-1zM629 632h1v1h-1zM633 632h3v1h-3zM640 632h1v1h-1zM646 632h1v1h-1zM660 632h2v1h-2zM663 632h2v1h-2zM667 632h1v1h-1zM675 632h2v1h-2zM686 632h1v1h-1zM1036 632h1v1h-1zM1042 632h1v1h-1zM1054 632h1v1h-1zM1091 632h1v1h-1zM1130 632h1v1h-1zM1137 632h1v1h-1zM1153 632h2v1h-2zM1223 632h1v1h-1zM1241 632h1v1h-1zM1262 632h2v1h-2zM18 633h1v1h-1zM45 633h1v1h-1zM47 633h2v1h-2zM51 633h1v1h-1zM85 633h1v1h-1zM280 633h1v1h-1zM288 633h1v1h-1zM307 633h1v1h-1zM378 633h2v1h-2zM383 633h1v1h-1zM449 633h1v1h-1zM481 633h1v1h-1zM500 633h1v1h-1zM528 633h1v1h-1zM552 633h1v1h-1zM557 633h1v1h-1zM561 633h7v1h-7zM601 633h1v1h-1zM616 633h1v1h-1zM630 633h3v1h-3zM640 633h1v1h-1zM645 633h1v1h-1zM662 633h1v1h-1zM667 633h1v1h-1zM674 633h1v1h-1zM687 633h1v1h-1zM694 633h1v1h-1zM1035 633h1v1h-1zM1055 633h1v1h-1zM1090 633h1v1h-1zM1138 633h2v1h-2zM1150 633h3v1h-3zM1154 633h1v1h-1zM1181 633h4v1h-4zM1223 633h1v1h-1zM1242 633h1v1h-1zM1262 633h1v1h-1zM19 634h1v1h-1zM44 634h1v1h-1zM49 634h2v1h-2zM85 634h1v1h-1zM280 634h1v1h-1zM288 634h1v1h-1zM306 634h1v1h-1zM383 634h1v1h-1zM448 634h1v1h-1zM482 634h1v1h-1zM499 634h1v1h-1zM529 634h1v1h-1zM541 634h2v1h-2zM551 634h1v1h-1zM558 634h3v1h-3zM601 634h1v1h-1zM615 634h1v1h-1zM641 634h1v1h-1zM643 634h2v1h-2zM668 634h1v1h-1zM673 634h1v1h-1zM687 634h1v1h-1zM693 634h1v1h-1zM695 634h1v1h-1zM1030 634h5v1h-5zM1055 634h1v1h-1zM1082 634h2v1h-2zM1090 634h1v1h-1zM1140 634h2v1h-2zM1149 634h1v1h-1zM1155 634h1v1h-1zM1170 634h1v1h-1zM1178 634h3v1h-3zM1185 634h2v1h-2zM1222 634h1v1h-1zM1242 634h3v1h-3zM1261 634h1v1h-1zM19 635h1v1h-1zM44 635h1v1h-1zM50 635h1v1h-1zM86 635h1v1h-1zM270 635h5v1h-5zM279 635h1v1h-1zM289 635h1v1h-1zM305 635h1v1h-1zM383 635h1v1h-1zM448 635h1v1h-1zM482 635h1v1h-1zM497 635h2v1h-2zM530 635h3v1h-3zM537 635h4v1h-4zM543 635h1v1h-1zM550 635h1v1h-1zM601 635h1v1h-1zM615 635h1v1h-1zM642 635h1v1h-1zM668 635h1v1h-1zM673 635h1v1h-1zM688 635h1v1h-1zM692 635h1v1h-1zM695 635h1v1h-1zM1029 635h1v1h-1zM1056 635h1v1h-1zM1081 635h1v1h-1zM1084 635h2v1h-2zM1088 635h2v1h-2zM1142 635h3v1h-3zM1147 635h2v1h-2zM1155 635h1v1h-1zM1170 635h3v1h-3zM1177 635h1v1h-1zM1186 635h1v1h-1zM1222 635h1v1h-1zM1245 635h2v1h-2zM1261 635h1v1h-1zM20 636h1v1h-1zM43 636h1v1h-1zM86 636h1v1h-1zM102 636h2v1h-2zM269 636h1v1h-1zM275 636h2v1h-2zM279 636h1v1h-1zM289 636h1v1h-1zM305 636h1v1h-1zM383 636h1v1h-1zM441 636h2v1h-2zM448 636h1v1h-1zM483 636h1v1h-1zM494 636h3v1h-3zM533 636h4v1h-4zM544 636h1v1h-1zM549 636h1v1h-1zM602 636h1v1h-1zM614 636h1v1h-1zM668 636h1v1h-1zM672 636h1v1h-1zM689 636h1v1h-1zM692 636h1v1h-1zM696 636h1v1h-1zM862 636h2v1h-2zM990 636h3v1h-3zM1028 636h1v1h-1zM1057 636h1v1h-1zM1062 636h5v1h-5zM1079 636h2v1h-2zM1086 636h2v1h-2zM1145 636h2v1h-2zM1156 636h1v1h-1zM1169 636h1v1h-1zM1173 636h1v1h-1zM1175 636h2v1h-2zM1187 636h1v1h-1zM1221 636h1v1h-1zM1247 636h1v1h-1zM1261 636h1v1h-1zM20 637h1v1h-1zM42 637h1v1h-1zM86 637h1v1h-1zM101 637h1v1h-1zM104 637h2v1h-2zM262 637h2v1h-2zM268 637h1v1h-1zM277 637h2v1h-2zM289 637h1v1h-1zM304 637h1v1h-1zM384 637h1v1h-1zM434 637h7v1h-7zM443 637h1v1h-1zM448 637h1v1h-1zM484 637h1v1h-1zM493 637h1v1h-1zM544 637h1v1h-1zM548 637h1v1h-1zM602 637h1v1h-1zM614 637h1v1h-1zM669 637h1v1h-1zM672 637h1v1h-1zM689 637h1v1h-1zM691 637h1v1h-1zM696 637h1v1h-1zM806 637h1v1h-1zM862 637h1v1h-1zM864 637h2v1h-2zM989 637h1v1h-1zM993 637h3v1h-3zM1027 637h1v1h-1zM1057 637h1v1h-1zM1060 637h2v1h-2zM1067 637h2v1h-2zM1074 637h5v1h-5zM1156 637h1v1h-1zM1169 637h1v1h-1zM1174 637h1v1h-1zM1187 637h1v1h-1zM1221 637h1v1h-1zM1247 637h1v1h-1zM1261 637h1v1h-1zM21 638h1v1h-1zM41 638h1v1h-1zM87 638h1v1h-1zM101 638h1v1h-1zM106 638h1v1h-1zM261 638h1v1h-1zM264 638h2v1h-2zM267 638h1v1h-1zM278 638h1v1h-1zM290 638h1v1h-1zM303 638h1v1h-1zM384 638h1v1h-1zM434 638h1v1h-1zM443 638h1v1h-1zM447 638h1v1h-1zM484 638h1v1h-1zM493 638h1v1h-1zM545 638h1v1h-1zM547 638h1v1h-1zM603 638h1v1h-1zM613 638h1v1h-1zM669 638h1v1h-1zM671 638h1v1h-1zM690 638h1v1h-1zM697 638h1v1h-1zM726 638h3v1h-3zM754 638h1v1h-1zM774 638h2v1h-2zM805 638h1v1h-1zM807 638h1v1h-1zM861 638h1v1h-1zM866 638h1v1h-1zM989 638h1v1h-1zM996 638h2v1h-2zM1026 638h1v1h-1zM1058 638h2v1h-2zM1069 638h1v1h-1zM1072 638h2v1h-2zM1156 638h1v1h-1zM1168 638h1v1h-1zM1188 638h1v1h-1zM1220 638h1v1h-1zM1248 638h1v1h-1zM1260 638h1v1h-1zM21 639h1v1h-1zM30 639h5v1h-5zM41 639h1v1h-1zM87 639h1v1h-1zM100 639h1v1h-1zM107 639h2v1h-2zM221 639h4v1h-4zM254 639h1v1h-1zM260 639h1v1h-1zM266 639h1v1h-1zM290 639h1v1h-1zM303 639h1v1h-1zM384 639h1v1h-1zM434 639h1v1h-1zM444 639h1v1h-1zM447 639h1v1h-1zM485 639h1v1h-1zM492 639h1v1h-1zM546 639h1v1h-1zM603 639h1v1h-1zM612 639h1v1h-1zM670 639h2v1h-2zM697 639h1v1h-1zM726 639h1v1h-1zM729 639h2v1h-2zM753 639h1v1h-1zM755 639h2v1h-2zM772 639h2v1h-2zM776 639h2v1h-2zM804 639h1v1h-1zM808 639h1v1h-1zM861 639h1v1h-1zM867 639h1v1h-1zM982 639h1v1h-1zM988 639h1v1h-1zM998 639h2v1h-2zM1026 639h1v1h-1zM1070 639h2v1h-2zM1157 639h1v1h-1zM1168 639h1v1h-1zM1188 639h1v1h-1zM1219 639h1v1h-1zM1249 639h1v1h-1zM1260 639h1v1h-1zM22 640h3v1h-3zM28 640h2v1h-2zM35 640h1v1h-1zM40 640h1v1h-1zM88 640h1v1h-1zM99 640h1v1h-1zM109 640h1v1h-1zM154 640h3v1h-3zM218 640h3v1h-3zM225 640h2v1h-2zM253 640h1v1h-1zM255 640h2v1h-2zM260 640h1v1h-1zM291 640h1v1h-1zM302 640h1v1h-1zM385 640h1v1h-1zM433 640h1v1h-1zM444 640h1v1h-1zM447 640h1v1h-1zM486 640h2v1h-2zM491 640h1v1h-1zM604 640h1v1h-1zM611 640h1v1h-1zM670 640h1v1h-1zM698 640h2v1h-2zM725 640h1v1h-1zM731 640h1v1h-1zM751 640h2v1h-2zM757 640h1v1h-1zM766 640h6v1h-6zM778 640h1v1h-1zM790 640h7v1h-7zM803 640h1v1h-1zM809 640h1v1h-1zM861 640h1v1h-1zM868 640h1v1h-1zM982 640h3v1h-3zM987 640h1v1h-1zM1000 640h2v1h-2zM1025 640h1v1h-1zM1157 640h1v1h-1zM1167 640h1v1h-1zM1189 640h1v1h-1zM1214 640h3v1h-3zM1219 640h1v1h-1zM1249 640h1v1h-1zM1260 640h1v1h-1zM25 641h3v1h-3zM36 641h1v1h-1zM39 641h1v1h-1zM88 641h1v1h-1zM94 641h3v1h-3zM99 641h1v1h-1zM110 641h1v1h-1zM122 641h1v1h-1zM152 641h2v1h-2zM157 641h2v1h-2zM217 641h1v1h-1zM227 641h2v1h-2zM252 641h1v1h-1zM257 641h1v1h-1zM259 641h1v1h-1zM292 641h1v1h-1zM301 641h1v1h-1zM385 641h1v1h-1zM433 641h1v1h-1zM445 641h1v1h-1zM447 641h1v1h-1zM488 641h2v1h-2zM491 641h1v1h-1zM604 641h1v1h-1zM610 641h1v1h-1zM700 641h2v1h-2zM714 641h3v1h-3zM725 641h1v1h-1zM732 641h1v1h-1zM750 641h1v1h-1zM758 641h3v1h-3zM764 641h2v1h-2zM779 641h2v1h-2zM789 641h1v1h-1zM797 641h6v1h-6zM810 641h3v1h-3zM860 641h1v1h-1zM868 641h1v1h-1zM953 641h2v1h-2zM981 641h1v1h-1zM985 641h1v1h-1zM987 641h1v1h-1zM1002 641h7v1h-7zM1025 641h1v1h-1zM1158 641h1v1h-1zM1167 641h1v1h-1zM1189 641h1v1h-1zM1202 641h1v1h-1zM1213 641h1v1h-1zM1217 641h2v1h-2zM1250 641h1v1h-1zM1260 641h1v1h-1zM37 642h1v1h-1zM39 642h1v1h-1zM88 642h1v1h-1zM93 642h1v1h-1zM97 642h2v1h-2zM111 642h2v1h-2zM120 642h2v1h-2zM123 642h1v1h-1zM150 642h2v1h-2zM159 642h2v1h-2zM170 642h1v1h-1zM216 642h1v1h-1zM229 642h1v1h-1zM251 642h1v1h-1zM258 642h1v1h-1zM292 642h1v1h-1zM301 642h1v1h-1zM385 642h1v1h-1zM433 642h1v1h-1zM445 642h2v1h-2zM490 642h1v1h-1zM605 642h1v1h-1zM609 642h1v1h-1zM702 642h7v1h-7zM712 642h2v1h-2zM717 642h2v1h-2zM724 642h1v1h-1zM732 642h1v1h-1zM750 642h1v1h-1zM761 642h3v1h-3zM781 642h1v1h-1zM789 642h1v1h-1zM813 642h12v1h-12zM860 642h1v1h-1zM869 642h1v1h-1zM878 642h1v1h-1zM950 642h3v1h-3zM955 642h1v1h-1zM981 642h1v1h-1zM986 642h1v1h-1zM1009 642h2v1h-2zM1024 642h1v1h-1zM1158 642h3v1h-3zM1166 642h1v1h-1zM1190 642h2v1h-2zM1201 642h1v1h-1zM1203 642h2v1h-2zM1212 642h1v1h-1zM1251 642h1v1h-1zM1259 642h1v1h-1zM38 643h1v1h-1zM89 643h1v1h-1zM92 643h1v1h-1zM113 643h1v1h-1zM117 643h3v1h-3zM123 643h1v1h-1zM149 643h1v1h-1zM161 643h1v1h-1zM169 643h1v1h-1zM171 643h1v1h-1zM210 643h2v1h-2zM216 643h1v1h-1zM230 643h1v1h-1zM246 643h5v1h-5zM293 643h1v1h-1zM300 643h1v1h-1zM385 643h1v1h-1zM433 643h1v1h-1zM446 643h1v1h-1zM605 643h1v1h-1zM607 643h2v1h-2zM709 643h3v1h-3zM719 643h1v1h-1zM724 643h1v1h-1zM733 643h1v1h-1zM750 643h1v1h-1zM782 643h1v1h-1zM788 643h1v1h-1zM825 643h2v1h-2zM850 643h5v1h-5zM859 643h1v1h-1zM870 643h3v1h-3zM876 643h2v1h-2zM879 643h1v1h-1zM949 643h1v1h-1zM956 643h1v1h-1zM981 643h1v1h-1zM1011 643h1v1h-1zM1024 643h1v1h-1zM1161 643h6v1h-6zM1192 643h2v1h-2zM1201 643h1v1h-1zM1205 643h1v1h-1zM1212 643h1v1h-1zM1251 643h1v1h-1zM1259 643h1v1h-1zM89 644h1v1h-1zM92 644h1v1h-1zM114 644h3v1h-3zM124 644h1v1h-1zM130 644h5v1h-5zM149 644h1v1h-1zM162 644h3v1h-3zM167 644h2v1h-2zM171 644h1v1h-1zM209 644h1v1h-1zM212 644h2v1h-2zM215 644h1v1h-1zM231 644h2v1h-2zM246 644h1v1h-1zM294 644h2v1h-2zM299 644h1v1h-1zM386 644h1v1h-1zM433 644h1v1h-1zM606 644h1v1h-1zM719 644h1v1h-1zM724 644h1v1h-1zM734 644h1v1h-1zM749 644h1v1h-1zM783 644h2v1h-2zM787 644h1v1h-1zM827 644h1v1h-1zM849 644h1v1h-1zM855 644h1v1h-1zM859 644h1v1h-1zM873 644h3v1h-3zM879 644h1v1h-1zM948 644h1v1h-1zM956 644h1v1h-1zM981 644h1v1h-1zM1012 644h1v1h-1zM1018 644h1v1h-1zM1024 644h1v1h-1zM1194 644h1v1h-1zM1200 644h1v1h-1zM1206 644h3v1h-3zM1211 644h1v1h-1zM1252 644h1v1h-1zM1259 644h1v1h-1zM90 645h2v1h-2zM125 645h1v1h-1zM129 645h1v1h-1zM135 645h1v1h-1zM142 645h1v1h-1zM148 645h1v1h-1zM165 645h2v1h-2zM172 645h1v1h-1zM209 645h1v1h-1zM214 645h1v1h-1zM233 645h1v1h-1zM245 645h1v1h-1zM296 645h2v1h-2zM299 645h1v1h-1zM386 645h1v1h-1zM432 645h1v1h-1zM720 645h1v1h-1zM723 645h1v1h-1zM735 645h1v1h-1zM749 645h1v1h-1zM785 645h1v1h-1zM787 645h1v1h-1zM828 645h1v1h-1zM848 645h1v1h-1zM856 645h1v1h-1zM859 645h1v1h-1zM880 645h1v1h-1zM942 645h3v1h-3zM947 645h1v1h-1zM957 645h1v1h-1zM980 645h1v1h-1zM1013 645h1v1h-1zM1016 645h2v1h-2zM1019 645h1v1h-1zM1023 645h1v1h-1zM1195 645h1v1h-1zM1200 645h1v1h-1zM1209 645h2v1h-2zM1252 645h1v1h-1zM1259 645h1v1h-1zM90 646h1v1h-1zM125 646h1v1h-1zM127 646h2v1h-2zM135 646h1v1h-1zM141 646h1v1h-1zM143 646h1v1h-1zM148 646h1v1h-1zM172 646h1v1h-1zM202 646h1v1h-1zM208 646h1v1h-1zM234 646h1v1h-1zM245 646h1v1h-1zM298 646h1v1h-1zM387 646h2v1h-2zM432 646h1v1h-1zM721 646h1v1h-1zM723 646h1v1h-1zM735 646h1v1h-1zM749 646h1v1h-1zM786 646h1v1h-1zM829 646h1v1h-1zM847 646h1v1h-1zM857 646h2v1h-2zM881 646h1v1h-1zM941 646h1v1h-1zM945 646h2v1h-2zM958 646h3v1h-3zM980 646h1v1h-1zM1014 646h2v1h-2zM1020 646h1v1h-1zM1023 646h1v1h-1zM1196 646h1v1h-1zM1199 646h1v1h-1zM1253 646h1v1h-1zM1258 646h1v1h-1zM126 647h1v1h-1zM136 647h1v1h-1zM140 647h1v1h-1zM144 647h1v1h-1zM147 647h1v1h-1zM173 647h1v1h-1zM201 647h1v1h-1zM203 647h1v1h-1zM208 647h1v1h-1zM235 647h1v1h-1zM244 647h1v1h-1zM389 647h1v1h-1zM432 647h1v1h-1zM721 647h2v1h-2zM736 647h1v1h-1zM749 647h1v1h-1zM830 647h3v1h-3zM842 647h5v1h-5zM858 647h1v1h-1zM881 647h1v1h-1zM926 647h1v1h-1zM940 647h1v1h-1zM961 647h4v1h-4zM969 647h2v1h-2zM980 647h1v1h-1zM1021 647h2v1h-2zM1197 647h1v1h-1zM1199 647h1v1h-1zM1253 647h1v1h-1zM1257 647h2v1h-2zM137 648h1v1h-1zM140 648h1v1h-1zM145 648h1v1h-1zM147 648h1v1h-1zM173 648h1v1h-1zM199 648h2v1h-2zM204 648h1v1h-1zM207 648h1v1h-1zM236 648h1v1h-1zM244 648h1v1h-1zM390 648h1v1h-1zM432 648h1v1h-1zM722 648h1v1h-1zM736 648h1v1h-1zM748 648h1v1h-1zM833 648h2v1h-2zM841 648h1v1h-1zM882 648h1v1h-1zM926 648h2v1h-2zM940 648h1v1h-1zM965 648h4v1h-4zM971 648h2v1h-2zM979 648h1v1h-1zM1022 648h1v1h-1zM1198 648h1v1h-1zM1254 648h3v1h-3zM137 649h1v1h-1zM139 649h1v1h-1zM146 649h1v1h-1zM174 649h1v1h-1zM198 649h1v1h-1zM205 649h1v1h-1zM207 649h1v1h-1zM237 649h1v1h-1zM243 649h1v1h-1zM391 649h2v1h-2zM431 649h1v1h-1zM737 649h1v1h-1zM748 649h1v1h-1zM835 649h2v1h-2zM840 649h1v1h-1zM883 649h1v1h-1zM925 649h1v1h-1zM928 649h1v1h-1zM939 649h1v1h-1zM973 649h1v1h-1zM979 649h1v1h-1zM138 650h1v1h-1zM175 650h2v1h-2zM197 650h1v1h-1zM206 650h1v1h-1zM238 650h2v1h-2zM243 650h1v1h-1zM393 650h1v1h-1zM431 650h1v1h-1zM737 650h1v1h-1zM748 650h1v1h-1zM837 650h1v1h-1zM839 650h1v1h-1zM884 650h1v1h-1zM925 650h1v1h-1zM929 650h1v1h-1zM938 650h1v1h-1zM974 650h1v1h-1zM979 650h1v1h-1zM177 651h1v1h-1zM196 651h1v1h-1zM240 651h3v1h-3zM394 651h1v1h-1zM431 651h1v1h-1zM738 651h1v1h-1zM748 651h1v1h-1zM838 651h1v1h-1zM884 651h1v1h-1zM925 651h1v1h-1zM930 651h1v1h-1zM937 651h1v1h-1zM975 651h2v1h-2zM979 651h1v1h-1zM178 652h1v1h-1zM195 652h1v1h-1zM242 652h1v1h-1zM395 652h1v1h-1zM431 652h1v1h-1zM739 652h2v1h-2zM747 652h1v1h-1zM885 652h1v1h-1zM924 652h1v1h-1zM931 652h1v1h-1zM937 652h1v1h-1zM977 652h2v1h-2zM179 653h2v1h-2zM194 653h1v1h-1zM395 653h1v1h-1zM431 653h1v1h-1zM741 653h1v1h-1zM747 653h1v1h-1zM886 653h1v1h-1zM924 653h1v1h-1zM931 653h1v1h-1zM936 653h1v1h-1zM978 653h1v1h-1zM181 654h1v1h-1zM193 654h1v1h-1zM396 654h1v1h-1zM430 654h1v1h-1zM742 654h1v1h-1zM747 654h1v1h-1zM887 654h1v1h-1zM923 654h1v1h-1zM932 654h1v1h-1zM936 654h1v1h-1zM182 655h3v1h-3zM192 655h1v1h-1zM397 655h1v1h-1zM430 655h1v1h-1zM743 655h1v1h-1zM747 655h1v1h-1zM888 655h1v1h-1zM923 655h1v1h-1zM932 655h1v1h-1zM935 655h1v1h-1zM185 656h4v1h-4zM191 656h1v1h-1zM397 656h1v1h-1zM430 656h1v1h-1zM744 656h1v1h-1zM746 656h1v1h-1zM889 656h1v1h-1zM923 656h1v1h-1zM933 656h1v1h-1zM935 656h1v1h-1zM189 657h2v1h-2zM398 657h1v1h-1zM430 657h1v1h-1zM745 657h2v1h-2zM890 657h3v1h-3zM922 657h1v1h-1zM933 657h2v1h-2zM399 658h2v1h-2zM429 658h1v1h-1zM746 658h1v1h-1zM893 658h7v1h-7zM922 658h1v1h-1zM934 658h1v1h-1zM401 659h1v1h-1zM429 659h1v1h-1zM900 659h2v1h-2zM921 659h1v1h-1zM402 660h5v1h-5zM428 660h1v1h-1zM902 660h2v1h-2zM921 660h1v1h-1zM407 661h1v1h-1zM428 661h1v1h-1zM904 661h2v1h-2zM920 661h1v1h-1zM408 662h1v1h-1zM427 662h1v1h-1zM906 662h2v1h-2zM920 662h1v1h-1zM409 663h1v1h-1zM427 663h1v1h-1zM908 663h2v1h-2zM919 663h1v1h-1zM410 664h1v1h-1zM426 664h1v1h-1zM910 664h3v1h-3zM919 664h1v1h-1zM411 665h1v1h-1zM426 665h1v1h-1zM913 665h6v1h-6zM412 666h1v1h-1zM425 666h1v1h-1zM412 667h1v1h-1zM425 667h1v1h-1zM413 668h1v1h-1zM424 668h1v1h-1zM414 669h3v1h-3zM423 669h1v1h-1zM417 670h4v1h-4zM423 670h1v1h-1zM421 671h2v1h-2z" fill="#1e90ff" shape-rendering="crispEdges"/>
<text x="6" y="594" font-size="9.3" fill="#000" text-anchor="start" >RSI(14) 52.8991</text>
<rect x="1595" y="583" width="1" height="1" fill="#000" />
<rect x="1595" y="681" width="1" height="1" fill="#000" />
<text x="1598" y="592" font-size="9.3" fill="#000" text-anchor="start" >100</text>
<text x="1598" y="615" font-size="9.3" fill="#000" text-anchor="start" >70</text>
<text x="1598" y="655" font-size="9.3" fill="#000" text-anchor="start" >30</text>
<text x="1598" y="679" font-size="9.3" fill="#000" text-anchor="start" >0</text>
<g shape-rendering="crispEdges">
<rect x="2" y="720" width="1" height="2" fill="#c0c0c0" />
<rect x="6" y="718" width="1" height="3" fill="#c0c0c0" />
<rect x="10" y="716" width="1" height="5" fill="#c0c0c0" />
<rect x="14" y="716" width="1" height="5" fill="#c0c0c0" />
<rect x="18" y="716" width="1" height="5" fill="#c0c0c0" />
<rect x="22" y="718" width="1" height="3" fill="#c0c0c0" />
<rect x="26" y="720" width="1" height="2" fill="#c0c0c0" />
<rect x="30" y="720" width="1" height="3" fill="#c0c0c0" />
<rect x="34" y="720" width="1" height="4" fill="#c0c0c0" />
<rect x="38" y="720" width="1" height="5" fill="#c0c0c0" />
<rect x="42" y="720" width="1" height="5" fill="#c0c0c0" />
<rect x="46" y="720" width="1" height="4" fill="#c0c0c0" />
<rect x="50" y="720" width="1" height="4" fill="#c0c0c0" />
<rect x="54" y="720" width="1" height="2" fill="#c0c0c0" />
<rect x="58" y="718" width="1" height="3" fill="#c0c0c0" />
<rect x="62" y="716" width="1" height="5" fill="#c0c0c0" />
<rect x="66" y="714" width="1" height="7" fill="#c0c0c0" />
<rect x="70" y="712" width="1" height="9" fill="#c0c0c0" />
<rect x="74" y="711" width="1" height="10" fill="#c0c0c0" />
<rect x="78" y="710" width="1" height="11" fill="#c0c0c0" />
<rect x="82" y="709" width="1" height="12" fill="#c0c0c0" />
<rect x="86" y="712" width="1" height="9" fill="#c0c0c0" />
<rect x="90" y="717" width="1" height="4" fill="#c0c0c0" />
<rect x="94" y="719" width="1" height="2" fill="#c0c0c0" />
<rect x="98" y="720" width="1" height="3" fill="#c0c0c0" />
<rect x="102" y="720" width="1" height="4" fill="#c0c0c0" />
<rect x="106" y="720" width="1" height="5" fill="#c0c0c0" />
<rect x="110" y="720" width="1" height="6" fill="#c0c0c0" />
<rect x="114" y="720" width="1" height="8" fill="#c0c0c0" />
<rect x="118" y="720" width="1" height="10" fill="#c0c0c0" />
<rect x="122" y="720" width="1" height="10" fill="#c0c0c0" />
<rect x="126" y="720" width="1" height="13" fill="#c0c0c0" />
<rect x="130" y="720" width="1" height="14" fill="#c0c0c0" />
<rect x="134" y="720" width="1" height="15" fill="#c0c0c0" />
<rect x="138" y="720" width="1" height="17" fill="#c0c0c0" />
<rect x="142" y="720" width="1" height="18" fill="#c0c0c0" />
<rect x="146" y="720" width="1" height="20" fill="#c0c0c0" />
<rect x="150" y="720" width="1" height="20" fill="#c0c0c0" />
<rect x="154" y="720" width="1" height="19" fill="#c0c0c0" />
<rect x="158" y="720" width="1" height="18" fill="#c0c0c0" />
<rect x="162" y="720" width="1" height="18" fill="#c0c0c0" />
<rect x="166" y="720" width="1" height="18" fill="#c0c0c0" />
<rect x="170" y="720" width="1" height="18" fill="#c0c0c0" />
<rect x="174" y="720" width="1" height="19" fill="#c0c0c0" />
<rect x="178" y="720" width="1" height="22" fill="#c0c0c0" />
<rect x="182" y="720" width="1" height="25" fill="#c0c0c0" />
<rect x="186" y="720" width="1" height="28" fill="#c0c0c0" />
<rect x="190" y="720" width="1" height="30" fill="#c0c0c0" />
<rect x="194" y="720" width="1" height="31" fill="#c0c0c0" />
<rect x="198" y="720" width="1" height="30" fill="#c0c0c0" />
<rect x="202" y="720" width="1" height="29" fill="#c0c0c0" />
<rect x="206" y="720" width="1" height="29" fill="#c0c0c0" />
<rect x="210" y="720" width="1" height="27" fill="#c0c0c0" />
<rect x="214" y="720" width="1" height="26" fill="#c0c0c0" />
<rect x="218" y="720" width="1" height="24" fill="#c0c0c0" />
<rect x="222" y="720" width="1" height="22" fill="#c0c0c0" />
<rect x="226" y="720" width="1" height="21" fill="#c0c0c0" />
<rect x="230" y="720" width="1" height="20" fill="#c0c0c0" />
<rect x="234" y="720" width="1" height="20" fill="#c0c0c0" />
<rect x="238" y="720" width="1" height="22" fill="#c0c0c0" />
<rect x="242" y="720" width="1" height="23" fill="#c0c0c0" />
<rect x="246" y="720" width="1" height="22" fill="#c0c0c0" />
<rect x="250" y="720" width="1" height="22" fill="#c0c0c0" />
<rect x="254" y="720" width="1" height="20" fill="#c0c0c0" />
<rect x="258" y="720" width="1" height="19" fill="#c0c0c0" />
<rect x="262" y="720" width="1" height="17" fill="#c0c0c0" />
<rect x="266" y="720" width="1" height="16" fill="#c0c0c0" />
<rect x="270" y="720" width="1" height="14" fill="#c0c0c0" />
<rect x="274" y="720" width="1" height="13" fill="#c0c0c0" />
<rect x="278" y="720" width="1" height="12" fill="#c0c0c0" />
<rect x="282" y="720" width="1" height="9" fill="#c0c0c0" />
<rect x="286" y="720" width="1" height="6" fill="#c0c0c0" />
<rect x="290" y="720" width="1" height="7" fill="#c0c0c0" />
<rect x="294" y="720" width="1" height="10" fill="#c0c0c0" />
<rect x="298" y="720" width="1" height="12" fill="#c0c0c0" />
<rect x="302" y="720" width="1" height="12" fill="#c0c0c0" />
<rect x="306" y="720" width="1" height="11" fill="#c0c0c0" />
<rect x="310" y="720" width="1" height="8" fill="#c0c0c0" />
<rect x="314" y="720" width="1" height="5" fill="#c0c0c0" />
<rect x="318" y="720" width="1" height="1" fill="#c0c0c0" />
<rect x="322" y="718" width="1" height="3" fill="#c0c0c0" />
<rect x="326" y="715" width="1" height="6" fill="#c0c0c0" />
<rect x="330" y="714" width="1" height="7" fill="#c0c0c0" />
<rect x="334" y="713" width="1" height="8" fill="#c0c0c0" />
<rect x="338" y="711" width="1" height="10" fill="#c0c0c0" />
<rect x="342" y="709" width="1" height="12" fill="#c0c0c0" />
<rect x="346" y="707" width="1" height="14" fill="#c0c0c0" />
<rect x="350" y="706" width="1" height="15" fill="#c0c0c0" />
<rect x="354" y="705" width="1" height="16" fill="#c0c0c0" />
<rect x="358" y="703" width="1" height="18" fill="#c0c0c0" />
<rect x="362" y="703" width="1" height="18" fill="#c0c0c0" />
<rect x="366" y="705" width="1" height="16" fill="#c0c0c0" />
<rect x="370" y="707" width="1" height="14" fill="#c0c0c0" />
<rect x="374" y="708" width="1" height="13" fill="#c0c0c0" />
<rect x="378" y="710" width="1" height="11" fill="#c0c0c0" />
<rect x="382" y="711" width="1" height="10" fill="#c0c0c0" />
<rect x="386" y="716" width="1" height="5" fill="#c0c0c0" />
<rect x="390" y="720" width="1" height="1" fill="#c0c0c0" />
<rect x="394" y="720" width="1" height="6" fill="#c0c0c0" />
<rect x="398" y="720" width="1" height="12" fill="#c0c0c0" />
<rect x="402" y="720" width="1" height="18" fill="#c0c0c0" />
<rect x="406" y="720" width="1" height="23" fill="#c0c0c0" />
<rect x="410" y="720" width="1" height="29" fill="#c0c0c0" />
<rect x="414" y="720" width="1" height="39" fill="#c0c0c0" />
<rect x="418" y="720" width="1" height="47" fill="#c0c0c0" />
<rect x="422" y="720" width="1" height="56" fill="#c0c0c0" />
<rect x="426" y="720" width="1" height="61" fill="#c0c0c0" />
<rect x="430" y="720" width="1" height="61" fill="#c0c0c0" />
<rect x="434" y="720" width="1" height="54" fill="#c0c0c0" />
<rect x="438" y="720" width="1" height="48" fill="#c0c0c0" />
<rect x="442" y="720" width="1" height="42" fill="#c0c0c0" />
<rect x="446" y="720" width="1" height="41" fill="#c0c0c0" />
<rect x="450" y="720" width="1" height="31" fill="#c0c0c0" />
<rect x="454" y="720" width="1" height="19" fill="#c0c0c0" />
<rect x="458" y="720" width="1" height="5" fill="#c0c0c0" />
<rect x="462" y="711" width="1" height="10" fill="#c0c0c0" />
<rect x="466" y="701" width="1" height="20" fill="#c0c0c0" />
<rect x="470" y="695" width="1" height="26" fill="#c0c0c0" />
<rect x="474" y="692" width="1" height="29" fill="#c0c0c0" />
<rect x="478" y="692" width="1" height="29" fill="#c0c0c0" />
<rect x="482" y="698" width="1" height="23" fill="#c0c0c0" />
<rect x="486" y="706" width="1" height="15" fill="#c0c0c0" />
<rect x="490" y="714" width="1" height="7" fill="#c0c0c0" />
<rect x="494" y="718" width="1" height="3" fill="#c0c0c0" />
<rect x="498" y="719" width="1" height="2" fill="#c0c0c0" />
<rect x="502" y="718" width="1" height="3" fill="#c0c0c0" />
<rect x="506" y="715" width="1" height="6" fill="#c0c0c0" />
<rect x="510" y="711" width="1" height="10" fill="#c0c0c0" />
<rect x="514" y="708" width="1" height="13" fill="#c0c0c0" />
<rect x="518" y="705" width="1" height="16" fill="#c0c0c0" />
<rect x="522" y="707" width="1" height="14" fill="#c0c0c0" />
<rect x="526" y="707" width="1" height="14" fill="#c0c0c0" />
<rect x="530" y="710" width="1" height="11" fill="#c0c0c0" />
<rect x="534" y="713" width="1" height="8" fill="#c0c0c0" />
<rect x="538" y="715" width="1" height="6" fill="#c0c0c0" />
<rect x="542" y="717" width="1" height="4" fill="#c0c0c0" />
<rect x="546" y="720" width="1" height="1" fill="#c0c0c0" />
<rect x="550" y="720" width="1" height="2" fill="#c0c0c0" />
<rect x="554" y="720" width="1" height="1" fill="#c0c0c0" />
<rect x="558" y="720" width="1" height="2" fill="#c0c0c0" />
<rect x="562" y="720" width="1" height="1" fill="#c0c0c0" />
<rect x="566" y="720" width="1" height="1" fill="#c0c0c0" />
<rect x="570" y="719" width="1" height="2" fill="#c0c0c0" />
<rect x="574" y="718" width="1" height="3" fill="#c0c0c0" />
<rect x="578" y="716" width="1" height="5" fill="#c0c0c0" />
<rect x="582" y="713" width="1" height="8" fill="#c0c0c0" />
<rect x="586" y="711" width="1" height="10" fill="#c0c0c0" />
<rect x="590" y="710" width="1" height="11" fill="#c0c0c0" />
<rect x="594" y="709" width="1" height="12" fill="#c0c0c0" />
<rect x="598" y="708" width="1" height="13" fill="#c0c0c0" />
<rect x="602" y="712" width="1" height="9" fill="#c0c0c0" />
<rect x="606" y="718" width="1" height="3" fill="#c0c0c0" />
<rect x="610" y="720" width="1" height="2" fill="#c0c0c0" />
<rect x="614" y="720" width="1" height="4" fill="#c0c0c0" />
<rect x="618" y="720" width="1" height="2" fill="#c0c0c0" />
<rect x="622" y="718" width="1" height="3" fill="#c0c0c0" />
<rect x="626" y="716" width="1" height="5" fill="#c0c0c0" />
<rect x="630" y="716" width="1" height="5" fill="#c0c0c0" />
<rect x="634" y="716" width="1" height="5" fill="#c0c0c0" />
<rect x="638" y="716" width="1" height="5" fill="#c0c0c0" />
<rect x="642" y="717" width="1" height="4" fill="#c0c0c0" />
<rect x="646" y="717" width="1" height="4" fill="#c0c0c0" />
<rect x="650" y="716" width="1" height="5" fill="#c0c0c0" />
<rect x="654" y="716" width="1" height="5" fill="#c0c0c0" />
<rect x="658" y="716" width="1" height="5" fill="#c0c0c0" />
<rect x="662" y="716" width="1" height="5" fill="#c0c0c0" />
<rect x="666" y="716" width="1" height="5" fill="#c0c0c0" />
<rect x="670" y="719" width="1" height="2" fill="#c0c0c0" />
<rect x="674" y="719" width="1" height="2" fill="#c0c0c0" />
<rect x="678" y="718" width="1" height="3" fill="#c0c0c0" />
<rect x="682" y="717" width="1" height="4" fill="#c0c0c0" />
<rect x="686" y="718" width="1" height="3" fill="#c0c0c0" />
<rect x="690" y="720" width="1" height="1" fill="#c0c0c0" />
<rect x="694" y="720" width="1" height="1" fill="#c0c0c0" />
<rect x="698" y="720" width="1" height="4" fill="#c0c0c0" />
<rect x="702" y="720" width="1" height="7" fill="#c0c0c0" />
<rect x="706" y="720" width="1" height="9" fill="#c0c0c0" />
<rect x="710" y="720" width="1" height="11" fill="#c0c0c0" />
<rect x="714" y="720" width="1" height="12" fill="#c0c0c0" />
<rect x="718" y="720" width="1" height="13" fill="#c0c0c0" />
<rect x="722" y="720" width="1" height="16" fill="#c0c0c0" />
<rect x="726" y="720" width="1" height="16" fill="#c0c0c0" />
<rect x="730" y="720" width="1" height="15" fill="#c0c0c0" />
<rect x="734" y="720" width="1" height="17" fill="#c0c0c0" />
<rect x="738" y="720" width="1" height="22" fill="#c0c0c0" />
<rect x="742" y="720" width="1" height="27" fill="#c0c0c0" />
<rect x="746" y="720" width="1" height="34" fill="#c0c0c0" />
<rect x="750" y="720" width="1" height="33" fill="#c0c0c0" />
<rect x="754" y="720" width="1" height="31" fill="#c0c0c0" />
<rect x="758" y="720" width="1" height="30" fill="#c0c0c0" />
<rect x="762" y="720" width="1" height="30" fill="#c0c0c0" />
<rect x="766" y="720" width="1" height="29" fill="#c0c0c0" />
<rect x="770" y="720" width="1" height="27" fill="#c0c0c0" />
<rect x="774" y="720" width="1" height="26" fill="#c0c0c0" />
<rect x="778" y="720" width="1" height="24" fill="#c0c0c0" />
<rect x="782" y="720" width="1" height="25" fill="#c0c0c0" />
<rect x="786" y="720" width="1" height="27" fill="#c0c0c0" />
<rect x="790" y="720" width="1" height="26" fill="#c0c0c0" />
<rect x="794" y="720" width="1" height="24" fill="#c0c0c0" />
<rect x="798" y="720" width="1" height="23" fill="#c0c0c0" />
<rect x="802" y="720" width="1" height="23" fill="#c0c0c0" />
<rect x="806" y="720" width="1" height="21" fill="#c0c0c0" />
<rect x="810" y="720" width="1" height="21" fill="#c0c0c0" />
<rect x="814" y="720" width="1" height="21" fill="#c0c0c0" />
<rect x="818" y="720" width="1" height="20" fill="#c0c0c0" />
<rect x="822" y="720" width="1" height="20" fill="#c0c0c0" />
<rect x="826" y="720" width="1" height="20" fill="#c0c0c0" />
<rect x="830" y="720" width="1" height="21" fill="#c0c0c0" />
<rect x="834" y="720" width="1" height="22" fill="#c0c0c0" />
<rect x="838" y="720" width="1" height="24" fill="#c0c0c0" />
<rect x="842" y="720" width="1" height="24" fill="#c0c0c0" />
<rect x="846" y="720" width="1" height="24" fill="#c0c0c0" />
<rect x="850" y="720" width="1" height="23" fill="#c0c0c0" />
<rect x="854" y="720" width="1" height="22" fill="#c0c0c0" />
<rect x="858" y="720" width="1" height="23" fill="#c0c0c0" />
<rect x="862" y="720" width="1" height="20" fill="#c0c0c0" />
<rect x="866" y="720" width="1" height="18" fill="#c0c0c0" />
<rect x="870" y="720" width="1" height="18" fill="#c0c0c0" />
<rect x="874" y="720" width="1" height="19" fill="#c0c0c0" />
<rect x="878" y="720" width="1" height="18" fill="#c0c0c0" />
<rect x="882" y="720" width="1" height="20" fill="#c0c0c0" />
<rect x="886" y="720" width="1" height="24" fill="#c0c0c0" />
<rect x="890" y="720" width="1" height="28" fill="#c0c0c0" />
<rect x="894" y="720" width="1" height="33" fill="#c0c0c0" />
<rect x="898" y="720" width="1" height="36" fill="#c0c0c0" />
<rect x="902" y="720" width="1" height="38" fill="#c0c0c0" />
<rect x="906" y="720" width="1" height="41" fill="#c0c0c0" />
<rect x="910" y="720" width="1" height="45" fill="#c0c0c0" />
<rect x="914" y="720" width="1" height="48" fill="#c0c0c0" />
<rect x="918" y="720" width="1" height="50" fill="#c0c0c0" />
<rect x="922" y="720" width="1" height="50" fill="#c0c0c0" />
<rect x="926" y="720" width="1" height="47" fill="#c0c0c0" />
<rect x="930" y="720" width="1" height="46" fill="#c0c0c0" />
<rect x="934" y="720" width="1" height="49" fill="#c0c0c0" />
<rect x="938" y="720" width="1" height="49" fill="#c0c0c0" />
<rect x="942" y="720" width="1" height="46" fill="#c0c0c0" />
<rect x="946" y="720" width="1" height="44" fill="#c0c0c0" />
<rect x="950" y="720" width="1" height="41" fill="#c0c0c0" />
<rect x="954" y="720" width="1" height="38" fill="#c0c0c0" />
<rect x="958" y="720" width="1" height="37" fill="#c0c0c0" />
<rect x="962" y="720" width="1" height="37" fill="#c0c0c0" />
<rect x="966" y="720" width="1" height="37" fill="#c0c0c0" />
<rect x="970" y="720" width="1" height="36" fill="#c0c0c0" />
<rect x="974" y="720" width="1" height="36" fill="#c0c0c0" />
<rect x="978" y="720" width="1" height="38" fill="#c0c0c0" />
<rect x="982" y="720" width="1" height="34" fill="#c0c0c0" />
<rect x="986" y="720" width="1" height="33" fill="#c0c0c0" />
<rect x="990" y="720" width="1" height="29" fill="#c0c0c0" />
<rect x="994" y="720" width="1" height="26" fill="#c0c0c0" />
<rect x="998" y="720" width="1" height="25" fill="#c0c0c0" />
<rect x="1002" y="720" width="1" height="24" fill="#c0c0c0" />
<rect x="1006" y="720" width="1" height="23" fill="#c0c0c0" />
<rect x="1010" y="720" width="1" height="22" fill="#c0c0c0" />
<rect x="1014" y="720" width="1" height="24" fill="#c0c0c0" />
<rect x="1018" y="720" width="1" height="24" fill="#c0c0c0" />
<rect x="1022" y="720" width="1" height="25" fill="#c0c0c0" />
<rect x="1026" y="720" width="1" height="23" fill="#c0c0c0" />
<rect x="1030" y="720" width="1" height="20" fill="#c0c0c0" />
<rect x="1034" y="720" width="1" height="18" fill="#c0c0c0" />
<rect x="1038" y="720" width="1" height="13" fill="#c0c0c0" />
<rect x="1042" y="720" width="1" height="11" fill="#c0c0c0" />
<rect x="1046" y="720" width="1" height="8" fill="#c0c0c0" />
<rect x="1050" y="720" width="1" height="4" fill="#c0c0c0" />
<rect x="1054" y="720" width="1" height="3" fill="#c0c0c0" />
<rect x="1058" y="720" width="1" height="5" fill="#c0c0c0" />
<rect x="1062" y="720" width="1" height="5" fill="#c0c0c0" />
<rect x="1066" y="720" width="1" height="6" fill="#c0c0c0" />
<rect x="1070" y="720" width="1" height="7" fill="#c0c0c0" />
<rect x="1074" y="720" width="1" height="7" fill="#c0c0c0" />
<rect x="1078" y="720" width="1" height="8" fill="#c0c0c0" />
<rect x="1082" y="720" width="1" height="7" fill="#c0c0c0" />
<rect x="1086" y="720" width="1" height="7" fill="#c0c0c0" />
<rect x="1090" y="720" width="1" height="6" fill="#c0c0c0" />
<rect x="1094" y="720" width="1" height="3" fill="#c0c0c0" />
<rect x="1098" y="717" width="1" height="4" fill="#c0c0c0" />
<rect x="1102" y="713" width="1" height="8" fill="#c0c0c0" />
<rect x="1106" y="707" width="1" height="14" fill="#c0c0c0" />
<rect x="1110" y="702" width="1" height="19" fill="#c0c0c0" />
<rect x="1114" y="699" width="1" height="22" fill="#c0c0c0" />
<rect x="1118" y="698" width="1" height="23" fill="#c0c0c0" />
<rect x="1122" y="699" width="1" height="22" fill="#c0c0c0" />
<rect x="1126" y="701" width="1" height="20" fill="#c0c0c0" />
<rect x="1130" y="704" width="1" height="17" fill="#c0c0c0" />
<rect x="1134" y="705" width="1" height="16" fill="#c0c0c0" />
<rect x="1138" y="707" width="1" height="14" fill="#c0c0c0" />
<rect x="1142" y="710" width="1" height="11" fill="#c0c0c0" />
<rect x="1146" y="712" width="1" height="9" fill="#c0c0c0" />
<rect x="1150" y="714" width="1" height="7" fill="#c0c0c0" />
<rect x="1154" y="714" width="1" height="7" fill="#c0c0c0" />
<rect x="1158" y="718" width="1" height="3" fill="#c0c0c0" />
<rect x="1162" y="720" width="1" height="3" fill="#c0c0c0" />
<rect x="1166" y="720" width="1" height="5" fill="#c0c0c0" />
<rect x="1170" y="720" width="1" height="5" fill="#c0c0c0" />
<rect x="1174" y="720" width="1" height="5" fill="#c0c0c0" />
<rect x="1178" y="720" width="1" height="5" fill="#c0c0c0" />
<rect x="1182" y="720" width="1" height="4" fill="#c0c0c0" />
<rect x="1186" y="720" width="1" height="4" fill="#c0c0c0" />
<rect x="1190" y="720" width="1" height="6" fill="#c0c0c0" />
<rect x="1194" y="720" width="1" height="9" fill="#c0c0c0" />
<rect x="1198" y="720" width="1" height="12" fill="#c0c0c0" />
<rect x="1202" y="720" width="1" height="13" fill="#c0c0c0" />
<rect x="1206" y="720" width="1" height="15" fill="#c0c0c0" />
<rect x="1210" y="720" width="1" height="16" fill="#c0c0c0" />
<rect x="1214" y="720" width="1" height="16" fill="#c0c0c0" />
<rect x="1218" y="720" width="1" height="16" fill="#c0c0c0" />
<rect x="1222" y="720" width="1" height="14" fill="#c0c0c0" />
<rect x="1226" y="720" width="1" height="9" fill="#c0c0c0" />
<rect x="1230" y="720" width="1" height="6" fill="#c0c0c0" />
<rect x="1234" y="720" width="1" height="3" fill="#c0c0c0" />
<rect x="1238" y="718" width="1" height="3" fill="#c0c0c0" />
<rect x="1242" y="719" width="1" height="2" fill="#c0c0c0" />
<rect x="1246" y="719" width="1" height="2" fill="#c0c0c0" />
<rect x="1250" y="720" width="1" height="3" fill="#c0c0c0" />
<rect x="1254" y="720" width="1" height="9" fill="#c0c0c0" />
<rect x="1258" y="720" width="1" height="13" fill="#c0c0c0" />
<rect x="1262" y="720" width="1" height="11" fill="#c0c0c0" />
<rect x="1266" y="720" width="1" height="8" fill="#c0c0c0" />
</g>
<path d="M493 703h1v1h-1zM1134 703h2v1h-2zM1139 703h3v1h-3zM491 704h2v1h-2zM497 704h3v1h-3zM1133 704h1v1h-1zM1145 704h3v1h-3zM369 706h2v1h-2zM374 706h3v1h-3zM380 706h3v1h-3zM486 706h2v1h-2zM503 706h1v1h-1zM1128 706h2v1h-2zM1151 706h2v1h-2zM368 707h1v1h-1zM485 707h1v1h-1zM504 707h2v1h-2zM1127 707h1v1h-1zM1153 707h1v1h-1zM362 708h3v1h-3zM386 708h3v1h-3zM358 709h1v1h-1zM509 709h1v1h-1zM1122 709h2v1h-2zM1157 709h1v1h-1zM356 710h2v1h-2zM392 710h1v1h-1zM510 710h2v1h-2zM539 710h3v1h-3zM1121 710h1v1h-1zM1158 710h2v1h-2zM393 711h1v1h-1zM482 711h1v1h-1zM529 711h1v1h-1zM533 711h3v1h-3zM545 711h3v1h-3zM352 712h1v1h-1zM394 712h1v1h-1zM481 712h1v1h-1zM515 712h2v1h-2zM527 712h2v1h-2zM1163 712h1v1h-1zM92 713h3v1h-3zM350 713h2v1h-2zM481 713h1v1h-1zM517 713h1v1h-1zM521 713h3v1h-3zM551 713h1v1h-1zM601 713h1v1h-1zM605 713h3v1h-3zM611 713h2v1h-2zM1117 713h1v1h-1zM1164 713h2v1h-2zM86 714h3v1h-3zM98 714h3v1h-3zM552 714h2v1h-2zM599 714h2v1h-2zM613 714h1v1h-1zM1115 714h2v1h-2zM82 715h1v1h-1zM104 715h1v1h-1zM346 715h1v1h-1zM398 715h1v1h-1zM593 715h3v1h-3zM617 715h3v1h-3zM623 715h2v1h-2zM1169 715h1v1h-1zM80 716h2v1h-2zM105 716h2v1h-2zM344 716h2v1h-2zM399 716h2v1h-2zM557 716h3v1h-3zM625 716h1v1h-1zM659 716h3v1h-3zM665 716h3v1h-3zM1170 716h2v1h-2zM479 717h1v1h-1zM588 717h2v1h-2zM629 717h3v1h-3zM649 717h1v1h-1zM653 717h3v1h-3zM671 717h3v1h-3zM677 717h3v1h-3zM683 717h3v1h-3zM1111 717h1v1h-1zM74 718h3v1h-3zM110 718h2v1h-2zM340 718h1v1h-1zM478 718h1v1h-1zM563 718h2v1h-2zM587 718h1v1h-1zM635 718h3v1h-3zM641 718h3v1h-3zM647 718h2v1h-2zM689 718h3v1h-3zM695 718h2v1h-2zM1110 718h1v1h-1zM1175 718h1v1h-1zM26 719h3v1h-3zM32 719h3v1h-3zM38 719h3v1h-3zM112 719h1v1h-1zM338 719h2v1h-2zM477 719h1v1h-1zM565 719h1v1h-1zM569 719h3v1h-3zM581 719h3v1h-3zM697 719h1v1h-1zM1109 719h1v1h-1zM1176 719h2v1h-2zM20 720h3v1h-3zM44 720h1v1h-1zM69 720h2v1h-2zM404 720h1v1h-1zM575 720h3v1h-3zM701 720h3v1h-3zM9 721h2v1h-2zM14 721h3v1h-3zM45 721h2v1h-2zM68 721h1v1h-1zM116 721h2v1h-2zM334 721h1v1h-1zM405 721h1v1h-1zM707 721h2v1h-2zM1181 721h3v1h-3zM2 722h3v1h-3zM8 722h1v1h-1zM50 722h3v1h-3zM56 722h3v1h-3zM62 722h3v1h-3zM118 722h1v1h-1zM332 722h2v1h-2zM406 722h1v1h-1zM709 722h1v1h-1zM1104 722h2v1h-2zM1187 722h2v1h-2zM475 723h1v1h-1zM713 723h1v1h-1zM1103 723h1v1h-1zM1189 723h1v1h-1zM122 724h2v1h-2zM328 724h1v1h-1zM475 724h1v1h-1zM714 724h2v1h-2zM1097 724h3v1h-3zM1193 724h3v1h-3zM1253 724h3v1h-3zM1259 724h3v1h-3zM1265 724h2v1h-2zM124 725h1v1h-1zM326 725h2v1h-2zM474 725h1v1h-1zM719 725h1v1h-1zM1073 725h3v1h-3zM1079 725h3v1h-3zM1085 725h3v1h-3zM1091 725h3v1h-3zM1199 725h2v1h-2zM1249 725h1v1h-1zM128 726h1v1h-1zM321 726h2v1h-2zM409 726h1v1h-1zM720 726h2v1h-2zM1069 726h1v1h-1zM1201 726h1v1h-1zM1247 726h2v1h-2zM129 727h2v1h-2zM320 727h1v1h-1zM410 727h1v1h-1zM1067 727h2v1h-2zM1205 727h3v1h-3zM134 728h2v1h-2zM314 728h3v1h-3zM411 728h1v1h-1zM725 728h1v1h-1zM1211 728h1v1h-1zM1241 728h3v1h-3zM136 729h1v1h-1zM308 729h3v1h-3zM472 729h1v1h-1zM726 729h2v1h-2zM1062 729h2v1h-2zM1212 729h2v1h-2zM140 730h1v1h-1zM297 730h2v1h-2zM302 730h3v1h-3zM472 730h1v1h-1zM731 730h1v1h-1zM1061 730h1v1h-1zM1236 730h2v1h-2zM141 731h2v1h-2zM296 731h1v1h-1zM471 731h1v1h-1zM732 731h2v1h-2zM1217 731h3v1h-3zM1235 731h1v1h-1zM290 732h3v1h-3zM414 732h1v1h-1zM1056 732h2v1h-2zM1223 732h3v1h-3zM1229 732h3v1h-3zM146 733h3v1h-3zM286 733h1v1h-1zM415 733h1v1h-1zM737 733h1v1h-1zM1055 733h1v1h-1zM152 734h1v1h-1zM284 734h2v1h-2zM415 734h1v1h-1zM738 734h2v1h-2zM153 735h2v1h-2zM470 735h1v1h-1zM1050 735h2v1h-2zM158 736h3v1h-3zM164 736h1v1h-1zM278 736h3v1h-3zM469 736h1v1h-1zM743 736h1v1h-1zM1049 736h1v1h-1zM165 737h2v1h-2zM170 737h3v1h-3zM469 737h1v1h-1zM744 737h2v1h-2zM176 738h3v1h-3zM273 738h2v1h-2zM418 738h1v1h-1zM1044 738h2v1h-2zM182 739h3v1h-3zM266 739h3v1h-3zM272 739h1v1h-1zM419 739h1v1h-1zM881 739h3v1h-3zM887 739h2v1h-2zM1043 739h1v1h-1zM188 740h1v1h-1zM254 740h3v1h-3zM260 740h3v1h-3zM419 740h1v1h-1zM749 740h1v1h-1zM827 740h3v1h-3zM833 740h3v1h-3zM839 740h3v1h-3zM875 740h3v1h-3zM889 740h1v1h-1zM1037 740h3v1h-3zM189 741h2v1h-2zM248 741h3v1h-3zM467 741h1v1h-1zM750 741h2v1h-2zM821 741h3v1h-3zM845 741h3v1h-3zM851 741h3v1h-3zM865 741h1v1h-1zM869 741h3v1h-3zM893 741h3v1h-3zM1033 741h1v1h-1zM194 742h2v1h-2zM242 742h3v1h-3zM466 742h1v1h-1zM815 742h3v1h-3zM857 742h3v1h-3zM863 742h2v1h-2zM1031 742h2v1h-2zM196 743h1v1h-1zM236 743h3v1h-3zM466 743h1v1h-1zM755 743h2v1h-2zM805 743h1v1h-1zM809 743h3v1h-3zM899 743h1v1h-1zM1025 743h3v1h-3zM200 744h1v1h-1zM230 744h3v1h-3zM421 744h1v1h-1zM757 744h1v1h-1zM803 744h2v1h-2zM900 744h2v1h-2zM1019 744h3v1h-3zM201 745h2v1h-2zM422 745h1v1h-1zM761 745h1v1h-1zM793 745h1v1h-1zM797 745h3v1h-3zM206 746h3v1h-3zM225 746h2v1h-2zM423 746h1v1h-1zM762 746h2v1h-2zM791 746h2v1h-2zM1013 746h3v1h-3zM212 747h3v1h-3zM218 747h3v1h-3zM224 747h1v1h-1zM464 747h1v1h-1zM767 747h2v1h-2zM781 747h1v1h-1zM785 747h3v1h-3zM905 747h1v1h-1zM464 748h1v1h-1zM769 748h1v1h-1zM779 748h2v1h-2zM906 748h1v1h-1zM1008 748h2v1h-2zM463 749h1v1h-1zM773 749h3v1h-3zM907 749h1v1h-1zM1007 749h1v1h-1zM425 750h1v1h-1zM1002 750h2v1h-2zM426 751h1v1h-1zM1001 751h1v1h-1zM427 752h1v1h-1zM911 752h2v1h-2zM997 752h1v1h-1zM461 753h1v1h-1zM913 753h1v1h-1zM995 753h2v1h-2zM461 754h1v1h-1zM989 754h3v1h-3zM460 755h1v1h-1zM985 755h1v1h-1zM429 756h1v1h-1zM917 756h1v1h-1zM983 756h2v1h-2zM429 757h1v1h-1zM918 757h1v1h-1zM977 757h3v1h-3zM430 758h1v1h-1zM919 758h1v1h-1zM973 758h1v1h-1zM458 759h1v1h-1zM971 759h2v1h-2zM457 760h1v1h-1zM923 760h1v1h-1zM457 761h1v1h-1zM924 761h2v1h-2zM965 761h3v1h-3zM434 762h1v1h-1zM961 762h1v1h-1zM435 763h1v1h-1zM929 763h1v1h-1zM959 763h2v1h-2zM436 764h1v1h-1zM930 764h2v1h-2zM454 765h1v1h-1zM935 765h2v1h-2zM953 765h3v1h-3zM453 766h1v1h-1zM937 766h1v1h-1zM949 766h1v1h-1zM440 767h2v1h-2zM452 767h1v1h-1zM941 767h3v1h-3zM947 767h2v1h-2zM442 768h1v1h-1zM446 769h3v1h-3z" fill="#ff0000" shape-rendering="crispEdges"/>
<text x="6" y="698" font-size="9.3" fill="#000" text-anchor="start" >MACD(12,26,9) -0.001269 -0.000759</text>
<rect x="1595" y="720" width="2" height="1" fill="#000" />
<text x="1598" y="696" font-size="9.3" fill="#000" text-anchor="start" >0.005818</text>
<text x="1598" y="724" font-size="9.3" fill="#000" text-anchor="start" >0.00</text>
<text x="1598" y="783" font-size="9.3" fill="#000" text-anchor="start" >-0.011514</text>
<rect x="2" y="787" width="1" height="3" fill="#000" />
<text x="0.7" y="799" font-size="9.3" fill="#000" text-anchor="start" textLength="50.3" lengthAdjust="spacing">7 Nov 2019</text>
<rect x="66" y="787" width="1" height="3" fill="#000" />
<text x="64.7" y="799" font-size="9.3" fill="#000" text-anchor="start" textLength="54.7" lengthAdjust="spacing">26 Nov 2019</text>
<rect x="130" y="787" width="1" height="3" fill="#000" />
<text x="128.7" y="799" font-size="9.3" fill="#000" text-anchor="start" textLength="53.0" lengthAdjust="spacing">14 Dec 2019</text>
<rect x="194" y="787" width="1" height="3" fill="#000" />
<text x="192.7" y="799" font-size="9.3" fill="#000" text-anchor="start" textLength="45.6" lengthAdjust="spacing">2 Jan 2020</text>
<rect x="258" y="787" width="1" height="3" fill="#000" />
<text x="256.7" y="799" font-size="9.3" fill="#000" text-anchor="start" textLength="49.7" lengthAdjust="spacing">21 Jan 2020</text>
<rect x="322" y="787" width="1" height="3" fill="#000" />
<text x="320.7" y="799" font-size="9.3" fill="#000" text-anchor="start" textLength="47.3" lengthAdjust="spacing">8 Feb 2020</text>
<rect x="386" y="787" width="1" height="3" fill="#000" />
<text x="384.7" y="799" font-size="9.3" fill="#000" text-anchor="start" textLength="52.4" lengthAdjust="spacing">27 Feb 2020</text>
<rect x="450" y="787" width="1" height="3" fill="#000" />
<text x="448.7" y="799" font-size="9.3" fill="#000" text-anchor="start" textLength="52.0" lengthAdjust="spacing">17 Mar 2020</text>
<rect x="514" y="787" width="1" height="3" fill="#000" />
<text x="512.7" y="799" font-size="9.3" fill="#000" text-anchor="start" textLength="46.9" lengthAdjust="spacing">4 Apr 2020</text>
<rect x="578" y="787" width="1" height="3" fill="#000" />
<text x="576.7" y="799" font-size="9.3" fill="#000" text-anchor="start" textLength="52.0" lengthAdjust="spacing">23 Apr 2020</text>
<rect x="642" y="787" width="1" height="3" fill="#000" />
<text x="640.7" y="799" font-size="9.3" fill="#000" text-anchor="start" textLength="55.0" lengthAdjust="spacing">12 May 2020</text>
<rect x="706" y="787" width="1" height="3" fill="#000" />
<text x="704.7" y="799" font-size="9.3" fill="#000" text-anchor="start" textLength="55.7" lengthAdjust="spacing">30 May 2020</text>
<rect x="770" y="787" width="1" height="3" fill="#000" />
<text x="768.7" y="799" font-size="9.3" fill="#000" text-anchor="start" textLength="50.3" lengthAdjust="spacing">18 Jun 2020</text>
<rect x="834" y="787" width="1" height="3" fill="#000" />
<text x="832.7" y="799" font-size="9.3" fill="#000" text-anchor="start" textLength="41.9" lengthAdjust="spacing">7 Jul 2020</text>
<rect x="898" y="787" width="1" height="3" fill="#000" />
<text x="896.7" y="799" font-size="9.3" fill="#000" text-anchor="start" textLength="47.3" lengthAdjust="spacing">25 Jul 2020</text>
<rect x="962" y="787" width="1" height="3" fill="#000" />
<text x="960.7" y="799" font-size="9.3" fill="#000" text-anchor="start" textLength="53.0" lengthAdjust="spacing">13 Aug 2020</text>
<rect x="1026" y="787" width="1" height="3" fill="#000" />
<text x="1024.7" y="799" font-size="9.3" fill="#000" text-anchor="start" textLength="47.0" lengthAdjust="spacing">1 Sep 2020</text>
<rect x="1090" y="787" width="1" height="3" fill="#000" />
<text x="1088.7" y="799" font-size="9.3" fill="#000" text-anchor="start" textLength="52.3" lengthAdjust="spacing">19 Sep 2020</text>
<rect x="1154" y="787" width="1" height="3" fill="#000" />
<text x="1152.7" y="799" font-size="9.3" fill="#000" text-anchor="start" textLength="46.6" lengthAdjust="spacing">8 Oct 2020</text>
<rect x="1218" y="787" width="1" height="3" fill="#000" />
<text x="1216.7" y="799" font-size="9.3" fill="#000" text-anchor="start" textLength="51.6" lengthAdjust="spacing">27 Oct 2020</text>
<rect x="0" y="807" width="1636" height="1" fill="#e4e4e4" />
<rect x="0" y="809" width="1636" height="18" fill="#f0f0f0" />
<rect x="0" y="809" width="1636" height="1" fill="#000" />
<rect x="0" y="810" width="1636" height="1" fill="#fbfbfb" />
<rect x="106" y="810" width="1" height="17" fill="#fbfbfb" />
<rect x="108" y="808" width="98" height="19" fill="#fff" />
<rect x="107" y="809" width="1" height="18" fill="#000" />
<rect x="206" y="809" width="1" height="18" fill="#000" />
<text x="14.1" y="824" font-size="12.2" fill="#6e6e6e" text-anchor="start" textLength="81.6" lengthAdjust="spacing">EURUSD,Daily</text>
<text x="116" y="824" font-size="12.2" fill="#000" text-anchor="start" textLength="80.6" lengthAdjust="spacing">USDCHF,Daily</text>
<text x="216.8" y="824" font-size="12.2" fill="#6e6e6e" text-anchor="start" textLength="84.0" lengthAdjust="spacing">AUDUSD,Daily</text>
<text x="321" y="824" font-size="12.2" fill="#6e6e6e" text-anchor="start" textLength="82.3" lengthAdjust="spacing">USDCAD,Daily</text>
<text x="424.2" y="824" font-size="12.2" fill="#6e6e6e" text-anchor="start" textLength="84.0" lengthAdjust="spacing">USDCNH,Daily</text>
<text x="529.4" y="824" font-size="12.2" fill="#6e6e6e" text-anchor="start" textLength="82.4" lengthAdjust="spacing">EURUSD,Daily</text>
<text x="634" y="824" font-size="12.2" fill="#6e6e6e" text-anchor="start" textLength="69.6" lengthAdjust="spacing">GBPUSD,H4</text>
<text x="724.8" y="824" font-size="12.2" fill="#6e6e6e" text-anchor="start" textLength="70.5" lengthAdjust="spacing">XAUUSD,H4</text>
<text x="816.9" y="824" font-size="12.2" fill="#6e6e6e" text-anchor="start" textLength="50.7" lengthAdjust="spacing">HK50,H1</text>
<text x="889.2" y="824" font-size="12.2" fill="#6e6e6e" text-anchor="start" textLength="58.0" lengthAdjust="spacing">UK100,H1</text>
<text x="969.2" y="824" font-size="12.2" fill="#6e6e6e" text-anchor="start" textLength="58.0" lengthAdjust="spacing">UK100,H1</text>
<text x="1048.8" y="824" font-size="12.2" fill="#6e6e6e" text-anchor="start" textLength="58.6" lengthAdjust="spacing">GER30,H1</text>
<text x="1128" y="824" font-size="12.2" fill="#6e6e6e" text-anchor="start" textLength="56.1" lengthAdjust="spacing">FRA40,H1</text>
<text x="1204.3" y="824" font-size="12.2" fill="#6e6e6e" text-anchor="start" textLength="52.0" lengthAdjust="spacing">USOil,H4</text>
<text x="1275.9" y="824" font-size="12.2" fill="#6e6e6e" text-anchor="start" textLength="64.5" lengthAdjust="spacing">USDJPY,H1</text>
<text x="1360" y="824" font-size="12.2" fill="#6e6e6e" text-anchor="start" textLength="61.1" lengthAdjust="spacing">DJ30,Daily</text>
<text x="1439.6" y="824" font-size="12.2" fill="#6e6e6e" text-anchor="start" textLength="80.6" lengthAdjust="spacing">CHINA300,H1</text>
<text x="1539.8" y="824" font-size="12.2" fill="#6e6e6e" text-anchor="start" textLength="52.0" lengthAdjust="spacing">USOil,H1</text>
<rect x="311" y="812" width="1" height="14" fill="#6a6a6a" />
<rect x="415" y="812" width="1" height="14" fill="#6a6a6a" />
<rect x="519" y="812" width="1" height="14" fill="#6a6a6a" />
<rect x="623" y="812" width="1" height="14" fill="#6a6a6a" />
<rect x="715" y="812" width="1" height="14" fill="#6a6a6a" />
<rect x="807" y="812" width="1" height="14" fill="#6a6a6a" />
<rect x="879" y="812" width="1" height="14" fill="#6a6a6a" />
<rect x="959" y="812" width="1" height="14" fill="#6a6a6a" />
<rect x="1039" y="812" width="1" height="14" fill="#6a6a6a" />
<rect x="1119" y="812" width="1" height="14" fill="#6a6a6a" />
<rect x="1195" y="812" width="1" height="14" fill="#6a6a6a" />
<rect x="1267" y="812" width="1" height="14" fill="#6a6a6a" />
<rect x="1351" y="812" width="1" height="14" fill="#6a6a6a" />
<rect x="1431" y="812" width="1" height="14" fill="#6a6a6a" />
<rect x="1531" y="812" width="1" height="14" fill="#6a6a6a" />
<rect x="1603" y="812" width="1" height="14" fill="#6a6a6a" />
<path d="M1613 815 l-3.4 3 l3.4 3 z" fill="#a0a0a0"/>
<path d="M1628.8 815 l3.4 3 l-3.4 3 z" fill="#000"/></svg>
</body></html>
